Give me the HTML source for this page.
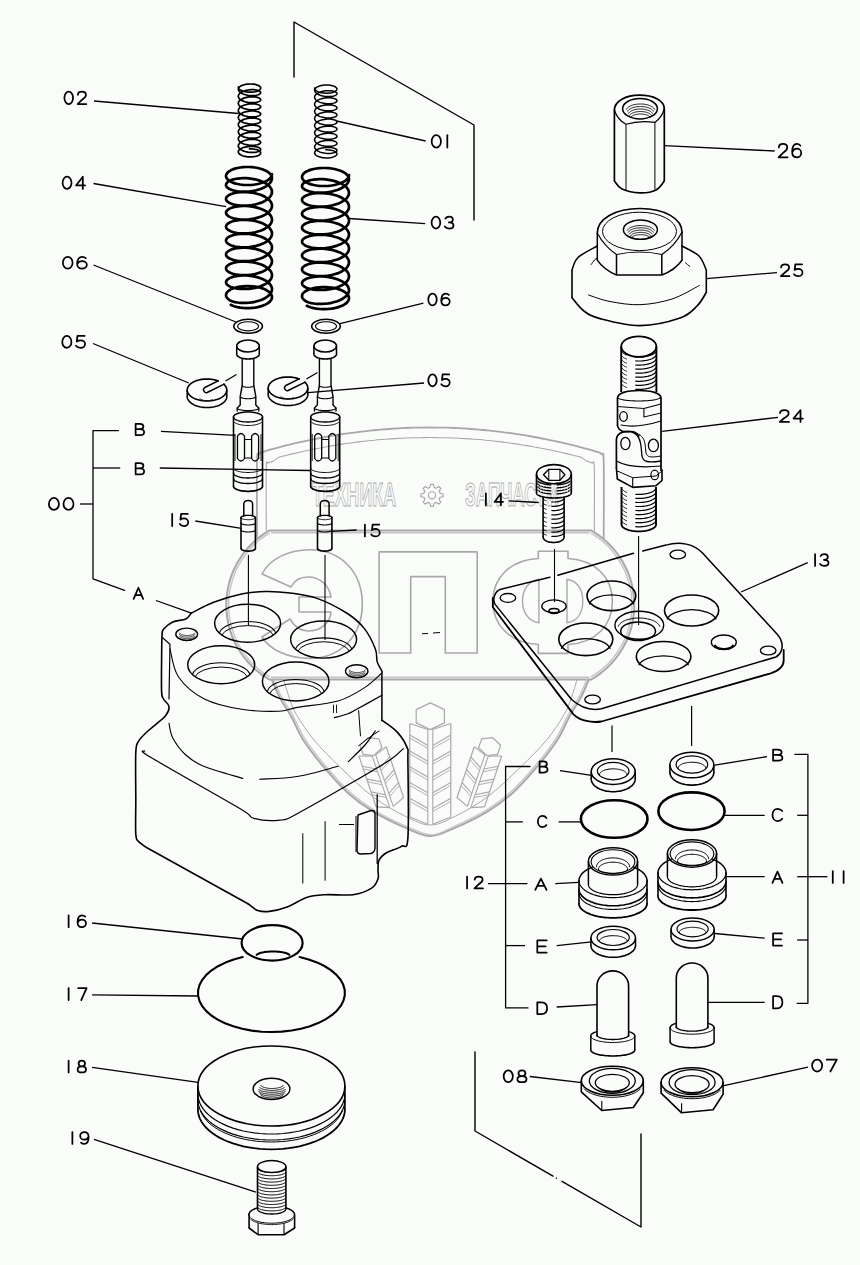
<!DOCTYPE html>
<html><head><meta charset="utf-8"><style>
html,body{margin:0;padding:0;background:#fafcfa;}
body{width:860px;height:1265px;overflow:hidden;}
svg{display:block;font-family:"Liberation Sans",sans-serif;}
</style></head><body>
<svg width="860" height="1265" viewBox="0 0 860 1265">
<rect width="860" height="1265" fill="#fafcfa"/>
<path d="M257.0,538.0 C257.0,525.3 256.7,476.0 257.0,462.0 C257.3,448.0 257.7,455.8 259.0,454.0 C260.3,452.2 262.6,452.2 265.0,451.3 C267.4,450.4 270.5,449.6 273.2,448.8 C276.0,448.1 278.8,447.4 281.5,446.6 C284.2,445.9 287.0,445.2 289.8,444.6 C292.5,443.9 295.2,443.3 298.0,442.6 C300.8,442.0 303.5,441.4 306.2,440.8 C309.0,440.2 311.8,439.6 314.5,439.1 C317.2,438.5 320.0,438.0 322.8,437.5 C325.5,437.0 328.2,436.5 331.0,436.0 C333.8,435.5 336.5,435.1 339.2,434.6 C342.0,434.2 344.8,433.8 347.5,433.4 C350.2,433.0 353.0,432.6 355.8,432.3 C358.5,431.9 361.2,431.6 364.0,431.3 C366.8,431.0 369.5,430.7 372.2,430.4 C375.0,430.1 377.8,429.9 380.5,429.6 C383.2,429.4 386.0,429.2 388.8,429.0 C391.5,428.8 394.2,428.6 397.0,428.4 C399.8,428.3 402.5,428.1 405.2,428.0 C408.0,427.9 410.8,427.8 413.5,427.7 C416.2,427.7 419.0,427.6 421.8,427.6 C424.5,427.5 427.2,427.5 430.0,427.5 C432.8,427.5 435.5,427.5 438.2,427.6 C441.0,427.6 443.8,427.7 446.5,427.7 C449.2,427.8 452.0,427.9 454.8,428.0 C457.5,428.1 460.2,428.3 463.0,428.4 C465.8,428.6 468.5,428.8 471.2,429.0 C474.0,429.2 476.8,429.4 479.5,429.6 C482.2,429.9 485.0,430.1 487.8,430.4 C490.5,430.7 493.2,431.0 496.0,431.3 C498.8,431.6 501.5,431.9 504.2,432.3 C507.0,432.6 509.8,433.0 512.5,433.4 C515.2,433.8 518.0,434.2 520.8,434.6 C523.5,435.1 526.2,435.5 529.0,436.0 C531.8,436.5 534.5,437.0 537.2,437.5 C540.0,438.0 542.8,438.5 545.5,439.1 C548.2,439.6 551.0,440.2 553.8,440.8 C556.5,441.4 559.2,442.0 562.0,442.6 C564.8,443.3 567.5,443.9 570.2,444.6 C573.0,445.2 575.8,445.9 578.5,446.6 C581.2,447.4 584.0,448.1 586.8,448.8 C589.5,449.6 592.5,450.4 595.0,451.3 C597.5,452.2 600.0,452.2 601.5,454.0 C603.0,455.8 603.3,448.0 603.7,462.0 C604.1,476.0 603.7,525.3 603.7,538.0" stroke="#a8a8a8" stroke-width="1.8" fill="none" stroke-linejoin="round" stroke-linecap="round"/>
<path d="M266.3,530.5 C266.3,520.1 266.0,479.2 266.3,468.0 C266.6,456.8 266.9,464.1 268.0,463.0 C269.1,461.9 271.2,462.2 273.0,461.3 C274.8,460.4 276.6,458.3 278.9,457.3 C281.3,456.3 284.2,455.9 286.9,455.3 C289.5,454.6 292.2,454.0 294.9,453.4 C297.5,452.7 300.2,452.1 302.8,451.5 C305.4,451.0 308.1,450.4 310.8,449.8 C313.4,449.3 316.1,448.8 318.7,448.3 C321.3,447.7 324.0,447.2 326.6,446.8 C329.3,446.3 332.0,445.8 334.6,445.4 C337.2,445.0 339.9,444.5 342.6,444.1 C345.2,443.7 347.9,443.4 350.5,443.0 C353.1,442.6 355.8,442.3 358.4,441.9 C361.1,441.6 363.8,441.3 366.4,441.0 C369.0,440.7 371.7,440.4 374.4,440.2 C377.0,439.9 379.7,439.7 382.3,439.5 C384.9,439.3 387.6,439.1 390.2,438.9 C392.9,438.7 395.6,438.5 398.2,438.4 C400.8,438.2 403.5,438.1 406.1,438.0 C408.8,437.9 411.5,437.8 414.1,437.7 C416.8,437.6 419.4,437.6 422.1,437.6 C424.7,437.5 427.4,437.5 430.0,437.5 C432.6,437.5 435.3,437.5 437.9,437.6 C440.6,437.6 443.2,437.6 445.9,437.7 C448.5,437.8 451.2,437.9 453.9,438.0 C456.5,438.1 459.2,438.2 461.8,438.4 C464.4,438.5 467.1,438.7 469.8,438.9 C472.4,439.1 475.1,439.3 477.7,439.5 C480.3,439.7 483.0,439.9 485.6,440.2 C488.3,440.4 491.0,440.7 493.6,441.0 C496.2,441.3 498.9,441.6 501.6,441.9 C504.2,442.3 506.9,442.6 509.5,443.0 C512.1,443.4 514.8,443.7 517.5,444.1 C520.1,444.5 522.8,445.0 525.4,445.4 C528.0,445.8 530.7,446.3 533.4,446.8 C536.0,447.2 538.6,447.7 541.3,448.3 C543.9,448.8 546.6,449.3 549.2,449.8 C551.9,450.4 554.6,451.0 557.2,451.5 C559.9,452.1 562.5,452.7 565.1,453.4 C567.8,454.0 570.5,454.6 573.1,455.3 C575.8,455.9 578.7,456.3 581.0,457.3 C583.4,458.3 585.2,460.4 587.0,461.3 C588.8,462.2 590.8,461.9 592.0,463.0 C593.2,464.1 593.9,456.8 594.3,468.0 C594.7,479.2 594.3,520.1 594.3,530.5" stroke="#a8a8a8" stroke-width="1.1" fill="none" stroke-linejoin="round" stroke-linecap="round"/>
<line x1="269.4" y1="530.5" x2="591.2" y2="530.5" stroke="#a8a8a8" stroke-width="2.0"/>
<line x1="271.0" y1="532.8" x2="589.6" y2="532.8" stroke="#c4c4c4" stroke-width="1.4"/>
<line x1="269.4" y1="679.5" x2="591.2" y2="679.5" stroke="#a8a8a8" stroke-width="2.0"/>
<line x1="271.0" y1="677.2" x2="589.6" y2="677.2" stroke="#c4c4c4" stroke-width="1.4"/>
<polyline points="269.3,679.5 265.5,677.1 261.8,674.6 258.2,671.8 254.8,668.9 251.5,665.8 248.4,662.5 245.5,659.1 242.7,655.5 240.2,651.8 237.8,648.0 235.7,644.0 233.7,640.0 232.0,635.8 230.5,631.6 229.2,627.3 228.2,622.9 227.4,618.5 226.8,614.0 226.4,609.5 226.3,605.0 226.4,600.5 226.8,596.0 227.4,591.5 228.2,587.1 229.2,582.7 230.5,578.4 232.0,574.2 233.7,570.0 235.7,566.0 237.8,562.0 240.2,558.2 242.7,554.5 245.5,550.9 248.4,547.5 251.5,544.2 254.8,541.1 258.2,538.2 261.8,535.4 265.5,532.9 269.3,530.5" stroke="#a8a8a8" stroke-width="2.0" fill="none" stroke-linejoin="round" stroke-linecap="round"/>
<polyline points="269.2,676.7 265.6,674.4 262.0,671.9 258.7,669.3 255.4,666.4 252.3,663.4 249.4,660.2 246.7,656.9 244.1,653.5 241.7,649.9 239.5,646.2 237.4,642.4 235.6,638.5 234.0,634.5 232.6,630.4 231.4,626.3 230.4,622.1 229.6,617.9 229.0,613.6 228.7,609.3 228.6,605.0 228.7,600.7 229.0,596.4 229.6,592.1 230.4,587.9 231.4,583.7 232.6,579.6 234.0,575.5 235.6,571.5 237.4,567.6 239.5,563.8 241.7,560.1 244.1,556.5 246.7,553.1 249.4,549.8 252.3,546.6 255.4,543.6 258.7,540.7 262.0,538.1 265.6,535.6 269.2,533.3" stroke="#c4c4c4" stroke-width="1.4" fill="none" stroke-linejoin="round" stroke-linecap="round"/>
<polyline points="591.3,530.5 595.1,532.9 598.8,535.4 602.4,538.2 605.8,541.1 609.1,544.2 612.2,547.5 615.1,550.9 617.9,554.5 620.4,558.2 622.8,562.0 624.9,566.0 626.9,570.0 628.6,574.2 630.1,578.4 631.4,582.7 632.4,587.1 633.2,591.5 633.8,596.0 634.2,600.5 634.3,605.0 634.2,609.5 633.8,614.0 633.2,618.5 632.4,622.9 631.4,627.3 630.1,631.6 628.6,635.8 626.9,640.0 624.9,644.0 622.8,648.0 620.4,651.8 617.9,655.5 615.1,659.1 612.2,662.5 609.1,665.8 605.8,668.9 602.4,671.8 598.8,674.6 595.1,677.1 591.3,679.5" stroke="#a8a8a8" stroke-width="2.0" fill="none" stroke-linejoin="round" stroke-linecap="round"/>
<polyline points="591.4,533.3 595.0,535.6 598.6,538.1 601.9,540.7 605.2,543.6 608.3,546.6 611.2,549.8 613.9,553.1 616.5,556.5 618.9,560.1 621.1,563.8 623.2,567.6 625.0,571.5 626.6,575.5 628.0,579.6 629.2,583.7 630.2,587.9 631.0,592.1 631.6,596.4 631.9,600.7 632.0,605.0 631.9,609.3 631.6,613.6 631.0,617.9 630.2,622.1 629.2,626.3 628.0,630.4 626.6,634.5 625.0,638.5 623.2,642.4 621.1,646.2 618.9,649.9 616.5,653.5 613.9,656.9 611.2,660.2 608.3,663.4 605.2,666.4 601.9,669.3 598.6,671.9 595.0,674.4 591.4,676.7" stroke="#c4c4c4" stroke-width="1.4" fill="none" stroke-linejoin="round" stroke-linecap="round"/>
<path d="M272.0,680.0 C273.4,683.1 277.0,692.4 280.2,698.4 C283.4,704.4 287.1,709.1 291.0,716.0 C294.9,722.9 297.7,731.4 303.3,740.0 C308.9,748.6 316.8,758.8 324.4,767.7 C332.0,776.7 340.6,786.4 348.8,793.7 C357.0,801.0 363.8,805.9 373.3,811.6 C382.8,817.3 396.3,823.8 405.8,827.9 C415.3,832.0 422.0,836.0 430.2,836.0 C438.4,836.0 445.3,832.0 454.8,827.9 C464.3,823.8 477.8,817.3 487.3,811.6 C496.8,805.9 503.6,801.0 511.8,793.7 C520.0,786.4 528.6,776.7 536.2,767.7 C543.8,758.8 551.7,748.6 557.3,740.0 C562.9,731.4 565.8,722.9 569.6,716.0 C573.5,709.1 577.2,704.4 580.4,698.4 C583.6,692.4 587.2,683.1 588.6,680.0" stroke="#a8a8a8" stroke-width="2.0" fill="none" stroke-linejoin="round" stroke-linecap="round"/>
<path d="M273.6,678.8 C275.0,681.9 278.6,691.2 281.8,697.2 C285.0,703.2 288.8,707.9 292.6,714.8 C296.5,721.7 299.3,730.2 304.9,738.8 C310.5,747.4 318.4,757.5 326.0,766.5 C333.6,775.5 342.2,785.2 350.4,792.5 C358.6,799.8 365.4,804.7 374.9,810.4 C384.4,816.1 397.9,822.6 407.4,826.7 C416.9,830.8 424.2,834.8 431.8,834.8 C439.4,834.8 444.2,830.8 453.2,826.7 C462.2,822.6 476.2,816.1 485.7,810.4 C495.2,804.7 502.0,799.8 510.2,792.5 C518.4,785.2 527.0,775.5 534.6,766.5 C542.2,757.5 550.1,747.4 555.7,738.8 C561.3,730.2 564.1,721.7 568.0,714.8 C571.9,707.9 575.6,703.2 578.8,697.2 C582.0,691.2 585.6,681.9 587.0,678.8" stroke="#c4c4c4" stroke-width="1.2" fill="none" stroke-linejoin="round" stroke-linecap="round"/>
<path d="M283.7,680.0 C284.8,683.3 287.9,694.2 290.0,700.0 C292.1,705.8 292.5,708.0 296.5,714.7 C300.5,721.4 306.6,731.2 314.0,740.0 C321.4,748.8 330.8,758.2 340.7,767.7 C350.6,777.2 362.4,788.9 373.3,797.0 C384.2,805.1 396.3,811.8 405.8,816.5 C415.3,821.2 422.1,825.0 430.3,825.0 C438.5,825.0 445.3,821.2 454.8,816.5 C464.3,811.8 476.4,805.1 487.3,797.0 C498.2,788.9 510.0,777.2 519.9,767.7 C529.8,758.2 539.2,748.8 546.6,740.0 C554.0,731.2 560.1,721.4 564.1,714.7 C568.1,708.0 568.5,705.8 570.6,700.0 C572.7,694.2 575.9,683.3 576.9,680.0" stroke="#a8a8a8" stroke-width="1.0" fill="none" stroke-linejoin="round" stroke-linecap="round"/>
<text x="312" y="506.4" font-size="33" font-weight="bold" textLength="84" lengthAdjust="spacingAndGlyphs" fill="none" stroke="#a8a8a8" stroke-width="1.0">ТЕХНИКА</text>
<text x="465" y="506.4" font-size="33" font-weight="bold" textLength="94" lengthAdjust="spacingAndGlyphs" fill="none" stroke="#a8a8a8" stroke-width="1.0">ЗАПЧАСТИ</text>
<polygon points="443.1,494.0 443.1,496.6 439.9,497.5 439.1,499.3 440.8,502.2 438.9,504.1 436.0,502.4 434.2,503.2 433.3,506.4 430.7,506.4 429.8,503.2 428.0,502.4 425.1,504.1 423.2,502.2 424.9,499.3 424.1,497.5 420.9,496.6 420.9,494.0 424.1,493.1 424.9,491.3 423.2,488.4 425.1,486.5 428.0,488.2 429.8,487.4 430.7,484.2 433.3,484.2 434.2,487.4 436.0,488.2 438.9,486.5 440.8,488.4 439.1,491.3 439.9,493.1" stroke="#a8a8a8" stroke-width="1.2" fill="none" stroke-linejoin="round" stroke-linecap="round"/>
<ellipse cx="432.0" cy="495.3" rx="3.6" ry="3.6" stroke="#a8a8a8" stroke-width="1.1" fill="none"/>
<path d="M379.1,653 L379.1,551.9 L477.2,551.9 L477.2,653 L445.3,653 L445.3,576.6 L410.7,576.6 L410.7,653 Z" stroke="#a8a8a8" stroke-width="1.6" fill="none" stroke-linejoin="round" stroke-linecap="round"/>
<path d="M262,574 C270,558 290,549.7 310,549.7 C342,549.7 362.3,573 362.3,604 C362.3,636 340,658.4 310,658.4 C288,658.4 270,650 262,637 L290,619 C294,626 300,631 308,631 C321,631 330,623 331,612 L299,612 L299,597 L331,597 C329,585 320,577 308,577 C300,577 294,581 291,587 Z" stroke="#a8a8a8" stroke-width="1.6" fill="none" stroke-linejoin="round" stroke-linecap="round"/>
<path d="M538.3,653.4 L538.3,644.5 C510,643 492.8,625 492.8,601.5 C492.8,578 510,560 538.3,558.5 L538.3,551.2 L568,551.2 L568,558.5 C596,560 612.4,578 612.4,601.5 C612.4,625 596,643 568,644.5 L568,653.4 Z" stroke="#a8a8a8" stroke-width="1.6" fill="none" stroke-linejoin="round" stroke-linecap="round"/>
<path d="M538.9,579.3 C528,581 522.5,590 522.5,601 C522.5,612 528,621 538.9,622.8 Z" stroke="#a8a8a8" stroke-width="1.4" fill="none" stroke-linejoin="round" stroke-linecap="round"/>
<path d="M567,579.3 C578,581 582.8,590 582.8,601 C582.8,612 578,621 567,622.8 Z" stroke="#a8a8a8" stroke-width="1.4" fill="none" stroke-linejoin="round" stroke-linecap="round"/>
<polygon points="430.3,702.9 416.2,709.6 416.2,722.9 430.3,729.6 444.4,722.9 444.4,709.6" stroke="#a8a8a8" stroke-width="1.2" fill="none" stroke-linejoin="round" stroke-linecap="round"/>
<line x1="409.8" y1="723.5" x2="409.8" y2="817.1" stroke="#a8a8a8" stroke-width="1.2"/>
<line x1="409.8" y1="723.5" x2="427.8" y2="729.6" stroke="#a8a8a8" stroke-width="1.1"/>
<line x1="409.8" y1="817.1" x2="427.8" y2="824.3" stroke="#a8a8a8" stroke-width="1.1"/>
<line x1="427.8" y1="729.6" x2="427.8" y2="824.3" stroke="#a8a8a8" stroke-width="1.1"/>
<line x1="409.8" y1="735.1" x2="427.8" y2="745.4" stroke="#a8a8a8" stroke-width="1.1"/>
<line x1="409.8" y1="738.1" x2="427.8" y2="748.4" stroke="#a8a8a8" stroke-width="0.9"/>
<line x1="409.8" y1="750.9" x2="427.8" y2="761.2" stroke="#a8a8a8" stroke-width="1.1"/>
<line x1="409.8" y1="753.9" x2="427.8" y2="764.2" stroke="#a8a8a8" stroke-width="0.9"/>
<line x1="409.8" y1="766.7" x2="427.8" y2="777.0" stroke="#a8a8a8" stroke-width="1.1"/>
<line x1="409.8" y1="769.7" x2="427.8" y2="780.0" stroke="#a8a8a8" stroke-width="0.9"/>
<line x1="409.8" y1="782.5" x2="427.8" y2="792.7" stroke="#a8a8a8" stroke-width="1.1"/>
<line x1="409.8" y1="785.5" x2="427.8" y2="795.7" stroke="#a8a8a8" stroke-width="0.9"/>
<line x1="409.8" y1="798.3" x2="427.8" y2="808.5" stroke="#a8a8a8" stroke-width="1.1"/>
<line x1="409.8" y1="801.3" x2="427.8" y2="811.5" stroke="#a8a8a8" stroke-width="0.9"/>
<line x1="450.8" y1="723.5" x2="450.8" y2="817.1" stroke="#a8a8a8" stroke-width="1.2"/>
<line x1="450.8" y1="723.5" x2="432.8" y2="729.6" stroke="#a8a8a8" stroke-width="1.1"/>
<line x1="450.8" y1="817.1" x2="432.8" y2="824.3" stroke="#a8a8a8" stroke-width="1.1"/>
<line x1="432.8" y1="729.6" x2="432.8" y2="824.3" stroke="#a8a8a8" stroke-width="1.1"/>
<line x1="450.8" y1="735.1" x2="432.8" y2="745.4" stroke="#a8a8a8" stroke-width="1.1"/>
<line x1="450.8" y1="738.1" x2="432.8" y2="748.4" stroke="#a8a8a8" stroke-width="0.9"/>
<line x1="450.8" y1="750.9" x2="432.8" y2="761.2" stroke="#a8a8a8" stroke-width="1.1"/>
<line x1="450.8" y1="753.9" x2="432.8" y2="764.2" stroke="#a8a8a8" stroke-width="0.9"/>
<line x1="450.8" y1="766.7" x2="432.8" y2="777.0" stroke="#a8a8a8" stroke-width="1.1"/>
<line x1="450.8" y1="769.7" x2="432.8" y2="780.0" stroke="#a8a8a8" stroke-width="0.9"/>
<line x1="450.8" y1="782.5" x2="432.8" y2="792.7" stroke="#a8a8a8" stroke-width="1.1"/>
<line x1="450.8" y1="785.5" x2="432.8" y2="795.7" stroke="#a8a8a8" stroke-width="0.9"/>
<line x1="450.8" y1="798.3" x2="432.8" y2="808.5" stroke="#a8a8a8" stroke-width="1.1"/>
<line x1="450.8" y1="801.3" x2="432.8" y2="811.5" stroke="#a8a8a8" stroke-width="0.9"/>
<polygon points="367.9,737.7 360.0,745.3 363.0,754.3 374.0,755.5 382.0,747.8 378.9,738.9" stroke="#a8a8a8" stroke-width="1.2" fill="none" stroke-linejoin="round" stroke-linecap="round"/>
<line x1="358.9" y1="756.0" x2="376.1" y2="806.9" stroke="#a8a8a8" stroke-width="1.2"/>
<line x1="358.9" y1="756.0" x2="372.3" y2="756.1" stroke="#a8a8a8" stroke-width="1.1"/>
<line x1="376.1" y1="806.9" x2="389.8" y2="807.6" stroke="#a8a8a8" stroke-width="1.1"/>
<line x1="372.3" y1="756.1" x2="389.8" y2="807.6" stroke="#a8a8a8" stroke-width="1.1"/>
<line x1="362.3" y1="766.2" x2="376.7" y2="769.0" stroke="#a8a8a8" stroke-width="1.1"/>
<line x1="363.3" y1="769.0" x2="377.6" y2="771.8" stroke="#a8a8a8" stroke-width="0.9"/>
<line x1="366.7" y1="779.1" x2="381.0" y2="781.8" stroke="#a8a8a8" stroke-width="1.1"/>
<line x1="367.7" y1="781.9" x2="382.0" y2="784.7" stroke="#a8a8a8" stroke-width="0.9"/>
<line x1="371.1" y1="791.9" x2="385.4" y2="794.7" stroke="#a8a8a8" stroke-width="1.1"/>
<line x1="372.0" y1="794.8" x2="386.4" y2="797.5" stroke="#a8a8a8" stroke-width="0.9"/>
<line x1="386.3" y1="746.7" x2="403.6" y2="797.5" stroke="#a8a8a8" stroke-width="1.2"/>
<line x1="386.3" y1="746.7" x2="375.7" y2="754.9" stroke="#a8a8a8" stroke-width="1.1"/>
<line x1="403.6" y1="797.5" x2="393.2" y2="806.4" stroke="#a8a8a8" stroke-width="1.1"/>
<line x1="375.7" y1="754.9" x2="393.2" y2="806.4" stroke="#a8a8a8" stroke-width="1.1"/>
<line x1="389.8" y1="756.8" x2="380.1" y2="767.8" stroke="#a8a8a8" stroke-width="1.1"/>
<line x1="390.7" y1="759.7" x2="381.0" y2="770.6" stroke="#a8a8a8" stroke-width="0.9"/>
<line x1="394.1" y1="769.7" x2="384.5" y2="780.7" stroke="#a8a8a8" stroke-width="1.1"/>
<line x1="395.1" y1="772.6" x2="385.4" y2="783.5" stroke="#a8a8a8" stroke-width="0.9"/>
<line x1="398.5" y1="782.6" x2="388.8" y2="793.5" stroke="#a8a8a8" stroke-width="1.1"/>
<line x1="399.5" y1="785.4" x2="389.8" y2="796.4" stroke="#a8a8a8" stroke-width="0.9"/>
<polygon points="492.7,737.7 481.7,738.9 478.6,747.8 486.6,755.5 497.6,754.3 500.6,745.3" stroke="#a8a8a8" stroke-width="1.2" fill="none" stroke-linejoin="round" stroke-linecap="round"/>
<line x1="474.3" y1="746.7" x2="457.0" y2="797.5" stroke="#a8a8a8" stroke-width="1.2"/>
<line x1="474.3" y1="746.7" x2="484.9" y2="754.9" stroke="#a8a8a8" stroke-width="1.1"/>
<line x1="457.0" y1="797.5" x2="467.4" y2="806.4" stroke="#a8a8a8" stroke-width="1.1"/>
<line x1="484.9" y1="754.9" x2="467.4" y2="806.4" stroke="#a8a8a8" stroke-width="1.1"/>
<line x1="470.8" y1="756.8" x2="480.5" y2="767.8" stroke="#a8a8a8" stroke-width="1.1"/>
<line x1="469.9" y1="759.7" x2="479.6" y2="770.6" stroke="#a8a8a8" stroke-width="0.9"/>
<line x1="466.5" y1="769.7" x2="476.1" y2="780.7" stroke="#a8a8a8" stroke-width="1.1"/>
<line x1="465.5" y1="772.6" x2="475.2" y2="783.5" stroke="#a8a8a8" stroke-width="0.9"/>
<line x1="462.1" y1="782.6" x2="471.8" y2="793.5" stroke="#a8a8a8" stroke-width="1.1"/>
<line x1="461.1" y1="785.4" x2="470.8" y2="796.4" stroke="#a8a8a8" stroke-width="0.9"/>
<line x1="501.7" y1="756.0" x2="484.5" y2="806.9" stroke="#a8a8a8" stroke-width="1.2"/>
<line x1="501.7" y1="756.0" x2="488.3" y2="756.1" stroke="#a8a8a8" stroke-width="1.1"/>
<line x1="484.5" y1="806.9" x2="470.8" y2="807.6" stroke="#a8a8a8" stroke-width="1.1"/>
<line x1="488.3" y1="756.1" x2="470.8" y2="807.6" stroke="#a8a8a8" stroke-width="1.1"/>
<line x1="498.3" y1="766.2" x2="483.9" y2="769.0" stroke="#a8a8a8" stroke-width="1.1"/>
<line x1="497.3" y1="769.0" x2="483.0" y2="771.8" stroke="#a8a8a8" stroke-width="0.9"/>
<line x1="493.9" y1="779.1" x2="479.6" y2="781.8" stroke="#a8a8a8" stroke-width="1.1"/>
<line x1="492.9" y1="781.9" x2="478.6" y2="784.7" stroke="#a8a8a8" stroke-width="0.9"/>
<line x1="489.5" y1="791.9" x2="475.2" y2="794.7" stroke="#a8a8a8" stroke-width="1.1"/>
<line x1="488.6" y1="794.8" x2="474.2" y2="797.5" stroke="#a8a8a8" stroke-width="0.9"/>
<polyline points="294.0,77.0 294.0,22.0 474.0,125.0 474.0,220.0" stroke="#000" stroke-width="1.4" fill="none" stroke-linejoin="round" stroke-linecap="round"/>
<polyline points="475.0,1052.0 475.0,1131.0 553.0,1176.1" stroke="#000" stroke-width="1.4" fill="none" stroke-linejoin="round" stroke-linecap="round"/>
<line x1="556.0" y1="1177.8" x2="557.0" y2="1178.4" stroke="#000" stroke-width="1.4"/>
<polyline points="562.0,1181.3 641.0,1227.0 641.0,1134.0" stroke="#000" stroke-width="1.4" fill="none" stroke-linejoin="round" stroke-linecap="round"/>
<path d="M238.3,87.1 L238.4,87.7 L238.7,88.4 L239.2,89.0 L239.8,89.6 L240.6,90.1 L241.6,90.6 L242.7,91.0 L243.9,91.4 L245.2,91.7 L246.6,92.0 L248.0,92.1 L249.5,92.2 L251.0,92.2 L252.4,92.1 L253.8,92.0 L255.1,91.8 L256.3,91.5 L257.4,91.1 L258.4,90.7 L259.2,90.2 L259.8,89.7 L260.3,89.2 L260.6,88.7 L260.7,88.1 L260.6,87.5 L260.3,87.0 L259.8,86.5 L259.2,86.0 L258.4,85.5 L257.4,85.1 L256.3,84.7 L255.1,84.4 L253.8,84.2 L252.4,84.1 L251.0,84.0 L249.5,84.0 L248.0,84.1 L246.6,84.2 L245.2,84.5 L243.9,84.8 L242.7,85.2 L241.6,85.6 L240.6,86.1 L239.8,86.6 L239.2,87.2 L238.7,87.8 L238.4,88.5 L238.3,89.1 L238.4,89.8 L238.7,90.6 L239.2,91.3 L239.8,92.0 L240.6,92.6 L241.6,93.2 L242.7,93.8 L243.9,94.3 L245.2,94.7 L246.6,95.0 L248.0,95.3 L249.5,95.5 L251.0,95.6 L252.4,95.6 L253.8,95.6 L255.1,95.5 L256.3,95.3 L257.4,95.0 L258.4,94.7 L259.2,94.4 L259.8,94.0 L260.3,93.5 L260.6,93.1 L260.7,92.7 L260.6,92.2 L260.3,91.8 L259.8,91.3 L259.2,90.9 L258.4,90.6 L257.4,90.3 L256.3,90.0 L255.1,89.8 L253.8,89.7 L252.4,89.7 L251.0,89.7 L249.5,89.8 L248.0,90.0 L246.6,90.3 L245.2,90.6 L243.9,91.0 L242.7,91.5 L241.6,92.1 L240.6,92.7 L239.8,93.3 L239.2,94.0 L238.7,94.7 L238.4,95.5 L238.3,96.2 L238.4,96.9 L238.7,97.7 L239.2,98.4 L239.8,99.1 L240.6,99.7 L241.6,100.3 L242.7,100.9 L243.9,101.4 L245.2,101.8 L246.6,102.1 L248.0,102.4 L249.5,102.6 L251.0,102.7 L252.4,102.7 L253.8,102.7 L255.1,102.6 L256.3,102.4 L257.4,102.1 L258.4,101.8 L259.2,101.5 L259.8,101.1 L260.3,100.6 L260.6,100.2 L260.7,99.7 L260.6,99.3 L260.3,98.9 L259.8,98.4 L259.2,98.0 L258.4,97.7 L257.4,97.4 L256.3,97.1 L255.1,96.9 L253.8,96.8 L252.4,96.8 L251.0,96.8 L249.5,96.9 L248.0,97.1 L246.6,97.4 L245.2,97.7 L243.9,98.1 L242.7,98.6 L241.6,99.2 L240.6,99.8 L239.8,100.4 L239.2,101.1 L238.7,101.8 L238.4,102.6 L238.3,103.3 L238.4,104.0 L238.7,104.8 L239.2,105.5 L239.8,106.2 L240.6,106.8 L241.6,107.4 L242.7,108.0 L243.9,108.5 L245.2,108.9 L246.6,109.2 L248.0,109.5 L249.5,109.7 L251.0,109.8 L252.4,109.8 L253.8,109.8 L255.1,109.7 L256.3,109.5 L257.4,109.2 L258.4,108.9 L259.2,108.6 L259.8,108.2 L260.3,107.7 L260.6,107.3 L260.7,106.8 L260.6,106.4 L260.3,106.0 L259.8,105.5 L259.2,105.1 L258.4,104.8 L257.4,104.5 L256.3,104.2 L255.1,104.0 L253.8,103.9 L252.4,103.9 L251.0,103.9 L249.5,104.0 L248.0,104.2 L246.6,104.5 L245.2,104.8 L243.9,105.2 L242.7,105.7 L241.6,106.3 L240.6,106.9 L239.8,107.5 L239.2,108.2 L238.7,108.9 L238.4,109.7 L238.3,110.4 L238.4,111.1 L238.7,111.9 L239.2,112.6 L239.8,113.3 L240.6,113.9 L241.6,114.5 L242.7,115.1 L243.9,115.6 L245.2,116.0 L246.6,116.3 L248.0,116.6 L249.5,116.8 L251.0,116.9 L252.4,116.9 L253.8,116.9 L255.1,116.8 L256.3,116.6 L257.4,116.3 L258.4,116.0 L259.2,115.7 L259.8,115.3 L260.3,114.8 L260.6,114.4 L260.7,113.9 L260.6,113.5 L260.3,113.1 L259.8,112.6 L259.2,112.2 L258.4,111.9 L257.4,111.6 L256.3,111.3 L255.1,111.1 L253.8,111.0 L252.4,111.0 L251.0,111.0 L249.5,111.1 L248.0,111.3 L246.6,111.6 L245.2,111.9 L243.9,112.3 L242.7,112.8 L241.6,113.4 L240.6,114.0 L239.8,114.6 L239.2,115.3 L238.7,116.0 L238.4,116.8 L238.3,117.5 L238.4,118.2 L238.7,119.0 L239.2,119.7 L239.8,120.4 L240.6,121.0 L241.6,121.6 L242.7,122.2 L243.9,122.7 L245.2,123.1 L246.6,123.4 L248.0,123.7 L249.5,123.9 L251.0,124.0 L252.4,124.0 L253.8,124.0 L255.1,123.9 L256.3,123.7 L257.4,123.4 L258.4,123.1 L259.2,122.8 L259.8,122.4 L260.3,121.9 L260.6,121.5 L260.7,121.0 L260.6,120.6 L260.3,120.2 L259.8,119.7 L259.2,119.3 L258.4,119.0 L257.4,118.7 L256.3,118.4 L255.1,118.2 L253.8,118.1 L252.4,118.1 L251.0,118.1 L249.5,118.2 L248.0,118.4 L246.6,118.7 L245.2,119.0 L243.9,119.4 L242.7,119.9 L241.6,120.5 L240.6,121.1 L239.8,121.7 L239.2,122.4 L238.7,123.1 L238.4,123.9 L238.3,124.6 L238.4,125.3 L238.7,126.1 L239.2,126.8 L239.8,127.5 L240.6,128.1 L241.6,128.7 L242.7,129.3 L243.9,129.8 L245.2,130.2 L246.6,130.5 L248.0,130.8 L249.5,131.0 L251.0,131.1 L252.4,131.1 L253.8,131.1 L255.1,131.0 L256.3,130.8 L257.4,130.5 L258.4,130.2 L259.2,129.9 L259.8,129.5 L260.3,129.0 L260.6,128.6 L260.7,128.1 L260.6,127.7 L260.3,127.3 L259.8,126.8 L259.2,126.4 L258.4,126.1 L257.4,125.8 L256.3,125.5 L255.1,125.3 L253.8,125.2 L252.4,125.2 L251.0,125.2 L249.5,125.3 L248.0,125.5 L246.6,125.8 L245.2,126.1 L243.9,126.5 L242.7,127.0 L241.6,127.6 L240.6,128.2 L239.8,128.8 L239.2,129.5 L238.7,130.2 L238.4,131.0 L238.3,131.7 L238.4,132.4 L238.7,133.2 L239.2,133.9 L239.8,134.6 L240.6,135.2 L241.6,135.8 L242.7,136.4 L243.9,136.9 L245.2,137.3 L246.6,137.6 L248.0,137.9 L249.5,138.1 L251.0,138.2 L252.4,138.2 L253.8,138.2 L255.1,138.1 L256.3,137.9 L257.4,137.6 L258.4,137.3 L259.2,137.0 L259.8,136.6 L260.3,136.1 L260.6,135.7 L260.7,135.2 L260.6,134.8 L260.3,134.4 L259.8,133.9 L259.2,133.5 L258.4,133.2 L257.4,132.9 L256.3,132.6 L255.1,132.4 L253.8,132.3 L252.4,132.3 L251.0,132.3 L249.5,132.4 L248.0,132.6 L246.6,132.9 L245.2,133.2 L243.9,133.6 L242.7,134.1 L241.6,134.7 L240.6,135.3 L239.8,135.9 L239.2,136.6 L238.7,137.3 L238.4,138.1 L238.3,138.8 L238.4,139.5 L238.7,140.3 L239.2,141.0 L239.8,141.7 L240.6,142.3 L241.6,142.9 L242.7,143.5 L243.9,144.0 L245.2,144.4 L246.6,144.7 L248.0,145.0 L249.5,145.2 L251.0,145.3 L252.4,145.3 L253.8,145.3 L255.1,145.2 L256.3,145.0 L257.4,144.7 L258.4,144.4 L259.2,144.1 L259.8,143.7 L260.3,143.2 L260.6,142.8 L260.7,142.4 L260.6,141.9 L260.3,141.5 L259.8,141.0 L259.2,140.6 L258.4,140.3 L257.4,140.0 L256.3,139.7 L255.1,139.5 L253.8,139.4 L252.4,139.4 L251.0,139.4 L249.5,139.5 L248.0,139.7 L246.6,140.0 L245.2,140.3 L243.9,140.7 L242.7,141.2 L241.6,141.8 L240.6,142.4 L239.8,143.0 L239.2,143.7 L238.7,144.4 L238.4,145.2 L238.3,145.9 L238.4,146.6 L238.7,147.4 L239.2,148.1 L239.8,148.8 L240.6,149.4 L241.6,150.0 L242.7,150.6 L243.9,151.1 L245.2,151.5 L246.6,151.8 L248.0,152.1 L249.5,152.3 L251.0,152.4 L252.4,152.4 L253.8,152.4 L255.1,152.3 L256.3,152.1 L257.4,151.8 L258.4,151.5 L259.2,151.2 L259.8,150.8 L260.3,150.3 L260.6,149.9 L260.7,149.5 L260.6,149.0 L260.3,148.6 L259.8,148.1 L259.2,147.7 L258.4,147.4 L257.4,147.1 L256.3,146.8 L255.1,146.6 L253.8,146.5 L252.4,146.5 L251.0,146.5 L249.5,146.6 L248.0,146.7 L246.6,146.9 L245.2,147.1 L243.9,147.4 L242.7,147.8 L241.6,148.2 L240.6,148.7 L239.8,149.3 L239.2,149.9 L238.7,150.5 L238.4,151.1 L238.3,151.8 L238.4,152.4 L238.7,153.1 L239.2,153.7 L239.8,154.3 L240.6,154.8 L241.6,155.3 L242.7,155.7 L243.9,156.1 L245.2,156.4 L246.6,156.7 L248.0,156.8 L249.5,156.9 L251.0,156.9 L252.4,156.9 L253.8,156.7 L255.1,156.5 L256.3,156.2 L257.4,155.9 L258.4,155.4 L259.2,155.0 L259.8,154.5 L260.3,154.0 L260.6,153.4 L260.7,152.9 L260.6,152.3 L260.3,151.8 L259.8,151.3 L259.2,150.8 L258.4,150.3 L257.4,149.9 L256.3,149.5 L255.1,149.3 L253.8,149.0 L252.4,148.9 L251.0,148.8 L249.5,148.8" stroke="#000" stroke-width="1.7" fill="none" stroke-linejoin="round" stroke-linecap="round"/>
<path d="M314.6,88.1 L314.7,88.7 L315.0,89.4 L315.5,90.0 L316.1,90.6 L316.9,91.1 L317.9,91.6 L319.0,92.0 L320.2,92.4 L321.5,92.7 L322.9,93.0 L324.3,93.1 L325.8,93.2 L327.3,93.2 L328.7,93.1 L330.1,93.0 L331.4,92.8 L332.6,92.5 L333.7,92.1 L334.7,91.7 L335.5,91.2 L336.1,90.7 L336.6,90.2 L336.9,89.7 L337.0,89.1 L336.9,88.5 L336.6,88.0 L336.1,87.5 L335.5,87.0 L334.7,86.5 L333.7,86.1 L332.6,85.7 L331.4,85.4 L330.1,85.2 L328.7,85.1 L327.3,85.0 L325.8,85.0 L324.3,85.1 L322.9,85.2 L321.5,85.5 L320.2,85.8 L319.0,86.2 L317.9,86.6 L316.9,87.1 L316.1,87.6 L315.5,88.2 L315.0,88.8 L314.7,89.5 L314.6,90.1 L314.7,90.8 L315.0,91.6 L315.5,92.3 L316.1,93.0 L316.9,93.6 L317.9,94.2 L319.0,94.8 L320.2,95.3 L321.5,95.7 L322.9,96.0 L324.3,96.3 L325.8,96.5 L327.3,96.6 L328.7,96.6 L330.1,96.6 L331.4,96.5 L332.6,96.3 L333.7,96.0 L334.7,95.7 L335.5,95.4 L336.1,95.0 L336.6,94.5 L336.9,94.1 L337.0,93.7 L336.9,93.2 L336.6,92.8 L336.1,92.3 L335.5,91.9 L334.7,91.6 L333.7,91.3 L332.6,91.0 L331.4,90.8 L330.1,90.7 L328.7,90.7 L327.3,90.7 L325.8,90.8 L324.3,91.0 L322.9,91.3 L321.5,91.6 L320.2,92.0 L319.0,92.5 L317.9,93.1 L316.9,93.7 L316.1,94.3 L315.5,95.0 L315.0,95.7 L314.7,96.5 L314.6,97.2 L314.7,97.9 L315.0,98.7 L315.5,99.4 L316.1,100.1 L316.9,100.7 L317.9,101.3 L319.0,101.9 L320.2,102.4 L321.5,102.8 L322.9,103.1 L324.3,103.4 L325.8,103.6 L327.3,103.7 L328.7,103.7 L330.1,103.7 L331.4,103.6 L332.6,103.4 L333.7,103.1 L334.7,102.8 L335.5,102.5 L336.1,102.1 L336.6,101.6 L336.9,101.2 L337.0,100.7 L336.9,100.3 L336.6,99.9 L336.1,99.4 L335.5,99.0 L334.7,98.7 L333.7,98.4 L332.6,98.1 L331.4,97.9 L330.1,97.8 L328.7,97.8 L327.3,97.8 L325.8,97.9 L324.3,98.1 L322.9,98.4 L321.5,98.7 L320.2,99.1 L319.0,99.6 L317.9,100.2 L316.9,100.8 L316.1,101.4 L315.5,102.1 L315.0,102.8 L314.7,103.6 L314.6,104.3 L314.7,105.0 L315.0,105.8 L315.5,106.5 L316.1,107.2 L316.9,107.8 L317.9,108.4 L319.0,109.0 L320.2,109.5 L321.5,109.9 L322.9,110.2 L324.3,110.5 L325.8,110.7 L327.3,110.8 L328.7,110.8 L330.1,110.8 L331.4,110.7 L332.6,110.5 L333.7,110.2 L334.7,109.9 L335.5,109.6 L336.1,109.2 L336.6,108.7 L336.9,108.3 L337.0,107.8 L336.9,107.4 L336.6,107.0 L336.1,106.5 L335.5,106.1 L334.7,105.8 L333.7,105.5 L332.6,105.2 L331.4,105.0 L330.1,104.9 L328.7,104.9 L327.3,104.9 L325.8,105.0 L324.3,105.2 L322.9,105.5 L321.5,105.8 L320.2,106.2 L319.0,106.7 L317.9,107.3 L316.9,107.9 L316.1,108.5 L315.5,109.2 L315.0,109.9 L314.7,110.7 L314.6,111.4 L314.7,112.1 L315.0,112.9 L315.5,113.6 L316.1,114.3 L316.9,114.9 L317.9,115.5 L319.0,116.1 L320.2,116.6 L321.5,117.0 L322.9,117.3 L324.3,117.6 L325.8,117.8 L327.3,117.9 L328.7,117.9 L330.1,117.9 L331.4,117.8 L332.6,117.6 L333.7,117.3 L334.7,117.0 L335.5,116.7 L336.1,116.3 L336.6,115.8 L336.9,115.4 L337.0,114.9 L336.9,114.5 L336.6,114.1 L336.1,113.6 L335.5,113.2 L334.7,112.9 L333.7,112.6 L332.6,112.3 L331.4,112.1 L330.1,112.0 L328.7,112.0 L327.3,112.0 L325.8,112.1 L324.3,112.3 L322.9,112.6 L321.5,112.9 L320.2,113.3 L319.0,113.8 L317.9,114.4 L316.9,115.0 L316.1,115.6 L315.5,116.3 L315.0,117.0 L314.7,117.8 L314.6,118.5 L314.7,119.2 L315.0,120.0 L315.5,120.7 L316.1,121.4 L316.9,122.0 L317.9,122.6 L319.0,123.2 L320.2,123.7 L321.5,124.1 L322.9,124.4 L324.3,124.7 L325.8,124.9 L327.3,125.0 L328.7,125.0 L330.1,125.0 L331.4,124.9 L332.6,124.7 L333.7,124.4 L334.7,124.1 L335.5,123.8 L336.1,123.4 L336.6,122.9 L336.9,122.5 L337.0,122.0 L336.9,121.6 L336.6,121.2 L336.1,120.7 L335.5,120.3 L334.7,120.0 L333.7,119.7 L332.6,119.4 L331.4,119.2 L330.1,119.1 L328.7,119.1 L327.3,119.1 L325.8,119.2 L324.3,119.4 L322.9,119.7 L321.5,120.0 L320.2,120.4 L319.0,120.9 L317.9,121.5 L316.9,122.1 L316.1,122.7 L315.5,123.4 L315.0,124.1 L314.7,124.9 L314.6,125.6 L314.7,126.3 L315.0,127.1 L315.5,127.8 L316.1,128.5 L316.9,129.1 L317.9,129.7 L319.0,130.3 L320.2,130.8 L321.5,131.2 L322.9,131.5 L324.3,131.8 L325.8,132.0 L327.3,132.1 L328.7,132.1 L330.1,132.1 L331.4,132.0 L332.6,131.8 L333.7,131.5 L334.7,131.2 L335.5,130.9 L336.1,130.5 L336.6,130.0 L336.9,129.6 L337.0,129.1 L336.9,128.7 L336.6,128.3 L336.1,127.8 L335.5,127.4 L334.7,127.1 L333.7,126.8 L332.6,126.5 L331.4,126.3 L330.1,126.2 L328.7,126.2 L327.3,126.2 L325.8,126.3 L324.3,126.5 L322.9,126.8 L321.5,127.1 L320.2,127.5 L319.0,128.0 L317.9,128.6 L316.9,129.2 L316.1,129.8 L315.5,130.5 L315.0,131.2 L314.7,132.0 L314.6,132.7 L314.7,133.4 L315.0,134.2 L315.5,134.9 L316.1,135.6 L316.9,136.2 L317.9,136.8 L319.0,137.4 L320.2,137.9 L321.5,138.3 L322.9,138.6 L324.3,138.9 L325.8,139.1 L327.3,139.2 L328.7,139.2 L330.1,139.2 L331.4,139.1 L332.6,138.9 L333.7,138.6 L334.7,138.3 L335.5,138.0 L336.1,137.6 L336.6,137.1 L336.9,136.7 L337.0,136.2 L336.9,135.8 L336.6,135.4 L336.1,134.9 L335.5,134.5 L334.7,134.2 L333.7,133.9 L332.6,133.6 L331.4,133.4 L330.1,133.3 L328.7,133.3 L327.3,133.3 L325.8,133.4 L324.3,133.6 L322.9,133.9 L321.5,134.2 L320.2,134.6 L319.0,135.1 L317.9,135.7 L316.9,136.3 L316.1,136.9 L315.5,137.6 L315.0,138.3 L314.7,139.1 L314.6,139.8 L314.7,140.5 L315.0,141.3 L315.5,142.0 L316.1,142.7 L316.9,143.3 L317.9,143.9 L319.0,144.5 L320.2,145.0 L321.5,145.4 L322.9,145.7 L324.3,146.0 L325.8,146.2 L327.3,146.3 L328.7,146.3 L330.1,146.3 L331.4,146.2 L332.6,146.0 L333.7,145.7 L334.7,145.4 L335.5,145.1 L336.1,144.7 L336.6,144.2 L336.9,143.8 L337.0,143.4 L336.9,142.9 L336.6,142.5 L336.1,142.0 L335.5,141.6 L334.7,141.3 L333.7,141.0 L332.6,140.7 L331.4,140.5 L330.1,140.4 L328.7,140.4 L327.3,140.4 L325.8,140.5 L324.3,140.7 L322.9,141.0 L321.5,141.3 L320.2,141.7 L319.0,142.2 L317.9,142.8 L316.9,143.4 L316.1,144.0 L315.5,144.7 L315.0,145.4 L314.7,146.2 L314.6,146.9 L314.7,147.6 L315.0,148.4 L315.5,149.1 L316.1,149.8 L316.9,150.4 L317.9,151.0 L319.0,151.6 L320.2,152.1 L321.5,152.5 L322.9,152.8 L324.3,153.1 L325.8,153.3 L327.3,153.4 L328.7,153.4 L330.1,153.4 L331.4,153.3 L332.6,153.1 L333.7,152.8 L334.7,152.5 L335.5,152.2 L336.1,151.8 L336.6,151.3 L336.9,150.9 L337.0,150.5 L336.9,150.0 L336.6,149.6 L336.1,149.1 L335.5,148.7 L334.7,148.4 L333.7,148.1 L332.6,147.8 L331.4,147.6 L330.1,147.5 L328.7,147.5 L327.3,147.5 L325.8,147.6 L324.3,147.7 L322.9,147.9 L321.5,148.1 L320.2,148.4 L319.0,148.8 L317.9,149.2 L316.9,149.7 L316.1,150.3 L315.5,150.9 L315.0,151.5 L314.7,152.1 L314.6,152.8 L314.7,153.4 L315.0,154.1 L315.5,154.7 L316.1,155.3 L316.9,155.8 L317.9,156.3 L319.0,156.7 L320.2,157.1 L321.5,157.4 L322.9,157.7 L324.3,157.8 L325.8,157.9 L327.3,157.9 L328.7,157.9 L330.1,157.7 L331.4,157.5 L332.6,157.2 L333.7,156.9 L334.7,156.4 L335.5,156.0 L336.1,155.5 L336.6,155.0 L336.9,154.4 L337.0,153.9 L336.9,153.3 L336.6,152.8 L336.1,152.3 L335.5,151.8 L334.7,151.3 L333.7,150.9 L332.6,150.5 L331.4,150.3 L330.1,150.0 L328.7,149.9 L327.3,149.8 L325.8,149.8" stroke="#000" stroke-width="1.5" fill="none" stroke-linejoin="round" stroke-linecap="round"/>
<path d="M272.0,174.0 L271.8,175.4 L271.2,176.8 L270.2,178.1 L268.9,179.3 L267.2,180.5 L265.3,181.6 L263.0,182.5 L260.5,183.3 L257.8,184.0 L255.0,184.5 L252.0,184.8 L249.0,185.0 L246.0,185.0 L243.0,184.8 L240.2,184.5 L237.5,184.0 L235.0,183.4 L232.7,182.6 L230.8,181.7 L229.1,180.7 L227.8,179.6 L226.8,178.4 L226.2,177.2 L226.0,176.0 L226.2,174.8 L226.8,173.6 L227.8,172.4 L229.1,171.3 L230.8,170.3 L232.7,169.4 L235.0,168.6 L237.5,168.0 L240.2,167.5 L243.0,167.2 L246.0,167.0 L249.0,167.0 L252.0,167.2 L255.0,167.5 L257.8,168.0 L260.5,168.7 L263.0,169.5 L265.3,170.4 L267.2,171.5 L268.9,172.7 L270.2,173.9 L271.2,175.2 L271.8,176.6 L272.0,178.0 L271.8,179.6 L271.2,181.2 L270.2,182.7 L268.9,184.2 L267.2,185.5 L265.3,186.8 L263.0,188.0 L260.5,189.0 L257.8,189.8 L255.0,190.6 L252.0,191.1 L249.0,191.5 L246.0,191.7 L243.0,191.7 L240.2,191.6 L237.5,191.3 L235.0,190.9 L232.7,190.3 L230.8,189.6 L229.1,188.8 L227.8,187.9 L226.8,187.0 L226.2,186.0 L226.0,185.0 L226.2,183.9 L226.8,182.9 L227.8,182.0 L229.1,181.1 L230.8,180.3 L232.7,179.6 L235.0,179.0 L237.5,178.6 L240.2,178.3 L243.0,178.2 L246.0,178.2 L249.0,178.4 L252.0,178.8 L255.0,179.3 L257.8,180.1 L260.5,180.9 L263.0,181.9 L265.3,183.1 L267.2,184.4 L268.9,185.7 L270.2,187.2 L271.2,188.7 L271.8,190.3 L272.0,191.9 L271.8,193.5 L271.2,195.1 L270.2,196.6 L268.9,198.1 L267.2,199.4 L265.3,200.7 L263.0,201.9 L260.5,202.9 L257.8,203.7 L255.0,204.5 L252.0,205.0 L249.0,205.4 L246.0,205.6 L243.0,205.6 L240.2,205.5 L237.5,205.2 L235.0,204.8 L232.7,204.2 L230.8,203.5 L229.1,202.7 L227.8,201.8 L226.8,200.9 L226.2,199.9 L226.0,198.8 L226.2,197.8 L226.8,196.8 L227.8,195.9 L229.1,195.0 L230.8,194.2 L232.7,193.5 L235.0,192.9 L237.5,192.5 L240.2,192.2 L243.0,192.1 L246.0,192.1 L249.0,192.3 L252.0,192.7 L255.0,193.2 L257.8,194.0 L260.5,194.8 L263.0,195.8 L265.3,197.0 L267.2,198.3 L268.9,199.6 L270.2,201.1 L271.2,202.6 L271.8,204.2 L272.0,205.8 L271.8,207.4 L271.2,209.0 L270.2,210.5 L268.9,212.0 L267.2,213.3 L265.3,214.6 L263.0,215.8 L260.5,216.8 L257.8,217.6 L255.0,218.4 L252.0,218.9 L249.0,219.3 L246.0,219.5 L243.0,219.5 L240.2,219.4 L237.5,219.1 L235.0,218.7 L232.7,218.1 L230.8,217.4 L229.1,216.6 L227.8,215.7 L226.8,214.8 L226.2,213.8 L226.0,212.7 L226.2,211.7 L226.8,210.7 L227.8,209.8 L229.1,208.9 L230.8,208.1 L232.7,207.4 L235.0,206.8 L237.5,206.4 L240.2,206.1 L243.0,206.0 L246.0,206.0 L249.0,206.2 L252.0,206.6 L255.0,207.1 L257.8,207.9 L260.5,208.7 L263.0,209.7 L265.3,210.9 L267.2,212.2 L268.9,213.5 L270.2,215.0 L271.2,216.5 L271.8,218.1 L272.0,219.7 L271.8,221.3 L271.2,222.9 L270.2,224.4 L268.9,225.9 L267.2,227.2 L265.3,228.5 L263.0,229.7 L260.5,230.7 L257.8,231.5 L255.0,232.3 L252.0,232.8 L249.0,233.2 L246.0,233.4 L243.0,233.4 L240.2,233.3 L237.5,233.0 L235.0,232.6 L232.7,232.0 L230.8,231.3 L229.1,230.5 L227.8,229.6 L226.8,228.7 L226.2,227.7 L226.0,226.6 L226.2,225.6 L226.8,224.6 L227.8,223.7 L229.1,222.8 L230.8,222.0 L232.7,221.3 L235.0,220.7 L237.5,220.3 L240.2,220.0 L243.0,219.9 L246.0,219.9 L249.0,220.1 L252.0,220.5 L255.0,221.0 L257.8,221.8 L260.5,222.6 L263.0,223.6 L265.3,224.8 L267.2,226.1 L268.9,227.4 L270.2,228.9 L271.2,230.4 L271.8,232.0 L272.0,233.6 L271.8,235.2 L271.2,236.8 L270.2,238.3 L268.9,239.8 L267.2,241.1 L265.3,242.4 L263.0,243.6 L260.5,244.6 L257.8,245.4 L255.0,246.2 L252.0,246.7 L249.0,247.1 L246.0,247.3 L243.0,247.3 L240.2,247.2 L237.5,246.9 L235.0,246.5 L232.7,245.9 L230.8,245.2 L229.1,244.4 L227.8,243.5 L226.8,242.6 L226.2,241.6 L226.0,240.5 L226.2,239.5 L226.8,238.5 L227.8,237.6 L229.1,236.7 L230.8,235.9 L232.7,235.2 L235.0,234.6 L237.5,234.2 L240.2,233.9 L243.0,233.8 L246.0,233.8 L249.0,234.0 L252.0,234.4 L255.0,234.9 L257.8,235.7 L260.5,236.5 L263.0,237.5 L265.3,238.7 L267.2,240.0 L268.9,241.3 L270.2,242.8 L271.2,244.3 L271.8,245.9 L272.0,247.5 L271.8,249.1 L271.2,250.7 L270.2,252.2 L268.9,253.7 L267.2,255.0 L265.3,256.3 L263.0,257.5 L260.5,258.5 L257.8,259.3 L255.0,260.1 L252.0,260.6 L249.0,261.0 L246.0,261.2 L243.0,261.2 L240.2,261.1 L237.5,260.8 L235.0,260.4 L232.7,259.8 L230.8,259.1 L229.1,258.3 L227.8,257.4 L226.8,256.5 L226.2,255.5 L226.0,254.4 L226.2,253.4 L226.8,252.4 L227.8,251.5 L229.1,250.6 L230.8,249.8 L232.7,249.1 L235.0,248.5 L237.5,248.1 L240.2,247.8 L243.0,247.7 L246.0,247.7 L249.0,247.9 L252.0,248.3 L255.0,248.8 L257.8,249.6 L260.5,250.4 L263.0,251.4 L265.3,252.6 L267.2,253.9 L268.9,255.2 L270.2,256.7 L271.2,258.2 L271.8,259.8 L272.0,261.4 L271.8,263.0 L271.2,264.6 L270.2,266.1 L268.9,267.6 L267.2,268.9 L265.3,270.2 L263.0,271.4 L260.5,272.4 L257.8,273.2 L255.0,274.0 L252.0,274.5 L249.0,274.9 L246.0,275.1 L243.0,275.1 L240.2,275.0 L237.5,274.7 L235.0,274.3 L232.7,273.7 L230.8,273.0 L229.1,272.2 L227.8,271.3 L226.8,270.4 L226.2,269.4 L226.0,268.4 L226.2,267.3 L226.8,266.3 L227.8,265.4 L229.1,264.5 L230.8,263.7 L232.7,263.0 L235.0,262.4 L237.5,262.0 L240.2,261.7 L243.0,261.6 L246.0,261.6 L249.0,261.8 L252.0,262.2 L255.0,262.7 L257.8,263.5 L260.5,264.3 L263.0,265.3 L265.3,266.5 L267.2,267.8 L268.9,269.1 L270.2,270.6 L271.2,272.1 L271.8,273.7 L272.0,275.3 L271.8,276.9 L271.2,278.5 L270.2,280.0 L268.9,281.5 L267.2,282.8 L265.3,284.1 L263.0,285.3 L260.5,286.3 L257.8,287.1 L255.0,287.9 L252.0,288.4 L249.0,288.8 L246.0,289.0 L243.0,289.0 L240.2,288.9 L237.5,288.6 L235.0,288.2 L232.7,287.6 L230.8,286.9 L229.1,286.1 L227.8,285.2 L226.8,284.3 L226.2,283.3 L226.0,282.3 L226.2,281.2 L226.8,280.2 L227.8,279.3 L229.1,278.4 L230.8,277.6 L232.7,276.9 L235.0,276.3 L237.5,275.9 L240.2,275.6 L243.0,275.5 L246.0,275.5 L249.0,275.7 L252.0,276.1 L255.0,276.6 L257.8,277.4 L260.5,278.2 L263.0,279.2 L265.3,280.4 L267.2,281.7 L268.9,283.0 L270.2,284.5 L271.2,286.0 L271.8,287.6 L272.0,289.2 L271.8,290.8 L271.2,292.4 L270.2,293.9 L268.9,295.4 L267.2,296.7 L265.3,298.0 L263.0,299.2 L260.5,300.2 L257.8,301.0 L255.0,301.8 L252.0,302.3 L249.0,302.7 L246.0,302.9 L243.0,302.9 L240.2,302.8 L237.5,302.5 L235.0,302.1 L232.7,301.5 L230.8,300.8 L229.1,299.8 L227.8,298.7 L226.8,297.5 L226.2,296.3 L226.0,295.1 L226.2,293.9 L226.8,292.7 L227.8,291.5 L229.1,290.5 L230.8,289.4 L232.7,288.5 L235.0,287.8 L237.5,287.1 L240.2,286.6 L243.0,286.3 L246.0,286.1 L249.0,286.1 L252.0,286.3 L255.0,286.6 L257.8,287.1 L260.5,287.8 L263.0,288.6 L265.3,289.5 L267.2,290.6 L268.9,291.8 L270.2,293.0 L271.2,294.4 L271.8,295.7 L272.0,297.1 L271.8,298.5 L271.2,299.9 L270.2,301.2 L268.9,302.5 L267.2,303.6 L265.3,304.7 L263.0,305.6 L260.5,306.4 L257.8,307.1 L255.0,307.6 L252.0,307.9 L249.0,308.1 L246.0,308.1 L243.0,307.9 L240.2,307.6 L237.5,307.1 L235.0,306.5 L232.7,305.7 L230.8,304.8" stroke="#000" stroke-width="2.7" fill="none" stroke-linejoin="round" stroke-linecap="round"/>
<path d="M349.0,175.0 L348.8,176.4 L348.2,177.8 L347.2,179.1 L345.9,180.3 L344.1,181.5 L342.1,182.6 L339.8,183.5 L337.2,184.3 L334.5,185.0 L331.6,185.5 L328.6,185.8 L325.5,186.0 L322.4,186.0 L319.4,185.8 L316.5,185.5 L313.8,185.0 L311.2,184.4 L308.9,183.6 L306.9,182.7 L305.1,181.7 L303.8,180.6 L302.8,179.4 L302.2,178.2 L302.0,177.0 L302.2,175.8 L302.8,174.6 L303.8,173.4 L305.1,172.3 L306.9,171.3 L308.9,170.4 L311.2,169.6 L313.7,169.0 L316.5,168.5 L319.4,168.2 L322.4,168.0 L325.5,168.0 L328.6,168.2 L331.6,168.5 L334.5,169.0 L337.2,169.7 L339.8,170.5 L342.1,171.4 L344.1,172.5 L345.9,173.7 L347.2,174.9 L348.2,176.2 L348.8,177.6 L349.0,179.0 L348.8,180.6 L348.2,182.2 L347.2,183.7 L345.9,185.2 L344.1,186.5 L342.1,187.8 L339.8,189.0 L337.3,190.0 L334.5,190.8 L331.6,191.6 L328.6,192.1 L325.5,192.5 L322.4,192.7 L319.4,192.7 L316.5,192.6 L313.8,192.3 L311.2,191.9 L308.9,191.3 L306.9,190.6 L305.1,189.8 L303.8,188.9 L302.8,188.0 L302.2,187.0 L302.0,186.0 L302.2,184.9 L302.8,183.9 L303.8,183.0 L305.1,182.1 L306.9,181.3 L308.9,180.6 L311.2,180.0 L313.8,179.6 L316.5,179.3 L319.4,179.2 L322.4,179.2 L325.5,179.4 L328.6,179.8 L331.6,180.3 L334.5,181.1 L337.3,181.9 L339.8,182.9 L342.1,184.1 L344.1,185.4 L345.9,186.7 L347.2,188.2 L348.2,189.7 L348.8,191.3 L349.0,192.9 L348.8,194.5 L348.2,196.1 L347.2,197.6 L345.9,199.1 L344.1,200.4 L342.1,201.7 L339.8,202.9 L337.2,203.9 L334.5,204.7 L331.6,205.5 L328.6,206.0 L325.5,206.4 L322.4,206.6 L319.4,206.6 L316.5,206.5 L313.7,206.2 L311.2,205.8 L308.9,205.2 L306.9,204.5 L305.1,203.7 L303.8,202.8 L302.8,201.9 L302.2,200.9 L302.0,199.8 L302.2,198.8 L302.8,197.8 L303.8,196.9 L305.1,196.0 L306.9,195.2 L308.9,194.5 L311.2,193.9 L313.8,193.5 L316.5,193.2 L319.4,193.1 L322.4,193.1 L325.5,193.3 L328.6,193.7 L331.6,194.2 L334.5,195.0 L337.3,195.8 L339.8,196.8 L342.1,198.0 L344.1,199.3 L345.9,200.6 L347.2,202.1 L348.2,203.6 L348.8,205.2 L349.0,206.8 L348.8,208.4 L348.2,210.0 L347.2,211.5 L345.9,213.0 L344.1,214.3 L342.1,215.6 L339.8,216.8 L337.2,217.8 L334.5,218.6 L331.6,219.4 L328.6,219.9 L325.5,220.3 L322.4,220.5 L319.4,220.5 L316.5,220.4 L313.7,220.1 L311.2,219.7 L308.9,219.1 L306.9,218.4 L305.1,217.6 L303.8,216.7 L302.8,215.8 L302.2,214.8 L302.0,213.7 L302.2,212.7 L302.8,211.7 L303.8,210.8 L305.1,209.9 L306.9,209.1 L308.9,208.4 L311.2,207.8 L313.8,207.4 L316.5,207.1 L319.4,207.0 L322.4,207.0 L325.5,207.2 L328.6,207.6 L331.6,208.1 L334.5,208.9 L337.3,209.7 L339.8,210.7 L342.1,211.9 L344.1,213.2 L345.9,214.5 L347.2,216.0 L348.2,217.5 L348.8,219.1 L349.0,220.7 L348.8,222.3 L348.2,223.9 L347.2,225.4 L345.9,226.9 L344.1,228.2 L342.1,229.5 L339.8,230.7 L337.2,231.7 L334.5,232.5 L331.6,233.3 L328.6,233.8 L325.5,234.2 L322.4,234.4 L319.4,234.4 L316.5,234.3 L313.7,234.0 L311.2,233.6 L308.9,233.0 L306.9,232.3 L305.1,231.5 L303.8,230.6 L302.8,229.7 L302.2,228.7 L302.0,227.6 L302.2,226.6 L302.8,225.6 L303.8,224.7 L305.1,223.8 L306.9,223.0 L308.9,222.3 L311.2,221.7 L313.8,221.3 L316.5,221.0 L319.4,220.9 L322.4,220.9 L325.5,221.1 L328.6,221.5 L331.6,222.0 L334.5,222.8 L337.3,223.6 L339.8,224.6 L342.1,225.8 L344.1,227.1 L345.9,228.4 L347.2,229.9 L348.2,231.4 L348.8,233.0 L349.0,234.6 L348.8,236.2 L348.2,237.8 L347.2,239.3 L345.9,240.8 L344.1,242.1 L342.1,243.4 L339.8,244.6 L337.2,245.6 L334.5,246.4 L331.6,247.2 L328.6,247.7 L325.5,248.1 L322.4,248.3 L319.4,248.3 L316.5,248.2 L313.7,247.9 L311.2,247.5 L308.9,246.9 L306.9,246.2 L305.1,245.4 L303.8,244.5 L302.8,243.6 L302.2,242.6 L302.0,241.5 L302.2,240.5 L302.8,239.5 L303.8,238.6 L305.1,237.7 L306.9,236.9 L308.9,236.2 L311.2,235.6 L313.8,235.2 L316.5,234.9 L319.4,234.8 L322.4,234.8 L325.5,235.0 L328.6,235.4 L331.6,235.9 L334.5,236.7 L337.3,237.5 L339.8,238.5 L342.1,239.7 L344.1,241.0 L345.9,242.3 L347.2,243.8 L348.2,245.3 L348.8,246.9 L349.0,248.5 L348.8,250.1 L348.2,251.7 L347.2,253.2 L345.9,254.7 L344.1,256.0 L342.1,257.3 L339.8,258.5 L337.3,259.5 L334.5,260.3 L331.6,261.1 L328.6,261.6 L325.5,262.0 L322.4,262.2 L319.4,262.2 L316.5,262.1 L313.8,261.8 L311.2,261.4 L308.9,260.8 L306.9,260.1 L305.1,259.3 L303.8,258.4 L302.8,257.5 L302.2,256.5 L302.0,255.4 L302.2,254.4 L302.8,253.4 L303.8,252.5 L305.1,251.6 L306.9,250.8 L308.9,250.1 L311.2,249.5 L313.7,249.1 L316.5,248.8 L319.4,248.7 L322.4,248.7 L325.5,248.9 L328.6,249.3 L331.6,249.8 L334.5,250.6 L337.2,251.4 L339.8,252.4 L342.1,253.6 L344.1,254.9 L345.9,256.2 L347.2,257.7 L348.2,259.2 L348.8,260.8 L349.0,262.4 L348.8,264.0 L348.2,265.6 L347.2,267.1 L345.9,268.6 L344.1,269.9 L342.1,271.2 L339.8,272.4 L337.3,273.4 L334.5,274.2 L331.6,275.0 L328.6,275.5 L325.5,275.9 L322.4,276.1 L319.4,276.1 L316.5,276.0 L313.8,275.7 L311.2,275.3 L308.9,274.7 L306.9,274.0 L305.1,273.2 L303.8,272.3 L302.8,271.4 L302.2,270.4 L302.0,269.4 L302.2,268.3 L302.8,267.3 L303.8,266.4 L305.1,265.5 L306.9,264.7 L308.9,264.0 L311.2,263.4 L313.7,263.0 L316.5,262.7 L319.4,262.6 L322.4,262.6 L325.5,262.8 L328.6,263.2 L331.6,263.7 L334.5,264.5 L337.2,265.3 L339.8,266.3 L342.1,267.5 L344.1,268.8 L345.9,270.1 L347.2,271.6 L348.2,273.1 L348.8,274.7 L349.0,276.3 L348.8,277.9 L348.2,279.5 L347.2,281.0 L345.9,282.5 L344.1,283.8 L342.1,285.1 L339.8,286.3 L337.3,287.3 L334.5,288.1 L331.6,288.9 L328.6,289.4 L325.5,289.8 L322.4,290.0 L319.4,290.0 L316.5,289.9 L313.8,289.6 L311.2,289.2 L308.9,288.6 L306.9,287.9 L305.1,287.1 L303.8,286.2 L302.8,285.3 L302.2,284.3 L302.0,283.3 L302.2,282.2 L302.8,281.2 L303.8,280.3 L305.1,279.4 L306.9,278.6 L308.9,277.9 L311.2,277.3 L313.7,276.9 L316.5,276.6 L319.4,276.5 L322.4,276.5 L325.5,276.7 L328.6,277.1 L331.6,277.6 L334.5,278.4 L337.2,279.2 L339.8,280.2 L342.1,281.4 L344.1,282.7 L345.9,284.0 L347.2,285.5 L348.2,287.0 L348.8,288.6 L349.0,290.2 L348.8,291.8 L348.2,293.4 L347.2,294.9 L345.9,296.4 L344.1,297.7 L342.1,299.0 L339.8,300.2 L337.3,301.2 L334.5,302.0 L331.6,302.8 L328.6,303.3 L325.5,303.7 L322.4,303.9 L319.4,303.9 L316.5,303.8 L313.8,303.5 L311.2,303.1 L308.9,302.5 L306.9,301.8 L305.1,300.8 L303.8,299.7 L302.8,298.5 L302.2,297.3 L302.0,296.1 L302.2,294.9 L302.8,293.7 L303.8,292.5 L305.1,291.5 L306.9,290.4 L308.9,289.5 L311.2,288.8 L313.7,288.1 L316.5,287.6 L319.4,287.3 L322.4,287.1 L325.5,287.1 L328.6,287.3 L331.6,287.6 L334.5,288.1 L337.2,288.8 L339.8,289.6 L342.1,290.5 L344.1,291.6 L345.9,292.8 L347.2,294.0 L348.2,295.4 L348.8,296.7 L349.0,298.1 L348.8,299.5 L348.2,300.9 L347.2,302.2 L345.9,303.5 L344.1,304.6 L342.1,305.7 L339.8,306.6 L337.3,307.4 L334.5,308.1 L331.6,308.6 L328.6,308.9 L325.5,309.1 L322.4,309.1 L319.4,308.9 L316.5,308.6 L313.8,308.1 L311.2,307.5 L308.9,306.7 L306.9,305.8" stroke="#000" stroke-width="2.7" fill="none" stroke-linejoin="round" stroke-linecap="round"/>
<path d="M68.72,91.67 C71.13,91.67 73.08,94.44 73.08,97.85 C73.08,101.26 71.13,104.02 68.72,104.02 C66.32,104.02 64.38,101.26 64.38,97.85 C64.38,94.44 66.32,91.67 68.72,91.67 Z" stroke="#000" stroke-width="1.75" fill="none" stroke-linecap="round" stroke-linejoin="round"/>
<path d="M77.89,94.85 C77.89,93.00 79.63,91.67 81.97,91.67 C84.41,91.67 85.98,93.09 85.98,95.12 C85.98,97.14 84.06,98.38 82.15,99.70 L77.62,104.02 L86.33,104.02" stroke="#000" stroke-width="1.75" fill="none" stroke-linecap="round" stroke-linejoin="round"/>
<line x1="94.0" y1="101.0" x2="238.8" y2="113.5" stroke="#000" stroke-width="1.3"/>
<path d="M67.05,176.68 C69.52,176.68 71.53,179.41 71.53,182.80 C71.53,186.19 69.52,188.93 67.05,188.93 C64.58,188.93 62.58,186.19 62.58,182.80 C62.58,179.41 64.58,176.68 67.05,176.68 Z" stroke="#000" stroke-width="1.75" fill="none" stroke-linecap="round" stroke-linejoin="round"/>
<path d="M85.03,185.43 L76.08,185.43 L82.79,176.68 L82.79,188.93" stroke="#000" stroke-width="1.75" fill="none" stroke-linecap="round" stroke-linejoin="round"/>
<line x1="93.5" y1="183.5" x2="226.0" y2="206.7" stroke="#000" stroke-width="1.3"/>
<path d="M67.72,256.82 C70.40,256.82 72.58,259.47 72.58,262.75 C72.58,266.03 70.40,268.68 67.72,268.68 C65.05,268.68 62.88,266.03 62.88,262.75 C62.88,259.47 65.05,256.82 67.72,256.82 Z" stroke="#000" stroke-width="1.75" fill="none" stroke-linecap="round" stroke-linejoin="round"/>
<path d="M85.86,258.18 C84.89,257.33 83.72,256.82 82.27,256.82 C79.16,256.82 77.12,259.62 77.12,263.77 C77.12,266.81 79.26,268.68 81.97,268.68 C84.69,268.68 86.83,266.98 86.83,264.78 C86.83,262.58 84.69,261.06 82.07,261.06 C79.94,261.06 78.09,262.16 77.32,263.85" stroke="#000" stroke-width="1.75" fill="none" stroke-linecap="round" stroke-linejoin="round"/>
<line x1="93.5" y1="265.0" x2="236.0" y2="322.0" stroke="#000" stroke-width="1.3"/>
<path d="M66.85,335.97 C69.38,335.97 71.42,338.62 71.42,341.90 C71.42,345.18 69.38,347.82 66.85,347.82 C64.32,347.82 62.27,345.18 62.27,341.90 C62.27,338.62 64.32,335.97 66.85,335.97 Z" stroke="#000" stroke-width="1.75" fill="none" stroke-linecap="round" stroke-linejoin="round"/>
<path d="M84.58,335.97 L77.44,335.97 L76.71,341.56 C77.80,340.71 79.09,340.38 80.55,340.38 C83.20,340.38 85.12,342.07 85.12,344.10 C85.12,346.30 83.11,347.82 80.55,347.82 C78.54,347.82 76.89,346.98 75.97,345.79" stroke="#000" stroke-width="1.75" fill="none" stroke-linecap="round" stroke-linejoin="round"/>
<line x1="93.0" y1="343.5" x2="188.8" y2="383.0" stroke="#000" stroke-width="1.3"/>
<path d="M436.30,135.18 C438.85,135.18 440.93,137.96 440.93,141.40 C440.93,144.84 438.85,147.62 436.30,147.62 C433.75,147.62 431.68,144.84 431.68,141.40 C431.68,137.96 433.75,135.18 436.30,135.18 Z" stroke="#000" stroke-width="1.75" fill="none" stroke-linecap="round" stroke-linejoin="round"/>
<path d="M447.32,135.18 L447.32,147.62" stroke="#000" stroke-width="1.75" fill="none" stroke-linecap="round" stroke-linejoin="round"/>
<line x1="336.6" y1="121.0" x2="425.6" y2="141.0" stroke="#000" stroke-width="1.3"/>
<path d="M435.93,216.68 C438.33,216.68 440.27,219.32 440.27,222.60 C440.27,225.88 438.33,228.53 435.93,228.53 C433.52,228.53 431.57,225.88 431.57,222.60 C431.57,219.32 433.52,216.68 435.93,216.68 Z" stroke="#000" stroke-width="1.75" fill="none" stroke-linecap="round" stroke-linejoin="round"/>
<path d="M445.35,218.54 C446.22,217.35 447.61,216.68 449.18,216.68 C451.44,216.68 452.83,217.94 452.83,219.64 C452.83,221.33 451.35,222.35 448.83,222.35 C451.61,222.35 453.52,223.53 453.52,225.39 C453.52,227.34 451.61,228.53 449.18,228.53 C447.26,228.53 445.69,227.76 444.82,226.49" stroke="#000" stroke-width="1.75" fill="none" stroke-linecap="round" stroke-linejoin="round"/>
<line x1="348.8" y1="218.5" x2="425.2" y2="223.6" stroke="#000" stroke-width="1.3"/>
<path d="M432.50,293.62 C434.83,293.62 436.73,296.27 436.73,299.55 C436.73,302.83 434.83,305.47 432.50,305.47 C430.17,305.47 428.27,302.83 428.27,299.55 C428.27,296.27 430.17,293.62 432.50,293.62 Z" stroke="#000" stroke-width="1.75" fill="none" stroke-linecap="round" stroke-linejoin="round"/>
<path d="M448.88,294.98 C448.03,294.13 447.02,293.62 445.75,293.62 C443.05,293.62 441.27,296.42 441.27,300.57 C441.27,303.61 443.13,305.47 445.50,305.47 C447.87,305.47 449.73,303.78 449.73,301.58 C449.73,299.38 447.87,297.86 445.58,297.86 C443.73,297.86 442.12,298.96 441.44,300.65" stroke="#000" stroke-width="1.75" fill="none" stroke-linecap="round" stroke-linejoin="round"/>
<line x1="340.0" y1="323.6" x2="423.4" y2="303.2" stroke="#000" stroke-width="1.3"/>
<path d="M432.50,374.43 C434.83,374.43 436.73,377.07 436.73,380.35 C436.73,383.63 434.83,386.28 432.50,386.28 C430.17,386.28 428.27,383.63 428.27,380.35 C428.27,377.07 430.17,374.43 432.50,374.43 Z" stroke="#000" stroke-width="1.75" fill="none" stroke-linecap="round" stroke-linejoin="round"/>
<path d="M449.22,374.43 L442.63,374.43 L441.95,380.01 C442.96,379.17 444.15,378.83 445.50,378.83 C447.95,378.83 449.73,380.52 449.73,382.55 C449.73,384.75 447.87,386.28 445.50,386.28 C443.64,386.28 442.12,385.43 441.27,384.24" stroke="#000" stroke-width="1.75" fill="none" stroke-linecap="round" stroke-linejoin="round"/>
<line x1="308.0" y1="392.6" x2="424.0" y2="383.0" stroke="#000" stroke-width="1.3"/>
<ellipse cx="248.1" cy="326.3" rx="14.3" ry="7.0" stroke="#000" stroke-width="1.6" fill="none"/>
<ellipse cx="248.1" cy="326.3" rx="10.5" ry="4.6" stroke="#000" stroke-width="1.1" fill="none"/>
<ellipse cx="326.0" cy="326.3" rx="14.3" ry="7.0" stroke="#000" stroke-width="1.6" fill="none"/>
<ellipse cx="326.0" cy="326.3" rx="10.5" ry="4.6" stroke="#000" stroke-width="1.1" fill="none"/>
<polyline points="226.8,396.5 226.7,397.4 226.6,398.2 226.3,399.1 225.8,399.9 225.3,400.7 224.6,401.5 223.9,402.2 223.0,403.0 222.1,403.6 221.0,404.3 219.9,404.9 218.6,405.4 217.3,405.9 216.0,406.3 214.6,406.7 213.1,407.0 211.6,407.2 210.1,407.4 208.6,407.5 207.0,407.5 205.4,407.5 203.9,407.4 202.4,407.2 200.9,407.0 199.4,406.7 198.0,406.3 196.7,405.9 195.4,405.4 194.1,404.9 193.0,404.3 191.9,403.6 191.0,403.0 190.1,402.2 189.4,401.5 188.7,400.7 188.2,399.9 187.7,399.1 187.4,398.2 187.3,397.4 187.2,396.5" stroke="#000" stroke-width="1.6" fill="none" stroke-linejoin="round" stroke-linecap="round"/>
<line x1="187.2" y1="390.0" x2="187.2" y2="396.5" stroke="#000" stroke-width="1.5"/>
<line x1="226.8" y1="390.0" x2="226.8" y2="396.5" stroke="#000" stroke-width="1.5"/>
<polyline points="223.8,384.2 225.2,385.6 226.1,387.1 226.7,388.7 226.8,390.3 226.5,391.9 225.8,393.5 224.7,395.0 223.2,396.4 221.3,397.6 219.2,398.7 216.7,399.6 214.1,400.3 211.4,400.7 208.5,401.0 205.6,401.0 202.7,400.7 199.9,400.3 197.3,399.6 194.9,398.7 192.7,397.6 190.9,396.4 189.4,395.0 188.2,393.5 187.5,392.0 187.2,390.4 187.3,388.8 187.9,387.2 188.8,385.6 190.2,384.2 191.9,382.9 193.9,381.8 196.2,380.8 198.7,380.0 201.4,379.4 204.3,379.1 207.2,379.0 210.1,379.1 212.9,379.5 215.6,380.1 218.1,380.9" stroke="#000" stroke-width="1.6" fill="none" stroke-linejoin="round" stroke-linecap="round"/>
<path d="M218.2,380.8 L204.8,387.5 A2.8,2.8 0 0 0 207.2,392.5 L224.1,384.1" stroke="#000" stroke-width="1.5" fill="none" stroke-linejoin="round" stroke-linecap="round"/>
<polyline points="212.4,399.7 212.2,399.8 211.9,399.9 211.6,400.0 211.3,400.1 210.9,400.2 210.6,400.3 210.3,400.3 210.0,400.4 209.7,400.5 209.4,400.5 209.0,400.6 208.7,400.6 208.4,400.6 208.0,400.7 207.7,400.7 207.4,400.7 207.0,400.7 206.7,400.7 206.4,400.7 206.1,400.7 205.7,400.6 205.4,400.6 205.1,400.6 204.7,400.5 204.4,400.5 204.1,400.4 203.8,400.4 203.5,400.3 203.1,400.2 202.8,400.1 202.5,400.0 202.2,399.9 201.9,399.8 201.6,399.7 201.4,399.6 201.1,399.5 200.8,399.3 200.5,399.2 200.3,399.0 200.0,398.9" stroke="#000" stroke-width="1.0" fill="none" stroke-linejoin="round" stroke-linecap="round"/>
<line x1="225.5" y1="381.0" x2="236.5" y2="374.5" stroke="#000" stroke-width="1.3"/>
<polyline points="307.8,394.5 307.7,395.4 307.6,396.2 307.3,397.1 306.8,397.9 306.3,398.7 305.6,399.5 304.9,400.2 304.0,401.0 303.1,401.6 302.0,402.3 300.9,402.9 299.6,403.4 298.3,403.9 297.0,404.3 295.6,404.7 294.1,405.0 292.6,405.2 291.1,405.4 289.6,405.5 288.0,405.5 286.4,405.5 284.9,405.4 283.4,405.2 281.9,405.0 280.4,404.7 279.0,404.3 277.7,403.9 276.4,403.4 275.1,402.9 274.0,402.3 272.9,401.6 272.0,401.0 271.1,400.2 270.4,399.5 269.7,398.7 269.2,397.9 268.7,397.1 268.4,396.2 268.3,395.4 268.2,394.5" stroke="#000" stroke-width="1.6" fill="none" stroke-linejoin="round" stroke-linecap="round"/>
<line x1="268.2" y1="388.0" x2="268.2" y2="394.5" stroke="#000" stroke-width="1.5"/>
<line x1="307.8" y1="388.0" x2="307.8" y2="394.5" stroke="#000" stroke-width="1.5"/>
<polyline points="304.8,382.2 306.2,383.6 307.1,385.1 307.7,386.7 307.8,388.3 307.5,389.9 306.8,391.5 305.7,393.0 304.2,394.4 302.3,395.6 300.2,396.7 297.7,397.6 295.1,398.3 292.4,398.7 289.5,399.0 286.6,399.0 283.7,398.7 280.9,398.3 278.3,397.6 275.9,396.7 273.7,395.6 271.9,394.4 270.4,393.0 269.2,391.5 268.5,390.0 268.2,388.4 268.3,386.8 268.9,385.2 269.8,383.6 271.2,382.2 272.9,380.9 274.9,379.8 277.2,378.8 279.7,378.0 282.4,377.4 285.3,377.1 288.2,377.0 291.1,377.1 293.9,377.5 296.6,378.1 299.1,378.9" stroke="#000" stroke-width="1.6" fill="none" stroke-linejoin="round" stroke-linecap="round"/>
<path d="M299.2,378.8 L285.8,385.5 A2.8,2.8 0 0 0 288.2,390.5 L305.1,382.1" stroke="#000" stroke-width="1.5" fill="none" stroke-linejoin="round" stroke-linecap="round"/>
<polyline points="293.4,397.7 293.2,397.8 292.9,397.9 292.6,398.0 292.3,398.1 291.9,398.2 291.6,398.3 291.3,398.3 291.0,398.4 290.7,398.5 290.4,398.5 290.0,398.6 289.7,398.6 289.4,398.6 289.0,398.7 288.7,398.7 288.4,398.7 288.0,398.7 287.7,398.7 287.4,398.7 287.1,398.7 286.7,398.6 286.4,398.6 286.1,398.6 285.7,398.5 285.4,398.5 285.1,398.4 284.8,398.4 284.5,398.3 284.1,398.2 283.8,398.1 283.5,398.0 283.2,397.9 282.9,397.8 282.6,397.7 282.4,397.6 282.1,397.5 281.8,397.3 281.5,397.2 281.3,397.0 281.0,396.9" stroke="#000" stroke-width="1.0" fill="none" stroke-linejoin="round" stroke-linecap="round"/>
<line x1="306.5" y1="379.0" x2="317.5" y2="372.5" stroke="#000" stroke-width="1.3"/>
<ellipse cx="248.0" cy="346.0" rx="11.3" ry="6.0" stroke="#000" stroke-width="1.5" fill="none"/>
<line x1="236.7" y1="346.0" x2="236.7" y2="354.0" stroke="#000" stroke-width="1.5"/>
<line x1="259.3" y1="346.0" x2="259.3" y2="354.0" stroke="#000" stroke-width="1.5"/>
<polyline points="259.3,354.0 259.3,354.4 259.2,354.8 259.0,355.2 258.7,355.5 258.4,355.9 258.1,356.3 257.6,356.6 257.1,356.9 256.6,357.2 256.0,357.5 255.3,357.8 254.6,358.0 253.9,358.3 253.1,358.5 252.3,358.6 251.5,358.8 250.6,358.9 249.8,358.9 248.9,359.0 248.0,359.0 247.1,359.0 246.2,358.9 245.4,358.9 244.5,358.8 243.7,358.6 242.9,358.5 242.1,358.3 241.4,358.0 240.7,357.8 240.0,357.5 239.4,357.2 238.9,356.9 238.4,356.6 237.9,356.3 237.6,355.9 237.3,355.5 237.0,355.2 236.8,354.8 236.7,354.4 236.7,354.0" stroke="#000" stroke-width="1.6" fill="none" stroke-linejoin="round" stroke-linecap="round"/>
<line x1="242.2" y1="359.0" x2="242.2" y2="385.5" stroke="#000" stroke-width="1.4"/>
<line x1="253.8" y1="359.0" x2="253.8" y2="385.5" stroke="#000" stroke-width="1.4"/>
<line x1="242.2" y1="385.5" x2="240.2" y2="396.5" stroke="#000" stroke-width="1.4"/>
<line x1="253.8" y1="385.5" x2="255.8" y2="396.5" stroke="#000" stroke-width="1.4"/>
<polyline points="253.8,385.5 253.8,385.6 253.7,385.8 253.6,385.9 253.5,386.1 253.4,386.2 253.2,386.3 252.9,386.4 252.7,386.6 252.4,386.7 252.1,386.8 251.8,386.9 251.4,387.0 251.0,387.0 250.6,387.1 250.2,387.2 249.8,387.2 249.4,387.3 248.9,387.3 248.5,387.3 248.0,387.3 247.5,387.3 247.1,387.3 246.6,387.3 246.2,387.2 245.8,387.2 245.4,387.1 245.0,387.0 244.6,387.0 244.2,386.9 243.9,386.8 243.6,386.7 243.3,386.6 243.1,386.4 242.8,386.3 242.6,386.2 242.5,386.1 242.4,385.9 242.3,385.8 242.2,385.6 242.2,385.5" stroke="#000" stroke-width="1.1" fill="none" stroke-linejoin="round" stroke-linecap="round"/>
<polyline points="255.8,396.5 255.8,396.7 255.7,396.8 255.6,397.0 255.4,397.2 255.2,397.3 254.9,397.5 254.7,397.6 254.3,397.8 253.9,397.9 253.5,398.1 253.1,398.2 252.6,398.3 252.1,398.4 251.5,398.5 251.0,398.5 250.4,398.6 249.8,398.6 249.2,398.7 248.6,398.7 248.0,398.7 247.4,398.7 246.8,398.7 246.2,398.6 245.6,398.6 245.0,398.5 244.5,398.5 243.9,398.4 243.4,398.3 242.9,398.2 242.5,398.1 242.1,397.9 241.7,397.8 241.3,397.6 241.1,397.5 240.8,397.3 240.6,397.2 240.4,397.0 240.3,396.8 240.2,396.7 240.2,396.5" stroke="#000" stroke-width="1.1" fill="none" stroke-linejoin="round" stroke-linecap="round"/>
<line x1="240.2" y1="396.5" x2="240.2" y2="405.0" stroke="#000" stroke-width="1.4"/>
<line x1="255.8" y1="396.5" x2="255.8" y2="405.0" stroke="#000" stroke-width="1.4"/>
<path d="M240.2,405 L237.2,408 L237.2,411 M255.8,405 L258.8,408 L258.8,411" stroke="#000" stroke-width="1.3" fill="none" stroke-linejoin="round" stroke-linecap="round"/>
<polyline points="258.8,408.0 258.8,408.2 258.7,408.4 258.5,408.6 258.3,408.8 258.0,409.0 257.6,409.2 257.2,409.4 256.7,409.5 256.2,409.7 255.6,409.8 255.0,410.0 254.3,410.1 253.6,410.2 252.9,410.3 252.1,410.4 251.3,410.5 250.5,410.5 249.7,410.6 248.8,410.6 248.0,410.6 247.2,410.6 246.3,410.6 245.5,410.5 244.7,410.5 243.9,410.4 243.1,410.3 242.4,410.2 241.7,410.1 241.0,410.0 240.4,409.8 239.8,409.7 239.3,409.5 238.8,409.4 238.4,409.2 238.0,409.0 237.7,408.8 237.5,408.6 237.3,408.4 237.2,408.2 237.2,408.0" stroke="#000" stroke-width="1.1" fill="none" stroke-linejoin="round" stroke-linecap="round"/>
<polyline points="233.5,417.0 233.5,416.6 233.7,416.2 233.9,415.8 234.2,415.5 234.6,415.1 235.1,414.7 235.6,414.4 236.3,414.1 237.0,413.8 237.7,413.5 238.6,413.2 239.5,413.0 240.4,412.7 241.4,412.5 242.5,412.4 243.5,412.2 244.6,412.1 245.7,412.1 246.9,412.0 248.0,412.0 249.1,412.0 250.3,412.1 251.4,412.1 252.5,412.2 253.5,412.4 254.6,412.5 255.6,412.7 256.5,413.0 257.4,413.2 258.3,413.5 259.0,413.8 259.7,414.1 260.4,414.4 260.9,414.7 261.4,415.1 261.8,415.5 262.1,415.8 262.3,416.2 262.5,416.6 262.5,417.0" stroke="#000" stroke-width="1.5" fill="none" stroke-linejoin="round" stroke-linecap="round"/>
<line x1="233.5" y1="417.0" x2="233.5" y2="486.3" stroke="#000" stroke-width="1.6"/>
<line x1="262.5" y1="417.0" x2="262.5" y2="486.3" stroke="#000" stroke-width="1.6"/>
<polyline points="262.5,486.3 262.5,486.7 262.3,487.1 262.1,487.5 261.8,487.8 261.4,488.2 260.9,488.6 260.4,488.9 259.7,489.2 259.0,489.5 258.3,489.8 257.4,490.1 256.5,490.3 255.6,490.6 254.6,490.8 253.5,490.9 252.5,491.1 251.4,491.2 250.3,491.2 249.1,491.3 248.0,491.3 246.9,491.3 245.7,491.2 244.6,491.2 243.5,491.1 242.5,490.9 241.4,490.8 240.4,490.6 239.5,490.3 238.6,490.1 237.7,489.8 237.0,489.5 236.3,489.2 235.6,488.9 235.1,488.6 234.6,488.2 234.2,487.8 233.9,487.5 233.7,487.1 233.5,486.7 233.5,486.3" stroke="#000" stroke-width="1.7" fill="none" stroke-linejoin="round" stroke-linecap="round"/>
<polyline points="262.5,417.0 262.5,417.4 262.3,417.8 262.1,418.2 261.8,418.5 261.4,418.9 260.9,419.3 260.4,419.6 259.7,419.9 259.0,420.2 258.3,420.5 257.4,420.8 256.5,421.0 255.6,421.3 254.6,421.5 253.5,421.6 252.5,421.8 251.4,421.9 250.3,421.9 249.1,422.0 248.0,422.0 246.9,422.0 245.7,421.9 244.6,421.9 243.5,421.8 242.5,421.6 241.4,421.5 240.4,421.3 239.5,421.0 238.6,420.8 237.7,420.5 237.0,420.2 236.3,419.9 235.6,419.6 235.1,419.3 234.6,418.9 234.2,418.5 233.9,418.2 233.7,417.8 233.5,417.4 233.5,417.0" stroke="#000" stroke-width="1.3" fill="none" stroke-linejoin="round" stroke-linecap="round"/>
<polyline points="261.6,422.2 261.3,422.5 260.9,422.8 260.5,423.0 260.0,423.3 259.5,423.5 258.9,423.8 258.3,424.0 257.7,424.2 257.0,424.4 256.3,424.6 255.6,424.8 254.8,424.9 254.0,425.0 253.2,425.2 252.4,425.3 251.5,425.4 250.6,425.4 249.8,425.5 248.9,425.5 248.0,425.5 247.1,425.5 246.2,425.5 245.4,425.4 244.5,425.4 243.6,425.3 242.8,425.2 242.0,425.0 241.2,424.9 240.4,424.8 239.7,424.6 239.0,424.4 238.3,424.2 237.7,424.0 237.1,423.8 236.5,423.5 236.0,423.3 235.5,423.0 235.1,422.8 234.7,422.5 234.4,422.2" stroke="#000" stroke-width="1.0" fill="none" stroke-linejoin="round" stroke-linecap="round"/>
<polyline points="262.5,468.0 262.5,468.4 262.3,468.7 262.1,469.1 261.8,469.4 261.4,469.7 260.9,470.0 260.4,470.4 259.7,470.6 259.0,470.9 258.3,471.2 257.4,471.4 256.5,471.6 255.6,471.8 254.6,472.0 253.5,472.2 252.5,472.3 251.4,472.4 250.3,472.4 249.1,472.5 248.0,472.5 246.9,472.5 245.7,472.4 244.6,472.4 243.5,472.3 242.5,472.2 241.4,472.0 240.4,471.8 239.5,471.6 238.6,471.4 237.7,471.2 237.0,470.9 236.3,470.6 235.6,470.4 235.1,470.0 234.6,469.7 234.2,469.4 233.9,469.1 233.7,468.7 233.5,468.4 233.5,468.0" stroke="#000" stroke-width="1.0" fill="none" stroke-linejoin="round" stroke-linecap="round"/>
<polyline points="262.5,473.0 262.5,473.4 262.3,473.8 262.1,474.2 261.8,474.5 261.4,474.9 260.9,475.3 260.4,475.6 259.7,475.9 259.0,476.2 258.3,476.5 257.4,476.8 256.5,477.0 255.6,477.3 254.6,477.5 253.5,477.6 252.5,477.8 251.4,477.9 250.3,477.9 249.1,478.0 248.0,478.0 246.9,478.0 245.7,477.9 244.6,477.9 243.5,477.8 242.5,477.6 241.4,477.5 240.4,477.3 239.5,477.0 238.6,476.8 237.7,476.5 237.0,476.2 236.3,475.9 235.6,475.6 235.1,475.3 234.6,474.9 234.2,474.5 233.9,474.2 233.7,473.8 233.5,473.4 233.5,473.0" stroke="#000" stroke-width="1.3" fill="none" stroke-linejoin="round" stroke-linecap="round"/>
<polyline points="262.5,478.5 262.5,478.9 262.3,479.3 262.1,479.7 261.8,480.0 261.4,480.4 260.9,480.8 260.4,481.1 259.7,481.4 259.0,481.7 258.3,482.0 257.4,482.3 256.5,482.5 255.6,482.8 254.6,483.0 253.5,483.1 252.5,483.3 251.4,483.4 250.3,483.4 249.1,483.5 248.0,483.5 246.9,483.5 245.7,483.4 244.6,483.4 243.5,483.3 242.5,483.1 241.4,483.0 240.4,482.8 239.5,482.5 238.6,482.3 237.7,482.0 237.0,481.7 236.3,481.4 235.6,481.1 235.1,480.8 234.6,480.4 234.2,480.0 233.9,479.7 233.7,479.3 233.5,478.9 233.5,478.5" stroke="#000" stroke-width="1.3" fill="none" stroke-linejoin="round" stroke-linecap="round"/>
<path d="M237.5,436 Q241.0,431 244.5,436 L244.5,458.5 Q241.0,463.5 237.5,458.5 Z" stroke="#000" stroke-width="1.3" fill="none" stroke-linejoin="round" stroke-linecap="round"/>
<path d="M251.6,436 Q255.1,431 258.6,436 L258.6,458.5 Q255.1,463.5 251.6,458.5 Z" stroke="#000" stroke-width="1.3" fill="none" stroke-linejoin="round" stroke-linecap="round"/>
<line x1="244.5" y1="439.5" x2="251.6" y2="439.5" stroke="#000" stroke-width="1.0"/>
<line x1="244.5" y1="458.0" x2="251.6" y2="458.0" stroke="#000" stroke-width="1.0"/>
<line x1="235.0" y1="434.0" x2="235.0" y2="461.0" stroke="#000" stroke-width="0.9"/>
<line x1="261.0" y1="434.0" x2="261.0" y2="461.0" stroke="#000" stroke-width="0.9"/>
<ellipse cx="325.2" cy="346.0" rx="11.3" ry="6.0" stroke="#000" stroke-width="1.5" fill="none"/>
<line x1="313.9" y1="346.0" x2="313.9" y2="354.0" stroke="#000" stroke-width="1.5"/>
<line x1="336.5" y1="346.0" x2="336.5" y2="354.0" stroke="#000" stroke-width="1.5"/>
<polyline points="336.5,354.0 336.5,354.4 336.4,354.8 336.2,355.2 335.9,355.5 335.6,355.9 335.3,356.3 334.8,356.6 334.3,356.9 333.8,357.2 333.2,357.5 332.5,357.8 331.8,358.0 331.1,358.3 330.3,358.5 329.5,358.6 328.7,358.8 327.8,358.9 327.0,358.9 326.1,359.0 325.2,359.0 324.3,359.0 323.4,358.9 322.6,358.9 321.7,358.8 320.9,358.6 320.1,358.5 319.3,358.3 318.6,358.0 317.9,357.8 317.2,357.5 316.6,357.2 316.1,356.9 315.6,356.6 315.1,356.3 314.8,355.9 314.5,355.5 314.2,355.2 314.0,354.8 313.9,354.4 313.9,354.0" stroke="#000" stroke-width="1.6" fill="none" stroke-linejoin="round" stroke-linecap="round"/>
<line x1="319.4" y1="359.0" x2="319.4" y2="385.5" stroke="#000" stroke-width="1.4"/>
<line x1="331.0" y1="359.0" x2="331.0" y2="385.5" stroke="#000" stroke-width="1.4"/>
<line x1="319.4" y1="385.5" x2="317.4" y2="396.5" stroke="#000" stroke-width="1.4"/>
<line x1="331.0" y1="385.5" x2="333.0" y2="396.5" stroke="#000" stroke-width="1.4"/>
<polyline points="331.0,385.5 331.0,385.6 330.9,385.8 330.8,385.9 330.7,386.1 330.6,386.2 330.4,386.3 330.1,386.4 329.9,386.6 329.6,386.7 329.3,386.8 329.0,386.9 328.6,387.0 328.2,387.0 327.8,387.1 327.4,387.2 327.0,387.2 326.6,387.3 326.1,387.3 325.7,387.3 325.2,387.3 324.7,387.3 324.3,387.3 323.8,387.3 323.4,387.2 323.0,387.2 322.6,387.1 322.2,387.0 321.8,387.0 321.4,386.9 321.1,386.8 320.8,386.7 320.5,386.6 320.3,386.4 320.0,386.3 319.8,386.2 319.7,386.1 319.6,385.9 319.5,385.8 319.4,385.6 319.4,385.5" stroke="#000" stroke-width="1.1" fill="none" stroke-linejoin="round" stroke-linecap="round"/>
<polyline points="333.0,396.5 333.0,396.7 332.9,396.8 332.8,397.0 332.6,397.2 332.4,397.3 332.1,397.5 331.9,397.6 331.5,397.8 331.1,397.9 330.7,398.1 330.3,398.2 329.8,398.3 329.3,398.4 328.7,398.5 328.2,398.5 327.6,398.6 327.0,398.6 326.4,398.7 325.8,398.7 325.2,398.7 324.6,398.7 324.0,398.7 323.4,398.6 322.8,398.6 322.2,398.5 321.7,398.5 321.1,398.4 320.6,398.3 320.1,398.2 319.7,398.1 319.3,397.9 318.9,397.8 318.5,397.6 318.3,397.5 318.0,397.3 317.8,397.2 317.6,397.0 317.5,396.8 317.4,396.7 317.4,396.5" stroke="#000" stroke-width="1.1" fill="none" stroke-linejoin="round" stroke-linecap="round"/>
<line x1="317.4" y1="396.5" x2="317.4" y2="405.0" stroke="#000" stroke-width="1.4"/>
<line x1="333.0" y1="396.5" x2="333.0" y2="405.0" stroke="#000" stroke-width="1.4"/>
<path d="M317.4,405 L314.4,408 L314.4,411 M333.0,405 L336.0,408 L336.0,411" stroke="#000" stroke-width="1.3" fill="none" stroke-linejoin="round" stroke-linecap="round"/>
<polyline points="336.0,408.0 336.0,408.2 335.9,408.4 335.7,408.6 335.5,408.8 335.2,409.0 334.8,409.2 334.4,409.4 333.9,409.5 333.4,409.7 332.8,409.8 332.2,410.0 331.5,410.1 330.8,410.2 330.1,410.3 329.3,410.4 328.5,410.5 327.7,410.5 326.9,410.6 326.0,410.6 325.2,410.6 324.4,410.6 323.5,410.6 322.7,410.5 321.9,410.5 321.1,410.4 320.3,410.3 319.6,410.2 318.9,410.1 318.2,410.0 317.6,409.8 317.0,409.7 316.5,409.5 316.0,409.4 315.6,409.2 315.2,409.0 314.9,408.8 314.7,408.6 314.5,408.4 314.4,408.2 314.4,408.0" stroke="#000" stroke-width="1.1" fill="none" stroke-linejoin="round" stroke-linecap="round"/>
<polyline points="310.7,417.0 310.7,416.6 310.9,416.2 311.1,415.8 311.4,415.5 311.8,415.1 312.3,414.7 312.8,414.4 313.5,414.1 314.2,413.8 314.9,413.5 315.8,413.2 316.7,413.0 317.6,412.7 318.6,412.5 319.7,412.4 320.7,412.2 321.8,412.1 322.9,412.1 324.1,412.0 325.2,412.0 326.3,412.0 327.5,412.1 328.6,412.1 329.7,412.2 330.7,412.4 331.8,412.5 332.8,412.7 333.7,413.0 334.6,413.2 335.5,413.5 336.2,413.8 336.9,414.1 337.6,414.4 338.1,414.7 338.6,415.1 339.0,415.5 339.3,415.8 339.5,416.2 339.7,416.6 339.7,417.0" stroke="#000" stroke-width="1.5" fill="none" stroke-linejoin="round" stroke-linecap="round"/>
<line x1="310.7" y1="417.0" x2="310.7" y2="486.3" stroke="#000" stroke-width="1.6"/>
<line x1="339.7" y1="417.0" x2="339.7" y2="486.3" stroke="#000" stroke-width="1.6"/>
<polyline points="339.7,486.3 339.7,486.7 339.5,487.1 339.3,487.5 339.0,487.8 338.6,488.2 338.1,488.6 337.6,488.9 336.9,489.2 336.2,489.5 335.5,489.8 334.6,490.1 333.7,490.3 332.8,490.6 331.8,490.8 330.7,490.9 329.7,491.1 328.6,491.2 327.5,491.2 326.3,491.3 325.2,491.3 324.1,491.3 322.9,491.2 321.8,491.2 320.7,491.1 319.7,490.9 318.6,490.8 317.6,490.6 316.7,490.3 315.8,490.1 314.9,489.8 314.2,489.5 313.5,489.2 312.8,488.9 312.3,488.6 311.8,488.2 311.4,487.8 311.1,487.5 310.9,487.1 310.7,486.7 310.7,486.3" stroke="#000" stroke-width="1.7" fill="none" stroke-linejoin="round" stroke-linecap="round"/>
<polyline points="339.7,417.0 339.7,417.4 339.5,417.8 339.3,418.2 339.0,418.5 338.6,418.9 338.1,419.3 337.6,419.6 336.9,419.9 336.2,420.2 335.5,420.5 334.6,420.8 333.7,421.0 332.8,421.3 331.8,421.5 330.7,421.6 329.7,421.8 328.6,421.9 327.5,421.9 326.3,422.0 325.2,422.0 324.1,422.0 322.9,421.9 321.8,421.9 320.7,421.8 319.7,421.6 318.6,421.5 317.6,421.3 316.7,421.0 315.8,420.8 314.9,420.5 314.2,420.2 313.5,419.9 312.8,419.6 312.3,419.3 311.8,418.9 311.4,418.5 311.1,418.2 310.9,417.8 310.7,417.4 310.7,417.0" stroke="#000" stroke-width="1.3" fill="none" stroke-linejoin="round" stroke-linecap="round"/>
<polyline points="338.8,422.2 338.5,422.5 338.1,422.8 337.7,423.0 337.2,423.3 336.7,423.5 336.1,423.8 335.5,424.0 334.9,424.2 334.2,424.4 333.5,424.6 332.8,424.8 332.0,424.9 331.2,425.0 330.4,425.2 329.6,425.3 328.7,425.4 327.8,425.4 327.0,425.5 326.1,425.5 325.2,425.5 324.3,425.5 323.4,425.5 322.6,425.4 321.7,425.4 320.8,425.3 320.0,425.2 319.2,425.0 318.4,424.9 317.6,424.8 316.9,424.6 316.2,424.4 315.5,424.2 314.9,424.0 314.3,423.8 313.7,423.5 313.2,423.3 312.7,423.0 312.3,422.8 311.9,422.5 311.6,422.2" stroke="#000" stroke-width="1.0" fill="none" stroke-linejoin="round" stroke-linecap="round"/>
<polyline points="339.7,468.0 339.7,468.4 339.5,468.7 339.3,469.1 339.0,469.4 338.6,469.7 338.1,470.0 337.6,470.4 336.9,470.6 336.2,470.9 335.5,471.2 334.6,471.4 333.7,471.6 332.8,471.8 331.8,472.0 330.7,472.2 329.7,472.3 328.6,472.4 327.5,472.4 326.3,472.5 325.2,472.5 324.1,472.5 322.9,472.4 321.8,472.4 320.7,472.3 319.7,472.2 318.6,472.0 317.6,471.8 316.7,471.6 315.8,471.4 314.9,471.2 314.2,470.9 313.5,470.6 312.8,470.4 312.3,470.0 311.8,469.7 311.4,469.4 311.1,469.1 310.9,468.7 310.7,468.4 310.7,468.0" stroke="#000" stroke-width="1.0" fill="none" stroke-linejoin="round" stroke-linecap="round"/>
<polyline points="339.7,473.0 339.7,473.4 339.5,473.8 339.3,474.2 339.0,474.5 338.6,474.9 338.1,475.3 337.6,475.6 336.9,475.9 336.2,476.2 335.5,476.5 334.6,476.8 333.7,477.0 332.8,477.3 331.8,477.5 330.7,477.6 329.7,477.8 328.6,477.9 327.5,477.9 326.3,478.0 325.2,478.0 324.1,478.0 322.9,477.9 321.8,477.9 320.7,477.8 319.7,477.6 318.6,477.5 317.6,477.3 316.7,477.0 315.8,476.8 314.9,476.5 314.2,476.2 313.5,475.9 312.8,475.6 312.3,475.3 311.8,474.9 311.4,474.5 311.1,474.2 310.9,473.8 310.7,473.4 310.7,473.0" stroke="#000" stroke-width="1.3" fill="none" stroke-linejoin="round" stroke-linecap="round"/>
<polyline points="339.7,478.5 339.7,478.9 339.5,479.3 339.3,479.7 339.0,480.0 338.6,480.4 338.1,480.8 337.6,481.1 336.9,481.4 336.2,481.7 335.5,482.0 334.6,482.3 333.7,482.5 332.8,482.8 331.8,483.0 330.7,483.1 329.7,483.3 328.6,483.4 327.5,483.4 326.3,483.5 325.2,483.5 324.1,483.5 322.9,483.4 321.8,483.4 320.7,483.3 319.7,483.1 318.6,483.0 317.6,482.8 316.7,482.5 315.8,482.3 314.9,482.0 314.2,481.7 313.5,481.4 312.8,481.1 312.3,480.8 311.8,480.4 311.4,480.0 311.1,479.7 310.9,479.3 310.7,478.9 310.7,478.5" stroke="#000" stroke-width="1.3" fill="none" stroke-linejoin="round" stroke-linecap="round"/>
<path d="M314.7,436 Q318.2,431 321.7,436 L321.7,458.5 Q318.2,463.5 314.7,458.5 Z" stroke="#000" stroke-width="1.3" fill="none" stroke-linejoin="round" stroke-linecap="round"/>
<path d="M328.8,436 Q332.3,431 335.8,436 L335.8,458.5 Q332.3,463.5 328.8,458.5 Z" stroke="#000" stroke-width="1.3" fill="none" stroke-linejoin="round" stroke-linecap="round"/>
<line x1="321.7" y1="439.5" x2="328.8" y2="439.5" stroke="#000" stroke-width="1.0"/>
<line x1="321.7" y1="458.0" x2="328.8" y2="458.0" stroke="#000" stroke-width="1.0"/>
<line x1="312.2" y1="434.0" x2="312.2" y2="461.0" stroke="#000" stroke-width="0.9"/>
<line x1="338.2" y1="434.0" x2="338.2" y2="461.0" stroke="#000" stroke-width="0.9"/>
<path d="M135.62,423.93 L135.62,435.07 L140.14,435.07 C142.50,435.07 144.12,433.96 144.12,432.13 C144.12,430.30 142.50,429.18 139.96,429.18 L135.62,429.18 M139.96,429.18 C141.95,429.18 143.40,428.15 143.40,426.55 C143.40,424.96 141.95,423.93 139.78,423.93 L135.62,423.93" stroke="#000" stroke-width="1.75" fill="none" stroke-linecap="round" stroke-linejoin="round"/>
<line x1="161.0" y1="431.4" x2="235.3" y2="435.3" stroke="#000" stroke-width="1.3"/>
<path d="M135.62,463.18 L135.62,474.32 L140.14,474.32 C142.50,474.32 144.12,473.21 144.12,471.38 C144.12,469.55 142.50,468.43 139.96,468.43 L135.62,468.43 M139.96,468.43 C141.95,468.43 143.40,467.40 143.40,465.80 C143.40,464.21 141.95,463.18 139.78,463.18 L135.62,463.18" stroke="#000" stroke-width="1.75" fill="none" stroke-linecap="round" stroke-linejoin="round"/>
<line x1="159.8" y1="468.0" x2="310.0" y2="470.5" stroke="#000" stroke-width="1.3"/>
<polyline points="118.5,430.7 93.0,430.7 93.0,578.8 124.6,590.3" stroke="#000" stroke-width="1.3" fill="none" stroke-linejoin="round" stroke-linecap="round"/>
<line x1="93.0" y1="468.0" x2="120.2" y2="468.0" stroke="#000" stroke-width="1.3"/>
<path d="M53.90,497.97 C56.67,497.97 58.93,500.62 58.93,503.90 C58.93,507.18 56.67,509.82 53.90,509.82 C51.13,509.82 48.88,507.18 48.88,503.90 C48.88,500.62 51.13,497.97 53.90,497.97 Z" stroke="#000" stroke-width="1.75" fill="none" stroke-linecap="round" stroke-linejoin="round"/>
<path d="M68.50,497.97 C71.27,497.97 73.53,500.62 73.53,503.90 C73.53,507.18 71.27,509.82 68.50,509.82 C65.73,509.82 63.48,507.18 63.48,503.90 C63.48,500.62 65.73,497.97 68.50,497.97 Z" stroke="#000" stroke-width="1.75" fill="none" stroke-linecap="round" stroke-linejoin="round"/>
<line x1="80.0" y1="504.0" x2="93.0" y2="504.0" stroke="#000" stroke-width="1.3"/>
<path d="M172.18,513.97 L172.18,526.12" stroke="#000" stroke-width="1.75" fill="none" stroke-linecap="round" stroke-linejoin="round"/>
<path d="M187.72,513.97 L181.13,513.97 L180.45,519.70 C181.47,518.83 182.65,518.49 184.00,518.49 C186.45,518.49 188.22,520.22 188.22,522.31 C188.22,524.56 186.37,526.12 184.00,526.12 C182.14,526.12 180.62,525.26 179.78,524.04" stroke="#000" stroke-width="1.75" fill="none" stroke-linecap="round" stroke-linejoin="round"/>
<line x1="195.3" y1="521.0" x2="241.5" y2="528.4" stroke="#000" stroke-width="1.3"/>
<path d="M364.88,524.58 L364.88,536.43" stroke="#000" stroke-width="1.75" fill="none" stroke-linecap="round" stroke-linejoin="round"/>
<path d="M379.22,524.58 L372.63,524.58 L371.95,530.16 C372.97,529.32 374.15,528.98 375.50,528.98 C377.95,528.98 379.73,530.67 379.73,532.70 C379.73,534.90 377.87,536.43 375.50,536.43 C373.64,536.43 372.12,535.58 371.28,534.39" stroke="#000" stroke-width="1.75" fill="none" stroke-linecap="round" stroke-linejoin="round"/>
<line x1="331.0" y1="531.4" x2="356.7" y2="530.0" stroke="#000" stroke-width="1.3"/>
<path d="M133.68,598.87 L138.40,587.72 L143.12,598.87 M135.38,595.05 L141.42,595.05" stroke="#000" stroke-width="1.75" fill="none" stroke-linecap="round" stroke-linejoin="round"/>
<line x1="156.0" y1="600.5" x2="191.4" y2="613.1" stroke="#000" stroke-width="1.3"/>
<path d="M243.8,516 L243.8,504 A4.4,3.6 0 0 1 252.6,504 L252.6,516" stroke="#000" stroke-width="1.5" fill="none" stroke-linejoin="round" stroke-linecap="round"/>
<line x1="241.0" y1="517.0" x2="241.0" y2="548.5" stroke="#000" stroke-width="1.6"/>
<line x1="255.4" y1="517.0" x2="255.4" y2="548.5" stroke="#000" stroke-width="1.6"/>
<polyline points="241.0,517.5 241.0,517.3 241.1,517.2 241.2,517.0 241.4,516.8 241.5,516.7 241.8,516.5 242.1,516.4 242.4,516.2 242.7,516.1 243.1,515.9 243.5,515.8 244.0,515.7 244.4,515.6 244.9,515.5 245.4,515.5 246.0,515.4 246.5,515.4 247.1,515.3 247.6,515.3 248.2,515.3 248.8,515.3 249.3,515.3 249.9,515.4 250.4,515.4 251.0,515.5 251.5,515.5 252.0,515.6 252.4,515.7 252.9,515.8 253.3,515.9 253.7,516.1 254.0,516.2 254.3,516.4 254.6,516.5 254.9,516.7 255.0,516.8 255.2,517.0 255.3,517.2 255.4,517.3 255.4,517.5" stroke="#000" stroke-width="1.3" fill="none" stroke-linejoin="round" stroke-linecap="round"/>
<polyline points="255.4,517.5 255.4,517.7 255.3,517.8 255.2,518.0 255.0,518.2 254.9,518.3 254.6,518.5 254.3,518.6 254.0,518.8 253.7,518.9 253.3,519.1 252.9,519.2 252.4,519.3 252.0,519.4 251.5,519.5 251.0,519.5 250.4,519.6 249.9,519.6 249.3,519.7 248.8,519.7 248.2,519.7 247.6,519.7 247.1,519.7 246.5,519.6 246.0,519.6 245.4,519.5 244.9,519.5 244.4,519.4 244.0,519.3 243.5,519.2 243.1,519.1 242.7,518.9 242.4,518.8 242.1,518.6 241.8,518.5 241.5,518.3 241.4,518.2 241.2,518.0 241.1,517.8 241.0,517.7 241.0,517.5" stroke="#000" stroke-width="1.0" fill="none" stroke-linejoin="round" stroke-linecap="round"/>
<polyline points="255.4,548.5 255.4,548.7 255.3,548.9 255.2,549.1 255.0,549.3 254.9,549.5 254.6,549.7 254.3,549.9 254.0,550.0 253.7,550.2 253.3,550.3 252.9,550.5 252.4,550.6 252.0,550.7 251.5,550.8 251.0,550.9 250.4,551.0 249.9,551.0 249.3,551.1 248.8,551.1 248.2,551.1 247.6,551.1 247.1,551.1 246.5,551.0 246.0,551.0 245.4,550.9 244.9,550.8 244.4,550.7 244.0,550.6 243.5,550.5 243.1,550.3 242.7,550.2 242.4,550.0 242.1,549.9 241.8,549.7 241.5,549.5 241.4,549.3 241.2,549.1 241.1,548.9 241.0,548.7 241.0,548.5" stroke="#000" stroke-width="1.6" fill="none" stroke-linejoin="round" stroke-linecap="round"/>
<polyline points="255.4,523.0 255.4,523.2 255.3,523.3 255.2,523.5 255.0,523.6 254.9,523.8 254.6,523.9 254.3,524.0 254.0,524.2 253.7,524.3 253.3,524.4 252.9,524.5 252.4,524.6 252.0,524.7 251.5,524.8 251.0,524.8 250.4,524.9 249.9,524.9 249.3,525.0 248.8,525.0 248.2,525.0 247.6,525.0 247.1,525.0 246.5,524.9 246.0,524.9 245.4,524.8 244.9,524.8 244.4,524.7 244.0,524.6 243.5,524.5 243.1,524.4 242.7,524.3 242.4,524.2 242.1,524.0 241.8,523.9 241.5,523.8 241.4,523.6 241.2,523.5 241.1,523.3 241.0,523.2 241.0,523.0" stroke="#000" stroke-width="1.1" fill="none" stroke-linejoin="round" stroke-linecap="round"/>
<polyline points="255.4,530.0 255.4,530.2 255.3,530.3 255.2,530.5 255.0,530.6 254.9,530.8 254.6,530.9 254.3,531.0 254.0,531.2 253.7,531.3 253.3,531.4 252.9,531.5 252.4,531.6 252.0,531.7 251.5,531.8 251.0,531.8 250.4,531.9 249.9,531.9 249.3,532.0 248.8,532.0 248.2,532.0 247.6,532.0 247.1,532.0 246.5,531.9 246.0,531.9 245.4,531.8 244.9,531.8 244.4,531.7 244.0,531.6 243.5,531.5 243.1,531.4 242.7,531.3 242.4,531.2 242.1,531.0 241.8,530.9 241.5,530.8 241.4,530.6 241.2,530.5 241.1,530.3 241.0,530.2 241.0,530.0" stroke="#000" stroke-width="1.1" fill="none" stroke-linejoin="round" stroke-linecap="round"/>
<path d="M320.3,516 L320.3,504 A4.4,3.6 0 0 1 329.1,504 L329.1,516" stroke="#000" stroke-width="1.5" fill="none" stroke-linejoin="round" stroke-linecap="round"/>
<line x1="317.5" y1="517.0" x2="317.5" y2="548.5" stroke="#000" stroke-width="1.6"/>
<line x1="331.9" y1="517.0" x2="331.9" y2="548.5" stroke="#000" stroke-width="1.6"/>
<polyline points="317.5,517.5 317.5,517.3 317.6,517.2 317.7,517.0 317.9,516.8 318.0,516.7 318.3,516.5 318.6,516.4 318.9,516.2 319.2,516.1 319.6,515.9 320.0,515.8 320.5,515.7 320.9,515.6 321.4,515.5 321.9,515.5 322.5,515.4 323.0,515.4 323.6,515.3 324.1,515.3 324.7,515.3 325.3,515.3 325.8,515.3 326.4,515.4 326.9,515.4 327.5,515.5 328.0,515.5 328.5,515.6 328.9,515.7 329.4,515.8 329.8,515.9 330.2,516.1 330.5,516.2 330.8,516.4 331.1,516.5 331.4,516.7 331.5,516.8 331.7,517.0 331.8,517.2 331.9,517.3 331.9,517.5" stroke="#000" stroke-width="1.3" fill="none" stroke-linejoin="round" stroke-linecap="round"/>
<polyline points="331.9,517.5 331.9,517.7 331.8,517.8 331.7,518.0 331.5,518.2 331.4,518.3 331.1,518.5 330.8,518.6 330.5,518.8 330.2,518.9 329.8,519.1 329.4,519.2 328.9,519.3 328.5,519.4 328.0,519.5 327.5,519.5 326.9,519.6 326.4,519.6 325.8,519.7 325.3,519.7 324.7,519.7 324.1,519.7 323.6,519.7 323.0,519.6 322.5,519.6 321.9,519.5 321.4,519.5 320.9,519.4 320.5,519.3 320.0,519.2 319.6,519.1 319.2,518.9 318.9,518.8 318.6,518.6 318.3,518.5 318.0,518.3 317.9,518.2 317.7,518.0 317.6,517.8 317.5,517.7 317.5,517.5" stroke="#000" stroke-width="1.0" fill="none" stroke-linejoin="round" stroke-linecap="round"/>
<polyline points="331.9,548.5 331.9,548.7 331.8,548.9 331.7,549.1 331.5,549.3 331.4,549.5 331.1,549.7 330.8,549.9 330.5,550.0 330.2,550.2 329.8,550.3 329.4,550.5 328.9,550.6 328.5,550.7 328.0,550.8 327.5,550.9 326.9,551.0 326.4,551.0 325.8,551.1 325.3,551.1 324.7,551.1 324.1,551.1 323.6,551.1 323.0,551.0 322.5,551.0 321.9,550.9 321.4,550.8 320.9,550.7 320.5,550.6 320.0,550.5 319.6,550.3 319.2,550.2 318.9,550.0 318.6,549.9 318.3,549.7 318.0,549.5 317.9,549.3 317.7,549.1 317.6,548.9 317.5,548.7 317.5,548.5" stroke="#000" stroke-width="1.6" fill="none" stroke-linejoin="round" stroke-linecap="round"/>
<polyline points="331.9,523.0 331.9,523.2 331.8,523.3 331.7,523.5 331.5,523.6 331.4,523.8 331.1,523.9 330.8,524.0 330.5,524.2 330.2,524.3 329.8,524.4 329.4,524.5 328.9,524.6 328.5,524.7 328.0,524.8 327.5,524.8 326.9,524.9 326.4,524.9 325.8,525.0 325.3,525.0 324.7,525.0 324.1,525.0 323.6,525.0 323.0,524.9 322.5,524.9 321.9,524.8 321.4,524.8 320.9,524.7 320.5,524.6 320.0,524.5 319.6,524.4 319.2,524.3 318.9,524.2 318.6,524.0 318.3,523.9 318.0,523.8 317.9,523.6 317.7,523.5 317.6,523.3 317.5,523.2 317.5,523.0" stroke="#000" stroke-width="1.1" fill="none" stroke-linejoin="round" stroke-linecap="round"/>
<polyline points="331.9,530.0 331.9,530.2 331.8,530.3 331.7,530.5 331.5,530.6 331.4,530.8 331.1,530.9 330.8,531.0 330.5,531.2 330.2,531.3 329.8,531.4 329.4,531.5 328.9,531.6 328.5,531.7 328.0,531.8 327.5,531.8 326.9,531.9 326.4,531.9 325.8,532.0 325.3,532.0 324.7,532.0 324.1,532.0 323.6,532.0 323.0,531.9 322.5,531.9 321.9,531.8 321.4,531.8 320.9,531.7 320.5,531.6 320.0,531.5 319.6,531.4 319.2,531.3 318.9,531.2 318.6,531.0 318.3,530.9 318.0,530.8 317.9,530.6 317.7,530.5 317.6,530.3 317.5,530.2 317.5,530.0" stroke="#000" stroke-width="1.1" fill="none" stroke-linejoin="round" stroke-linecap="round"/>
<line x1="248.4" y1="555.0" x2="248.4" y2="625.0" stroke="#000" stroke-width="1.1"/>
<line x1="325.0" y1="555.0" x2="325.0" y2="640.0" stroke="#000" stroke-width="1.1"/>
<path d="M191.4,613.0 C195.1,611.2 205.3,605.5 213.7,602.3 C222.1,599.1 233.0,595.8 241.6,594.0 C250.2,592.2 256.9,591.7 265.0,591.5 C273.1,591.3 281.2,591.8 290.0,593.0 C298.8,594.2 308.1,595.2 317.7,598.6 C327.3,602.0 339.6,608.5 347.4,613.5 C355.1,618.5 359.5,622.5 364.2,628.4 C368.9,634.3 373.1,643.2 375.3,648.8 C377.5,654.4 376.1,658.2 377.2,661.9 C378.3,665.6 381.1,668.7 381.9,671.2 C382.7,673.7 381.9,668.5 381.9,676.7 C381.9,684.9 381.9,713.2 381.9,720.5" stroke="#000" stroke-width="1.5" fill="none" stroke-linejoin="round" stroke-linecap="round"/>
<path d="M381.9,720.5 C382.2,720.7 381.4,719.6 384.0,721.6 C386.6,723.6 393.9,728.3 397.7,732.6 C401.5,736.9 405.3,742.8 407.0,747.4 C408.7,752.0 407.8,744.9 407.9,760.0 C408.0,775.1 409.0,823.5 407.9,837.9 C406.8,852.3 405.0,843.8 401.4,846.3 C397.8,848.8 390.2,850.5 386.5,852.8 C382.8,855.1 380.4,857.3 379.0,860.2 C377.6,863.1 378.2,866.9 378.0,870.0 C377.8,873.1 379.1,875.8 378.0,878.8 C376.9,881.8 375.8,885.5 371.6,888.1 C367.4,890.8 360.8,893.6 353.0,894.7 C345.2,895.8 332.9,894.2 325.1,894.7 C317.4,895.2 312.7,895.4 306.5,897.4 C300.3,899.4 294.1,904.4 287.9,906.7 C281.7,909.0 274.3,910.8 269.3,911.4 C264.3,912.0 261.2,911.7 257.7,910.5 C254.2,909.3 249.9,905.1 248.4,904.0" stroke="#000" stroke-width="1.6" fill="none" stroke-linejoin="round" stroke-linecap="round"/>
<line x1="248.4" y1="904.0" x2="146.0" y2="847.2" stroke="#000" stroke-width="1.6"/>
<path d="M146.0,847.2 C144.8,846.3 140.3,843.8 138.6,841.6 C136.9,839.4 136.3,841.1 135.8,834.2 C135.3,827.3 135.8,813.6 135.8,800.0 C135.8,786.4 135.3,762.1 135.8,752.3 C136.3,742.5 136.6,744.8 138.6,741.2 C140.6,737.7 143.4,735.2 147.9,731.0 C152.4,726.8 161.8,720.1 165.3,716.0 C168.8,711.9 169.3,709.3 169.0,706.5 C168.7,703.7 164.7,701.5 163.5,699.0 C162.3,696.5 161.9,698.1 161.6,691.6 C161.3,685.1 161.5,669.3 161.6,660.0 C161.7,650.7 161.7,640.9 162.0,635.8 C162.3,630.7 161.7,631.6 163.5,629.3 C165.3,627.0 169.1,623.6 172.8,621.9 C176.5,620.2 182.7,620.5 185.8,619.0 C188.9,617.5 190.5,614.0 191.4,613.0" stroke="#000" stroke-width="1.6" fill="none" stroke-linejoin="round" stroke-linecap="round"/>
<polyline points="162.6,637.7 170.0,644.2 169.0,699.0" stroke="#000" stroke-width="1.2" fill="none" stroke-linejoin="round" stroke-linecap="round"/>
<path d="M170.0,648.8 C171.4,653.4 172.7,668.3 178.4,676.7 C184.1,685.1 193.9,693.6 204.4,699.0 C214.9,704.4 229.2,707.3 241.6,709.3 C254.0,711.3 269.5,711.5 278.8,711.2 C288.1,710.9 287.3,709.1 297.2,707.4 C307.1,705.7 326.8,704.2 338.0,701.0 C349.2,697.8 356.9,692.6 364.2,687.9 C371.5,683.2 378.9,675.5 381.9,673.0" stroke="#000" stroke-width="1.1" fill="none" stroke-linejoin="round" stroke-linecap="round"/>
<path d="M381.9,695.3 C377.7,697.6 362.4,706.2 356.7,709.3 C350.9,712.4 351.1,712.6 347.4,714.0 C343.7,715.4 336.6,717.1 334.4,717.7" stroke="#000" stroke-width="1.3" fill="none" stroke-linejoin="round" stroke-linecap="round"/>
<line x1="333.5" y1="704.7" x2="333.5" y2="713.0" stroke="#000" stroke-width="0.9"/>
<line x1="336.5" y1="704.7" x2="336.5" y2="713.0" stroke="#000" stroke-width="0.9"/>
<line x1="358.6" y1="710.2" x2="360.5" y2="736.3" stroke="#000" stroke-width="1.0"/>
<path d="M169.0,723.3 C169.6,725.8 170.0,732.7 172.8,738.0 C175.6,743.3 180.7,750.3 185.8,755.0 C191.0,759.7 194.2,762.4 203.7,766.3 C213.2,770.2 236.3,776.4 242.8,778.4" stroke="#000" stroke-width="1.1" fill="none" stroke-linejoin="round" stroke-linecap="round"/>
<path d="M259.5,779.3 C265.8,778.8 284.1,778.7 297.2,776.5 C310.3,774.3 331.3,768.0 338.1,766.3" stroke="#000" stroke-width="1.1" fill="none" stroke-linejoin="round" stroke-linecap="round"/>
<path d="M348.4,761.6 C351.2,758.8 360.5,750.1 365.0,745.0 C369.5,739.9 373.6,733.3 375.3,731.0" stroke="#000" stroke-width="1.2" fill="none" stroke-linejoin="round" stroke-linecap="round"/>
<path d="M358.6,745.8 C360.2,744.6 364.6,741.0 368.0,738.5 C371.4,736.0 377.2,732.2 379.0,731.0" stroke="#000" stroke-width="1.0" fill="none" stroke-linejoin="round" stroke-linecap="round"/>
<path d="M144.5,751.0 C145.6,752.1 135.2,748.0 151.0,757.5 C166.8,767.0 221.8,798.0 239.0,808.1 C256.2,818.2 247.2,816.4 254.0,818.4 C260.8,820.4 272.8,821.0 280.0,820.2 C287.2,819.4 285.0,820.1 297.2,813.7 C309.4,807.4 337.5,791.1 353.0,782.1 C368.5,773.1 381.8,765.4 390.2,759.8 C398.6,754.2 401.1,750.5 403.3,748.6" stroke="#000" stroke-width="1.2" fill="none" stroke-linejoin="round" stroke-linecap="round"/>
<line x1="377.2" y1="794.2" x2="377.2" y2="864.0" stroke="#000" stroke-width="1.3"/>
<line x1="302.8" y1="833.3" x2="302.8" y2="883.5" stroke="#000" stroke-width="1.0"/>
<line x1="325.1" y1="821.2" x2="325.1" y2="880.7" stroke="#000" stroke-width="1.0"/>
<path d="M358,815 L371,810.5 Q375,810 375,814 L375,848 Q375,852 371,853.5 L361,854 Q357,854 357,850 Z" stroke="#000" stroke-width="1.4" fill="none" stroke-linejoin="round" stroke-linecap="round"/>
<line x1="356.0" y1="816.0" x2="356.0" y2="852.0" stroke="#000" stroke-width="1.0"/>
<line x1="339.0" y1="824.5" x2="354.0" y2="824.5" stroke="#000" stroke-width="1.0"/>
<ellipse cx="247.6" cy="623.2" rx="33.0" ry="19.0" stroke="#000" stroke-width="1.45" fill="none"/>
<path d="M219.5,632.7 A28.4,13.3 0 0 1 275.6,632.7" stroke="#000" stroke-width="1.1" fill="none" stroke-linejoin="round" stroke-linecap="round"/>
<path d="M221.9,635.0 A26.1,11.4 0 0 1 273.3,635.0" stroke="#000" stroke-width="1.0" fill="none" stroke-linejoin="round" stroke-linecap="round"/>
<ellipse cx="221.2" cy="664.7" rx="33.5" ry="19.0" stroke="#000" stroke-width="1.45" fill="none"/>
<path d="M192.7,674.2 A28.8,13.3 0 0 1 249.7,674.2" stroke="#000" stroke-width="1.1" fill="none" stroke-linejoin="round" stroke-linecap="round"/>
<path d="M195.1,676.5 A26.5,11.4 0 0 1 247.3,676.5" stroke="#000" stroke-width="1.0" fill="none" stroke-linejoin="round" stroke-linecap="round"/>
<ellipse cx="323.6" cy="639.5" rx="33.0" ry="18.6" stroke="#000" stroke-width="1.45" fill="none"/>
<path d="M295.6,648.8 A28.4,13.0 0 0 1 351.7,648.8" stroke="#000" stroke-width="1.1" fill="none" stroke-linejoin="round" stroke-linecap="round"/>
<path d="M297.9,651.0 A26.1,11.2 0 0 1 349.3,651.0" stroke="#000" stroke-width="1.0" fill="none" stroke-linejoin="round" stroke-linecap="round"/>
<ellipse cx="295.7" cy="681.4" rx="33.3" ry="19.5" stroke="#000" stroke-width="1.45" fill="none"/>
<path d="M267.4,691.1 A28.6,13.6 0 0 1 324.0,691.1" stroke="#000" stroke-width="1.1" fill="none" stroke-linejoin="round" stroke-linecap="round"/>
<path d="M269.7,693.5 A26.3,11.7 0 0 1 321.7,693.5" stroke="#000" stroke-width="1.0" fill="none" stroke-linejoin="round" stroke-linecap="round"/>
<ellipse cx="186.7" cy="634.3" rx="10.9" ry="6.2" stroke="#000" stroke-width="1.4" fill="none"/>
<polyline points="194.8,633.0 194.6,633.2 194.5,633.4 194.2,633.6 194.0,633.8 193.7,634.0 193.4,634.2 193.1,634.3 192.7,634.5 192.4,634.7 192.0,634.8 191.6,634.9 191.1,635.1 190.7,635.2 190.2,635.3 189.7,635.3 189.2,635.4 188.7,635.4 188.2,635.5 187.7,635.5 187.2,635.5 186.7,635.5 186.2,635.5 185.7,635.4 185.2,635.4 184.7,635.3 184.2,635.3 183.7,635.2 183.3,635.1 182.8,634.9 182.4,634.8 182.0,634.7 181.7,634.5 181.3,634.3 181.0,634.2 180.7,634.0 180.4,633.8 180.2,633.6 179.9,633.4 179.8,633.2 179.6,633.0" stroke="#000" stroke-width="0.8" fill="none" stroke-linejoin="round" stroke-linecap="round"/>
<polyline points="194.8,634.6 194.6,634.8 194.5,635.0 194.2,635.2 194.0,635.4 193.7,635.6 193.4,635.8 193.1,635.9 192.7,636.1 192.4,636.3 192.0,636.4 191.6,636.5 191.1,636.7 190.7,636.8 190.2,636.9 189.7,636.9 189.2,637.0 188.7,637.0 188.2,637.1 187.7,637.1 187.2,637.1 186.7,637.1 186.2,637.1 185.7,637.0 185.2,637.0 184.7,636.9 184.2,636.9 183.7,636.8 183.3,636.7 182.8,636.5 182.4,636.4 182.0,636.3 181.7,636.1 181.3,635.9 181.0,635.8 180.7,635.6 180.4,635.4 180.2,635.2 179.9,635.0 179.8,634.8 179.6,634.6" stroke="#000" stroke-width="0.8" fill="none" stroke-linejoin="round" stroke-linecap="round"/>
<polyline points="194.8,636.2 194.6,636.4 194.5,636.6 194.2,636.8 194.0,637.0 193.7,637.2 193.4,637.4 193.1,637.5 192.7,637.7 192.4,637.9 192.0,638.0 191.6,638.1 191.1,638.3 190.7,638.4 190.2,638.5 189.7,638.5 189.2,638.6 188.7,638.6 188.2,638.7 187.7,638.7 187.2,638.7 186.7,638.7 186.2,638.7 185.7,638.6 185.2,638.6 184.7,638.5 184.2,638.5 183.7,638.4 183.3,638.3 182.8,638.1 182.4,638.0 182.0,637.9 181.7,637.7 181.3,637.5 181.0,637.4 180.7,637.2 180.4,637.0 180.2,636.8 179.9,636.6 179.8,636.4 179.6,636.2" stroke="#000" stroke-width="0.8" fill="none" stroke-linejoin="round" stroke-linecap="round"/>
<polyline points="194.8,637.8 194.6,638.0 194.5,638.2 194.2,638.4 194.0,638.6 193.7,638.8 193.4,639.0 193.1,639.1 192.7,639.3 192.4,639.5 192.0,639.6 191.6,639.7 191.1,639.9 190.7,640.0 190.2,640.1 189.7,640.1 189.2,640.2 188.7,640.2 188.2,640.3 187.7,640.3 187.2,640.3 186.7,640.3 186.2,640.3 185.7,640.2 185.2,640.2 184.7,640.1 184.2,640.1 183.7,640.0 183.3,639.9 182.8,639.7 182.4,639.6 182.0,639.5 181.7,639.3 181.3,639.1 181.0,639.0 180.7,638.8 180.4,638.6 180.2,638.4 179.9,638.2 179.8,638.0 179.6,637.8" stroke="#000" stroke-width="0.8" fill="none" stroke-linejoin="round" stroke-linecap="round"/>
<ellipse cx="356.7" cy="671.2" rx="11.2" ry="6.5" stroke="#000" stroke-width="1.4" fill="none"/>
<polyline points="365.0,669.9 364.8,670.1 364.7,670.4 364.4,670.6 364.2,670.8 363.9,671.0 363.6,671.2 363.3,671.4 362.9,671.5 362.5,671.7 362.1,671.8 361.7,672.0 361.2,672.1 360.8,672.2 360.3,672.3 359.8,672.4 359.3,672.5 358.8,672.5 358.3,672.5 357.7,672.6 357.2,672.6 356.7,672.6 356.1,672.5 355.6,672.5 355.1,672.5 354.6,672.4 354.1,672.3 353.6,672.2 353.2,672.1 352.7,672.0 352.3,671.8 351.9,671.7 351.5,671.5 351.1,671.4 350.8,671.2 350.5,671.0 350.2,670.8 350.0,670.6 349.7,670.4 349.6,670.1 349.4,669.9" stroke="#000" stroke-width="0.8" fill="none" stroke-linejoin="round" stroke-linecap="round"/>
<polyline points="365.0,671.5 364.8,671.7 364.7,672.0 364.4,672.2 364.2,672.4 363.9,672.6 363.6,672.8 363.3,673.0 362.9,673.1 362.5,673.3 362.1,673.4 361.7,673.6 361.2,673.7 360.8,673.8 360.3,673.9 359.8,674.0 359.3,674.1 358.8,674.1 358.3,674.1 357.7,674.2 357.2,674.2 356.7,674.2 356.1,674.1 355.6,674.1 355.1,674.1 354.6,674.0 354.1,673.9 353.6,673.8 353.2,673.7 352.7,673.6 352.3,673.4 351.9,673.3 351.5,673.1 351.1,673.0 350.8,672.8 350.5,672.6 350.2,672.4 350.0,672.2 349.7,672.0 349.6,671.7 349.4,671.5" stroke="#000" stroke-width="0.8" fill="none" stroke-linejoin="round" stroke-linecap="round"/>
<polyline points="365.0,673.1 364.8,673.3 364.7,673.6 364.4,673.8 364.2,674.0 363.9,674.2 363.6,674.4 363.3,674.6 362.9,674.7 362.5,674.9 362.1,675.0 361.7,675.2 361.2,675.3 360.8,675.4 360.3,675.5 359.8,675.6 359.3,675.7 358.8,675.7 358.3,675.7 357.7,675.8 357.2,675.8 356.7,675.8 356.1,675.7 355.6,675.7 355.1,675.7 354.6,675.6 354.1,675.5 353.6,675.4 353.2,675.3 352.7,675.2 352.3,675.0 351.9,674.9 351.5,674.7 351.1,674.6 350.8,674.4 350.5,674.2 350.2,674.0 350.0,673.8 349.7,673.6 349.6,673.3 349.4,673.1" stroke="#000" stroke-width="0.8" fill="none" stroke-linejoin="round" stroke-linecap="round"/>
<polyline points="365.0,674.7 364.8,674.9 364.7,675.2 364.4,675.4 364.2,675.6 363.9,675.8 363.6,676.0 363.3,676.2 362.9,676.3 362.5,676.5 362.1,676.6 361.7,676.8 361.2,676.9 360.8,677.0 360.3,677.1 359.8,677.2 359.3,677.3 358.8,677.3 358.3,677.3 357.7,677.4 357.2,677.4 356.7,677.4 356.1,677.3 355.6,677.3 355.1,677.3 354.6,677.2 354.1,677.1 353.6,677.0 353.2,676.9 352.7,676.8 352.3,676.6 351.9,676.5 351.5,676.3 351.1,676.2 350.8,676.0 350.5,675.8 350.2,675.6 350.0,675.4 349.7,675.2 349.6,674.9 349.4,674.7" stroke="#000" stroke-width="0.8" fill="none" stroke-linejoin="round" stroke-linecap="round"/>
<path d="M68.62,915.38 L68.62,927.23" stroke="#000" stroke-width="1.75" fill="none" stroke-linecap="round" stroke-linejoin="round"/>
<path d="M85.18,916.73 C84.34,915.88 83.32,915.38 82.05,915.38 C79.35,915.38 77.58,918.17 77.58,922.32 C77.58,925.36 79.43,927.23 81.80,927.23 C84.17,927.23 86.03,925.53 86.03,923.33 C86.03,921.13 84.17,919.61 81.88,919.61 C80.03,919.61 78.42,920.71 77.74,922.40" stroke="#000" stroke-width="1.75" fill="none" stroke-linecap="round" stroke-linejoin="round"/>
<line x1="92.1" y1="923.0" x2="242.8" y2="939.0" stroke="#000" stroke-width="1.3"/>
<ellipse cx="272.1" cy="942.9" rx="30.5" ry="17.7" stroke="#000" stroke-width="2.2" fill="none"/>
<polyline points="256.6,954.8 256.9,954.6 257.3,954.3 257.8,954.0 258.3,953.8 258.9,953.5 259.5,953.3 260.2,953.0 261.0,952.8 261.8,952.6 262.7,952.4 263.6,952.3 264.5,952.1 265.5,952.0 266.5,951.8 267.5,951.7 268.6,951.7 269.7,951.6 270.8,951.5 271.9,951.5 273.0,951.5 274.1,951.5 275.2,951.5 276.3,951.6 277.4,951.7 278.5,951.7 279.5,951.8 280.5,952.0 281.5,952.1 282.4,952.3 283.3,952.4 284.2,952.6 285.0,952.8 285.8,953.0 286.5,953.3 287.1,953.5 287.7,953.8 288.2,954.0 288.7,954.3 289.1,954.6 289.4,954.8" stroke="#000" stroke-width="2.0" fill="none" stroke-linejoin="round" stroke-linecap="round"/>
<path d="M68.62,988.17 L68.62,1000.02" stroke="#000" stroke-width="1.75" fill="none" stroke-linecap="round" stroke-linejoin="round"/>
<path d="M78.17,988.17 L86.62,988.17 L81.22,1000.02" stroke="#000" stroke-width="1.75" fill="none" stroke-linecap="round" stroke-linejoin="round"/>
<line x1="92.1" y1="994.9" x2="198.1" y2="996.0" stroke="#000" stroke-width="1.3"/>
<polyline points="299.6,957.0 308.7,959.4 317.0,962.4 324.4,966.0 330.9,970.1 336.2,974.6 340.4,979.5 343.2,984.6 344.7,989.9 344.8,995.3 343.5,1000.6 340.9,1005.7 336.9,1010.7 331.8,1015.2 325.5,1019.4 318.2,1023.1 310.0,1026.2 301.0,1028.7 291.6,1030.5 281.7,1031.6 271.7,1032.0 261.6,1031.7 251.7,1030.6 242.2,1028.8 233.3,1026.3 225.0,1023.3 217.7,1019.6 211.3,1015.5 206.1,1010.9 202.1,1006.0 199.4,1000.8 198.1,995.5 198.1,990.2 199.5,984.9 202.3,979.8 206.3,974.9 211.6,970.3 218.0,966.2 225.4,962.6 233.7,959.5 242.7,957.1" stroke="#000" stroke-width="2.1" fill="none" stroke-linejoin="round" stroke-linecap="round"/>
<path d="M68.62,1060.63 L68.62,1072.48" stroke="#000" stroke-width="1.75" fill="none" stroke-linecap="round" stroke-linejoin="round"/>
<path d="M81.80,1060.63 C83.66,1060.63 85.01,1061.89 85.01,1063.59 C85.01,1065.28 83.66,1066.38 81.80,1066.38 C79.94,1066.38 78.59,1065.28 78.59,1063.59 C78.59,1061.89 79.94,1060.63 81.80,1060.63 Z M81.80,1066.38 C84.25,1066.38 86.03,1067.65 86.03,1069.43 C86.03,1071.21 84.25,1072.48 81.80,1072.48 C79.35,1072.48 77.58,1071.21 77.58,1069.43 C77.58,1067.65 79.35,1066.38 81.80,1066.38 Z" stroke="#000" stroke-width="1.75" fill="none" stroke-linecap="round" stroke-linejoin="round"/>
<line x1="92.1" y1="1067.4" x2="198.1" y2="1082.3" stroke="#000" stroke-width="1.3"/>
<ellipse cx="271.4" cy="1086.0" rx="73.5" ry="40.0" stroke="#000" stroke-width="1.6" fill="none"/>
<line x1="197.9" y1="1086.0" x2="197.9" y2="1109.0" stroke="#000" stroke-width="1.6"/>
<line x1="344.9" y1="1086.0" x2="344.9" y2="1109.0" stroke="#000" stroke-width="1.6"/>
<polyline points="344.9,1109.3 344.7,1112.4 344.0,1115.6 342.9,1118.6 341.3,1121.7 339.3,1124.6 336.9,1127.5 334.1,1130.2 330.9,1132.8 327.3,1135.3 323.4,1137.6 319.1,1139.7 314.6,1141.7 309.8,1143.4 304.8,1144.9 299.5,1146.3 294.1,1147.3 288.6,1148.2 282.9,1148.8 277.2,1149.2 271.4,1149.3 265.6,1149.2 259.9,1148.8 254.2,1148.2 248.7,1147.3 243.3,1146.3 238.0,1144.9 233.0,1143.4 228.2,1141.7 223.7,1139.7 219.4,1137.6 215.5,1135.3 211.9,1132.8 208.7,1130.2 205.9,1127.5 203.5,1124.6 201.5,1121.7 199.9,1118.6 198.8,1115.6 198.1,1112.4 197.9,1109.3" stroke="#000" stroke-width="1.8" fill="none" stroke-linejoin="round" stroke-linecap="round"/>
<polyline points="344.9,1094.0 344.7,1097.1 344.0,1100.3 342.9,1103.3 341.3,1106.4 339.3,1109.3 336.9,1112.2 334.1,1114.9 330.9,1117.5 327.3,1120.0 323.4,1122.3 319.1,1124.4 314.6,1126.4 309.8,1128.1 304.8,1129.6 299.5,1131.0 294.1,1132.0 288.6,1132.9 282.9,1133.5 277.2,1133.9 271.4,1134.0 265.6,1133.9 259.9,1133.5 254.2,1132.9 248.7,1132.0 243.3,1131.0 238.0,1129.6 233.0,1128.1 228.2,1126.4 223.7,1124.4 219.4,1122.3 215.5,1120.0 211.9,1117.5 208.7,1114.9 205.9,1112.2 203.5,1109.3 201.5,1106.4 199.9,1103.3 198.8,1100.3 198.1,1097.1 197.9,1094.0" stroke="#000" stroke-width="1.2" fill="none" stroke-linejoin="round" stroke-linecap="round"/>
<polyline points="344.9,1100.0 344.7,1103.1 344.0,1106.3 342.9,1109.3 341.3,1112.4 339.3,1115.3 336.9,1118.2 334.1,1120.9 330.9,1123.5 327.3,1126.0 323.4,1128.3 319.1,1130.4 314.6,1132.4 309.8,1134.1 304.8,1135.6 299.5,1137.0 294.1,1138.0 288.6,1138.9 282.9,1139.5 277.2,1139.9 271.4,1140.0 265.6,1139.9 259.9,1139.5 254.2,1138.9 248.7,1138.0 243.3,1137.0 238.0,1135.6 233.0,1134.1 228.2,1132.4 223.7,1130.4 219.4,1128.3 215.5,1126.0 211.9,1123.5 208.7,1120.9 205.9,1118.2 203.5,1115.3 201.5,1112.4 199.9,1109.3 198.8,1106.3 198.1,1103.1 197.9,1100.0" stroke="#000" stroke-width="1.2" fill="none" stroke-linejoin="round" stroke-linecap="round"/>
<polyline points="342.3,1110.6 341.3,1113.2 339.9,1115.7 338.2,1118.2 336.1,1120.7 333.8,1123.0 331.1,1125.2 328.1,1127.4 324.9,1129.4 321.4,1131.3 317.7,1133.1 313.7,1134.7 309.6,1136.2 305.2,1137.6 300.7,1138.7 296.0,1139.7 291.2,1140.5 286.4,1141.2 281.4,1141.6 276.4,1141.9 271.4,1142.0 266.4,1141.9 261.4,1141.6 256.4,1141.2 251.6,1140.5 246.8,1139.7 242.1,1138.7 237.6,1137.6 233.2,1136.2 229.1,1134.7 225.1,1133.1 221.4,1131.3 217.9,1129.4 214.7,1127.4 211.7,1125.2 209.0,1123.0 206.7,1120.7 204.6,1118.2 202.9,1115.7 201.5,1113.2 200.5,1110.6" stroke="#000" stroke-width="1.0" fill="none" stroke-linejoin="round" stroke-linecap="round"/>
<ellipse cx="271.5" cy="1088.9" rx="18.4" ry="10.6" stroke="#000" stroke-width="1.4" fill="none"/>
<polyline points="283.3,1085.5 283.0,1085.8 282.7,1086.0 282.3,1086.3 281.9,1086.5 281.5,1086.7 281.1,1087.0 280.6,1087.2 280.0,1087.3 279.5,1087.5 278.9,1087.7 278.3,1087.8 277.6,1088.0 277.0,1088.1 276.3,1088.2 275.6,1088.3 274.9,1088.4 274.2,1088.4 273.5,1088.5 272.7,1088.5 272.0,1088.5 271.3,1088.5 270.5,1088.5 269.8,1088.4 269.1,1088.4 268.4,1088.3 267.7,1088.2 267.0,1088.1 266.4,1088.0 265.7,1087.8 265.1,1087.7 264.5,1087.5 264.0,1087.3 263.4,1087.2 262.9,1087.0 262.5,1086.7 262.1,1086.5 261.7,1086.3 261.3,1086.0 261.0,1085.8 260.7,1085.5" stroke="#000" stroke-width="0.9" fill="none" stroke-linejoin="round" stroke-linecap="round"/>
<polyline points="284.4,1087.4 284.1,1087.7 283.8,1087.9 283.4,1088.2 282.9,1088.4 282.5,1088.6 282.0,1088.9 281.4,1089.1 280.8,1089.2 280.2,1089.4 279.6,1089.6 278.9,1089.7 278.2,1089.9 277.5,1090.0 276.7,1090.1 276.0,1090.2 275.2,1090.3 274.4,1090.3 273.6,1090.4 272.8,1090.4 272.0,1090.4 271.2,1090.4 270.4,1090.4 269.6,1090.3 268.8,1090.3 268.0,1090.2 267.3,1090.1 266.5,1090.0 265.8,1089.9 265.1,1089.7 264.4,1089.6 263.8,1089.4 263.2,1089.2 262.6,1089.1 262.0,1088.9 261.5,1088.6 261.1,1088.4 260.6,1088.2 260.2,1087.9 259.9,1087.7 259.6,1087.4" stroke="#000" stroke-width="0.9" fill="none" stroke-linejoin="round" stroke-linecap="round"/>
<polyline points="285.5,1089.3 285.2,1089.6 284.8,1089.8 284.4,1090.1 283.9,1090.3 283.4,1090.5 282.9,1090.8 282.3,1091.0 281.6,1091.1 281.0,1091.3 280.3,1091.5 279.5,1091.6 278.8,1091.8 278.0,1091.9 277.2,1092.0 276.3,1092.1 275.5,1092.2 274.6,1092.2 273.8,1092.3 272.9,1092.3 272.0,1092.3 271.1,1092.3 270.2,1092.3 269.4,1092.2 268.5,1092.2 267.7,1092.1 266.8,1092.0 266.0,1091.9 265.2,1091.8 264.5,1091.6 263.7,1091.5 263.0,1091.3 262.4,1091.1 261.7,1091.0 261.1,1090.8 260.6,1090.5 260.1,1090.3 259.6,1090.1 259.2,1089.8 258.8,1089.6 258.5,1089.3" stroke="#000" stroke-width="0.9" fill="none" stroke-linejoin="round" stroke-linecap="round"/>
<polyline points="285.5,1091.2 285.2,1091.5 284.8,1091.7 284.4,1092.0 283.9,1092.2 283.4,1092.4 282.9,1092.7 282.3,1092.9 281.6,1093.0 281.0,1093.2 280.3,1093.4 279.5,1093.5 278.8,1093.7 278.0,1093.8 277.2,1093.9 276.3,1094.0 275.5,1094.1 274.6,1094.1 273.8,1094.2 272.9,1094.2 272.0,1094.2 271.1,1094.2 270.2,1094.2 269.4,1094.1 268.5,1094.1 267.7,1094.0 266.8,1093.9 266.0,1093.8 265.2,1093.7 264.5,1093.5 263.7,1093.4 263.0,1093.2 262.4,1093.0 261.7,1092.9 261.1,1092.7 260.6,1092.4 260.1,1092.2 259.6,1092.0 259.2,1091.7 258.8,1091.5 258.5,1091.2" stroke="#000" stroke-width="0.9" fill="none" stroke-linejoin="round" stroke-linecap="round"/>
<polyline points="284.4,1093.1 284.1,1093.4 283.8,1093.6 283.4,1093.9 282.9,1094.1 282.5,1094.3 282.0,1094.6 281.4,1094.8 280.8,1094.9 280.2,1095.1 279.6,1095.3 278.9,1095.4 278.2,1095.6 277.5,1095.7 276.7,1095.8 276.0,1095.9 275.2,1096.0 274.4,1096.0 273.6,1096.1 272.8,1096.1 272.0,1096.1 271.2,1096.1 270.4,1096.1 269.6,1096.0 268.8,1096.0 268.0,1095.9 267.3,1095.8 266.5,1095.7 265.8,1095.6 265.1,1095.4 264.4,1095.3 263.8,1095.1 263.2,1094.9 262.6,1094.8 262.0,1094.6 261.5,1094.3 261.1,1094.1 260.6,1093.9 260.2,1093.6 259.9,1093.4 259.6,1093.1" stroke="#000" stroke-width="0.9" fill="none" stroke-linejoin="round" stroke-linecap="round"/>
<polyline points="283.3,1095.0 283.0,1095.3 282.7,1095.5 282.3,1095.8 281.9,1096.0 281.5,1096.2 281.1,1096.5 280.6,1096.7 280.0,1096.8 279.5,1097.0 278.9,1097.2 278.3,1097.3 277.6,1097.5 277.0,1097.6 276.3,1097.7 275.6,1097.8 274.9,1097.9 274.2,1097.9 273.5,1098.0 272.7,1098.0 272.0,1098.0 271.3,1098.0 270.5,1098.0 269.8,1097.9 269.1,1097.9 268.4,1097.8 267.7,1097.7 267.0,1097.6 266.4,1097.5 265.7,1097.3 265.1,1097.2 264.5,1097.0 264.0,1096.8 263.4,1096.7 262.9,1096.5 262.5,1096.2 262.1,1096.0 261.7,1095.8 261.3,1095.5 261.0,1095.3 260.7,1095.0" stroke="#000" stroke-width="0.9" fill="none" stroke-linejoin="round" stroke-linecap="round"/>
<path d="M72.38,1132.13 L72.38,1143.98" stroke="#000" stroke-width="1.75" fill="none" stroke-linecap="round" stroke-linejoin="round"/>
<path d="M81.02,1142.62 C81.86,1143.47 82.88,1143.98 84.15,1143.98 C86.85,1143.98 88.62,1141.18 88.62,1137.03 C88.62,1133.99 86.77,1132.13 84.40,1132.13 C82.03,1132.13 80.17,1133.82 80.17,1136.02 C80.17,1138.22 82.03,1139.74 84.32,1139.74 C86.17,1139.74 87.78,1138.64 88.46,1136.95" stroke="#000" stroke-width="1.75" fill="none" stroke-linecap="round" stroke-linejoin="round"/>
<line x1="94.0" y1="1139.3" x2="255.8" y2="1192.1" stroke="#000" stroke-width="1.3"/>
<ellipse cx="271.7" cy="1166.6" rx="14.2" ry="6.0" stroke="#000" stroke-width="1.5" fill="none"/>
<line x1="257.5" y1="1166.6" x2="257.5" y2="1209.0" stroke="#000" stroke-width="1.6"/>
<line x1="285.9" y1="1166.6" x2="285.9" y2="1209.0" stroke="#000" stroke-width="1.6"/>
<polyline points="285.7,1169.2 285.5,1169.5 285.2,1169.7 284.9,1170.0 284.5,1170.3 284.0,1170.5 283.5,1170.7 282.9,1171.0 282.3,1171.2 281.6,1171.4 280.8,1171.6 280.0,1171.7 279.2,1171.9 278.4,1172.0 277.5,1172.2 276.6,1172.3 275.6,1172.3 274.7,1172.4 273.7,1172.5 272.7,1172.5 271.7,1172.5 270.7,1172.5 269.7,1172.5 268.7,1172.4 267.8,1172.3 266.8,1172.3 265.9,1172.2 265.0,1172.0 264.2,1171.9 263.4,1171.7 262.6,1171.6 261.8,1171.4 261.1,1171.2 260.5,1171.0 259.9,1170.7 259.4,1170.5 258.9,1170.3 258.5,1170.0 258.2,1169.7 257.9,1169.5 257.7,1169.2" stroke="#000" stroke-width="1.0" fill="none" stroke-linejoin="round" stroke-linecap="round"/>
<polyline points="285.7,1172.4 285.5,1172.7 285.2,1172.9 284.9,1173.2 284.5,1173.5 284.0,1173.7 283.5,1173.9 282.9,1174.2 282.3,1174.4 281.6,1174.6 280.8,1174.8 280.0,1174.9 279.2,1175.1 278.4,1175.2 277.5,1175.4 276.6,1175.5 275.6,1175.5 274.7,1175.6 273.7,1175.7 272.7,1175.7 271.7,1175.7 270.7,1175.7 269.7,1175.7 268.7,1175.6 267.8,1175.5 266.8,1175.5 265.9,1175.4 265.0,1175.2 264.2,1175.1 263.4,1174.9 262.6,1174.8 261.8,1174.6 261.1,1174.4 260.5,1174.2 259.9,1173.9 259.4,1173.7 258.9,1173.5 258.5,1173.2 258.2,1172.9 257.9,1172.7 257.7,1172.4" stroke="#000" stroke-width="1.0" fill="none" stroke-linejoin="round" stroke-linecap="round"/>
<polyline points="285.7,1175.6 285.5,1175.9 285.2,1176.1 284.9,1176.4 284.5,1176.7 284.0,1176.9 283.5,1177.1 282.9,1177.4 282.3,1177.6 281.6,1177.8 280.8,1178.0 280.0,1178.1 279.2,1178.3 278.4,1178.4 277.5,1178.6 276.6,1178.7 275.6,1178.7 274.7,1178.8 273.7,1178.9 272.7,1178.9 271.7,1178.9 270.7,1178.9 269.7,1178.9 268.7,1178.8 267.8,1178.7 266.8,1178.7 265.9,1178.6 265.0,1178.4 264.2,1178.3 263.4,1178.1 262.6,1178.0 261.8,1177.8 261.1,1177.6 260.5,1177.4 259.9,1177.1 259.4,1176.9 258.9,1176.7 258.5,1176.4 258.2,1176.1 257.9,1175.9 257.7,1175.6" stroke="#000" stroke-width="1.0" fill="none" stroke-linejoin="round" stroke-linecap="round"/>
<polyline points="285.7,1178.8 285.5,1179.1 285.2,1179.3 284.9,1179.6 284.5,1179.9 284.0,1180.1 283.5,1180.3 282.9,1180.6 282.3,1180.8 281.6,1181.0 280.8,1181.2 280.0,1181.3 279.2,1181.5 278.4,1181.6 277.5,1181.8 276.6,1181.9 275.6,1181.9 274.7,1182.0 273.7,1182.1 272.7,1182.1 271.7,1182.1 270.7,1182.1 269.7,1182.1 268.7,1182.0 267.8,1181.9 266.8,1181.9 265.9,1181.8 265.0,1181.6 264.2,1181.5 263.4,1181.3 262.6,1181.2 261.8,1181.0 261.1,1180.8 260.5,1180.6 259.9,1180.3 259.4,1180.1 258.9,1179.9 258.5,1179.6 258.2,1179.3 257.9,1179.1 257.7,1178.8" stroke="#000" stroke-width="1.0" fill="none" stroke-linejoin="round" stroke-linecap="round"/>
<polyline points="285.7,1182.0 285.5,1182.3 285.2,1182.5 284.9,1182.8 284.5,1183.1 284.0,1183.3 283.5,1183.5 282.9,1183.8 282.3,1184.0 281.6,1184.2 280.8,1184.4 280.0,1184.5 279.2,1184.7 278.4,1184.8 277.5,1185.0 276.6,1185.1 275.6,1185.1 274.7,1185.2 273.7,1185.3 272.7,1185.3 271.7,1185.3 270.7,1185.3 269.7,1185.3 268.7,1185.2 267.8,1185.1 266.8,1185.1 265.9,1185.0 265.0,1184.8 264.2,1184.7 263.4,1184.5 262.6,1184.4 261.8,1184.2 261.1,1184.0 260.5,1183.8 259.9,1183.5 259.4,1183.3 258.9,1183.1 258.5,1182.8 258.2,1182.5 257.9,1182.3 257.7,1182.0" stroke="#000" stroke-width="1.0" fill="none" stroke-linejoin="round" stroke-linecap="round"/>
<polyline points="285.7,1185.2 285.5,1185.5 285.2,1185.7 284.9,1186.0 284.5,1186.3 284.0,1186.5 283.5,1186.7 282.9,1187.0 282.3,1187.2 281.6,1187.4 280.8,1187.6 280.0,1187.7 279.2,1187.9 278.4,1188.0 277.5,1188.2 276.6,1188.3 275.6,1188.3 274.7,1188.4 273.7,1188.5 272.7,1188.5 271.7,1188.5 270.7,1188.5 269.7,1188.5 268.7,1188.4 267.8,1188.3 266.8,1188.3 265.9,1188.2 265.0,1188.0 264.2,1187.9 263.4,1187.7 262.6,1187.6 261.8,1187.4 261.1,1187.2 260.5,1187.0 259.9,1186.7 259.4,1186.5 258.9,1186.3 258.5,1186.0 258.2,1185.7 257.9,1185.5 257.7,1185.2" stroke="#000" stroke-width="1.0" fill="none" stroke-linejoin="round" stroke-linecap="round"/>
<polyline points="285.7,1188.4 285.5,1188.7 285.2,1188.9 284.9,1189.2 284.5,1189.5 284.0,1189.7 283.5,1189.9 282.9,1190.2 282.3,1190.4 281.6,1190.6 280.8,1190.8 280.0,1190.9 279.2,1191.1 278.4,1191.2 277.5,1191.4 276.6,1191.5 275.6,1191.5 274.7,1191.6 273.7,1191.7 272.7,1191.7 271.7,1191.7 270.7,1191.7 269.7,1191.7 268.7,1191.6 267.8,1191.5 266.8,1191.5 265.9,1191.4 265.0,1191.2 264.2,1191.1 263.4,1190.9 262.6,1190.8 261.8,1190.6 261.1,1190.4 260.5,1190.2 259.9,1189.9 259.4,1189.7 258.9,1189.5 258.5,1189.2 258.2,1188.9 257.9,1188.7 257.7,1188.4" stroke="#000" stroke-width="1.0" fill="none" stroke-linejoin="round" stroke-linecap="round"/>
<polyline points="285.7,1191.6 285.5,1191.9 285.2,1192.1 284.9,1192.4 284.5,1192.7 284.0,1192.9 283.5,1193.1 282.9,1193.4 282.3,1193.6 281.6,1193.8 280.8,1194.0 280.0,1194.1 279.2,1194.3 278.4,1194.4 277.5,1194.6 276.6,1194.7 275.6,1194.7 274.7,1194.8 273.7,1194.9 272.7,1194.9 271.7,1194.9 270.7,1194.9 269.7,1194.9 268.7,1194.8 267.8,1194.7 266.8,1194.7 265.9,1194.6 265.0,1194.4 264.2,1194.3 263.4,1194.1 262.6,1194.0 261.8,1193.8 261.1,1193.6 260.5,1193.4 259.9,1193.1 259.4,1192.9 258.9,1192.7 258.5,1192.4 258.2,1192.1 257.9,1191.9 257.7,1191.6" stroke="#000" stroke-width="1.0" fill="none" stroke-linejoin="round" stroke-linecap="round"/>
<polyline points="285.7,1194.8 285.5,1195.1 285.2,1195.3 284.9,1195.6 284.5,1195.9 284.0,1196.1 283.5,1196.3 282.9,1196.6 282.3,1196.8 281.6,1197.0 280.8,1197.2 280.0,1197.3 279.2,1197.5 278.4,1197.6 277.5,1197.8 276.6,1197.9 275.6,1197.9 274.7,1198.0 273.7,1198.1 272.7,1198.1 271.7,1198.1 270.7,1198.1 269.7,1198.1 268.7,1198.0 267.8,1197.9 266.8,1197.9 265.9,1197.8 265.0,1197.6 264.2,1197.5 263.4,1197.3 262.6,1197.2 261.8,1197.0 261.1,1196.8 260.5,1196.6 259.9,1196.3 259.4,1196.1 258.9,1195.9 258.5,1195.6 258.2,1195.3 257.9,1195.1 257.7,1194.8" stroke="#000" stroke-width="1.0" fill="none" stroke-linejoin="round" stroke-linecap="round"/>
<polyline points="285.7,1198.0 285.5,1198.3 285.2,1198.5 284.9,1198.8 284.5,1199.1 284.0,1199.3 283.5,1199.5 282.9,1199.8 282.3,1200.0 281.6,1200.2 280.8,1200.4 280.0,1200.5 279.2,1200.7 278.4,1200.8 277.5,1201.0 276.6,1201.1 275.6,1201.1 274.7,1201.2 273.7,1201.3 272.7,1201.3 271.7,1201.3 270.7,1201.3 269.7,1201.3 268.7,1201.2 267.8,1201.1 266.8,1201.1 265.9,1201.0 265.0,1200.8 264.2,1200.7 263.4,1200.5 262.6,1200.4 261.8,1200.2 261.1,1200.0 260.5,1199.8 259.9,1199.5 259.4,1199.3 258.9,1199.1 258.5,1198.8 258.2,1198.5 257.9,1198.3 257.7,1198.0" stroke="#000" stroke-width="1.0" fill="none" stroke-linejoin="round" stroke-linecap="round"/>
<polyline points="285.7,1201.2 285.5,1201.5 285.2,1201.7 284.9,1202.0 284.5,1202.3 284.0,1202.5 283.5,1202.7 282.9,1203.0 282.3,1203.2 281.6,1203.4 280.8,1203.6 280.0,1203.7 279.2,1203.9 278.4,1204.0 277.5,1204.2 276.6,1204.3 275.6,1204.3 274.7,1204.4 273.7,1204.5 272.7,1204.5 271.7,1204.5 270.7,1204.5 269.7,1204.5 268.7,1204.4 267.8,1204.3 266.8,1204.3 265.9,1204.2 265.0,1204.0 264.2,1203.9 263.4,1203.7 262.6,1203.6 261.8,1203.4 261.1,1203.2 260.5,1203.0 259.9,1202.7 259.4,1202.5 258.9,1202.3 258.5,1202.0 258.2,1201.7 257.9,1201.5 257.7,1201.2" stroke="#000" stroke-width="1.0" fill="none" stroke-linejoin="round" stroke-linecap="round"/>
<polyline points="285.7,1204.4 285.5,1204.7 285.2,1204.9 284.9,1205.2 284.5,1205.5 284.0,1205.7 283.5,1205.9 282.9,1206.2 282.3,1206.4 281.6,1206.6 280.8,1206.8 280.0,1206.9 279.2,1207.1 278.4,1207.2 277.5,1207.4 276.6,1207.5 275.6,1207.5 274.7,1207.6 273.7,1207.7 272.7,1207.7 271.7,1207.7 270.7,1207.7 269.7,1207.7 268.7,1207.6 267.8,1207.5 266.8,1207.5 265.9,1207.4 265.0,1207.2 264.2,1207.1 263.4,1206.9 262.6,1206.8 261.8,1206.6 261.1,1206.4 260.5,1206.2 259.9,1205.9 259.4,1205.7 258.9,1205.5 258.5,1205.2 258.2,1204.9 257.9,1204.7 257.7,1204.4" stroke="#000" stroke-width="1.0" fill="none" stroke-linejoin="round" stroke-linecap="round"/>
<polyline points="285.7,1207.6 285.5,1207.9 285.2,1208.1 284.9,1208.4 284.5,1208.7 284.0,1208.9 283.5,1209.1 282.9,1209.4 282.3,1209.6 281.6,1209.8 280.8,1210.0 280.0,1210.1 279.2,1210.3 278.4,1210.4 277.5,1210.6 276.6,1210.7 275.6,1210.7 274.7,1210.8 273.7,1210.9 272.7,1210.9 271.7,1210.9 270.7,1210.9 269.7,1210.9 268.7,1210.8 267.8,1210.7 266.8,1210.7 265.9,1210.6 265.0,1210.4 264.2,1210.3 263.4,1210.1 262.6,1210.0 261.8,1209.8 261.1,1209.6 260.5,1209.4 259.9,1209.1 259.4,1208.9 258.9,1208.7 258.5,1208.4 258.2,1208.1 257.9,1207.9 257.7,1207.6" stroke="#000" stroke-width="1.0" fill="none" stroke-linejoin="round" stroke-linecap="round"/>
<polyline points="285.9,1209.0 285.9,1209.4 285.7,1209.8 285.5,1210.2 285.2,1210.5 284.8,1210.9 284.4,1211.3 283.8,1211.6 283.2,1211.9 282.5,1212.2 281.7,1212.5 280.9,1212.8 280.0,1213.0 279.1,1213.3 278.1,1213.5 277.1,1213.6 276.1,1213.8 275.0,1213.9 273.9,1213.9 272.8,1214.0 271.7,1214.0 270.6,1214.0 269.5,1213.9 268.4,1213.9 267.3,1213.8 266.3,1213.6 265.3,1213.5 264.3,1213.3 263.4,1213.0 262.5,1212.8 261.7,1212.5 260.9,1212.2 260.2,1211.9 259.6,1211.6 259.0,1211.3 258.6,1210.9 258.2,1210.5 257.9,1210.2 257.7,1209.8 257.5,1209.4 257.5,1209.0" stroke="#000" stroke-width="1.3" fill="none" stroke-linejoin="round" stroke-linecap="round"/>
<polyline points="248.9,1214.6 248.9,1214.4 248.9,1214.2 249.0,1214.0 249.0,1213.8 249.0,1213.6 249.1,1213.4 249.2,1213.2 249.3,1213.0 249.4,1212.9 249.5,1212.7 249.6,1212.5 249.7,1212.3 249.9,1212.1 250.0,1211.9 250.2,1211.7 250.4,1211.5 250.6,1211.4 250.8,1211.2 251.0,1211.0 251.2,1210.8 251.4,1210.7 251.7,1210.5 251.9,1210.3 252.2,1210.1 252.5,1210.0 252.8,1209.8 253.0,1209.7 253.3,1209.5 253.7,1209.3 254.0,1209.2 254.3,1209.0 254.7,1208.9 255.0,1208.7 255.4,1208.6 255.7,1208.5 256.1,1208.3 256.5,1208.2 256.9,1208.1 257.3,1207.9 257.7,1207.8" stroke="#000" stroke-width="1.5" fill="none" stroke-linejoin="round" stroke-linecap="round"/>
<polyline points="285.7,1207.8 286.1,1207.9 286.5,1208.1 286.9,1208.2 287.3,1208.3 287.7,1208.5 288.0,1208.6 288.4,1208.7 288.7,1208.9 289.1,1209.0 289.4,1209.2 289.7,1209.3 290.1,1209.5 290.4,1209.7 290.6,1209.8 290.9,1210.0 291.2,1210.1 291.5,1210.3 291.7,1210.5 292.0,1210.7 292.2,1210.8 292.4,1211.0 292.6,1211.2 292.8,1211.4 293.0,1211.5 293.2,1211.7 293.4,1211.9 293.5,1212.1 293.7,1212.3 293.8,1212.5 293.9,1212.7 294.0,1212.9 294.1,1213.0 294.2,1213.2 294.3,1213.4 294.4,1213.6 294.4,1213.8 294.4,1214.0 294.5,1214.2 294.5,1214.4 294.5,1214.6" stroke="#000" stroke-width="1.5" fill="none" stroke-linejoin="round" stroke-linecap="round"/>
<polyline points="294.5,1214.6 294.4,1215.3 294.2,1215.9 293.9,1216.6 293.4,1217.3 292.8,1217.9 292.0,1218.5 291.1,1219.1 290.1,1219.7 289.0,1220.2 287.8,1220.7 286.5,1221.1 285.1,1221.6 283.6,1221.9 282.1,1222.3 280.4,1222.5 278.7,1222.8 277.0,1223.0 275.3,1223.1 273.5,1223.2 271.7,1223.2 269.9,1223.2 268.1,1223.1 266.4,1223.0 264.7,1222.8 263.0,1222.5 261.3,1222.3 259.8,1221.9 258.3,1221.6 256.9,1221.1 255.6,1220.7 254.4,1220.2 253.3,1219.7 252.3,1219.1 251.4,1218.5 250.6,1217.9 250.0,1217.3 249.5,1216.6 249.2,1215.9 249.0,1215.3 248.9,1214.6" stroke="#000" stroke-width="1.0" fill="none" stroke-linejoin="round" stroke-linecap="round"/>
<line x1="249.1" y1="1214.6" x2="249.1" y2="1228.0" stroke="#000" stroke-width="1.6"/>
<line x1="294.6" y1="1214.6" x2="294.6" y2="1228.0" stroke="#000" stroke-width="1.6"/>
<polyline points="249.1,1228.0 258.1,1234.7 284.0,1234.7 294.6,1228.0" stroke="#000" stroke-width="1.6" fill="none" stroke-linejoin="round" stroke-linecap="round"/>
<line x1="258.1" y1="1223.0" x2="258.1" y2="1234.7" stroke="#000" stroke-width="1.1"/>
<line x1="284.0" y1="1223.0" x2="284.0" y2="1234.7" stroke="#000" stroke-width="1.1"/>
<polyline points="293.1,1218.9 292.6,1219.4 292.0,1219.9 291.3,1220.4 290.6,1220.8 289.8,1221.2 288.9,1221.6 288.0,1222.0 287.0,1222.4 285.9,1222.7 284.8,1223.0 283.6,1223.3 282.4,1223.6 281.2,1223.8 279.9,1224.0 278.6,1224.2 277.2,1224.3 275.9,1224.5 274.5,1224.5 273.1,1224.6 271.7,1224.6 270.3,1224.6 268.9,1224.5 267.5,1224.5 266.2,1224.3 264.8,1224.2 263.5,1224.0 262.2,1223.8 261.0,1223.6 259.8,1223.3 258.6,1223.0 257.5,1222.7 256.4,1222.4 255.4,1222.0 254.5,1221.6 253.6,1221.2 252.8,1220.8 252.1,1220.4 251.4,1219.9 250.8,1219.4 250.3,1218.9" stroke="#000" stroke-width="0.9" fill="none" stroke-linejoin="round" stroke-linecap="round"/>
<path d="M778.85,147.41 C778.85,145.41 780.66,143.97 783.10,143.97 C785.63,143.97 787.26,145.50 787.26,147.69 C787.26,149.89 785.27,151.22 783.28,152.65 L778.58,157.32 L787.62,157.32" stroke="#000" stroke-width="1.75" fill="none" stroke-linecap="round" stroke-linejoin="round"/>
<path d="M800.32,145.50 C799.42,144.55 798.33,143.97 796.97,143.97 C794.08,143.97 792.18,147.12 792.18,151.79 C792.18,155.23 794.17,157.32 796.70,157.32 C799.23,157.32 801.23,155.42 801.23,152.94 C801.23,150.46 799.23,148.74 796.79,148.74 C794.80,148.74 793.08,149.98 792.36,151.89" stroke="#000" stroke-width="1.75" fill="none" stroke-linecap="round" stroke-linejoin="round"/>
<line x1="664.3" y1="145.6" x2="774.7" y2="151.0" stroke="#000" stroke-width="1.3"/>
<path d="M614.4,110 C614.4,101 626,95.2 639.5,95.2 C653,95.2 664.3,100 664.3,109" stroke="#000" stroke-width="1.7" fill="none" stroke-linejoin="round" stroke-linecap="round"/>
<path d="M614.4,110 Q617.5,120 626,124.2 Q640,120 654.9,122.4 Q661.5,118 664.3,109" stroke="#000" stroke-width="1.2" fill="none" stroke-linejoin="round" stroke-linecap="round"/>
<ellipse cx="640.0" cy="108.7" rx="17.4" ry="10.2" stroke="#000" stroke-width="1.5" fill="none"/>
<polyline points="626.5,109.2 626.8,108.7 627.1,108.3 627.5,107.9 627.9,107.5 628.4,107.1 629.0,106.7 629.6,106.4 630.2,106.1 630.9,105.7 631.7,105.4 632.4,105.2 633.2,104.9 634.1,104.7 635.0,104.5 635.8,104.4 636.7,104.2 637.7,104.1 638.6,104.1 639.6,104.0 640.5,104.0 641.4,104.0 642.4,104.1 643.3,104.1 644.3,104.2 645.2,104.4 646.0,104.5 646.9,104.7 647.8,104.9 648.6,105.2 649.3,105.4 650.1,105.7 650.8,106.1 651.4,106.4 652.0,106.7 652.6,107.1 653.1,107.5 653.5,107.9 653.9,108.3 654.2,108.7 654.5,109.2" stroke="#000" stroke-width="0.9" fill="none" stroke-linejoin="round" stroke-linecap="round"/>
<polyline points="627.6,111.2 627.8,110.8 628.1,110.5 628.5,110.1 628.9,109.7 629.4,109.3 629.9,109.0 630.4,108.7 631.0,108.4 631.7,108.1 632.3,107.8 633.1,107.6 633.8,107.4 634.6,107.2 635.4,107.0 636.2,106.8 637.0,106.7 637.9,106.6 638.8,106.6 639.6,106.5 640.5,106.5 641.4,106.5 642.2,106.6 643.1,106.6 644.0,106.7 644.8,106.8 645.6,107.0 646.4,107.2 647.2,107.4 647.9,107.6 648.7,107.8 649.3,108.1 650.0,108.4 650.6,108.7 651.1,109.0 651.6,109.3 652.1,109.7 652.5,110.1 652.9,110.5 653.2,110.8 653.4,111.2" stroke="#000" stroke-width="0.9" fill="none" stroke-linejoin="round" stroke-linecap="round"/>
<polyline points="628.6,113.3 628.9,112.9 629.1,112.6 629.5,112.2 629.8,111.9 630.3,111.6 630.7,111.3 631.3,111.0 631.8,110.7 632.4,110.4 633.0,110.2 633.7,110.0 634.4,109.8 635.1,109.6 635.8,109.4 636.5,109.3 637.3,109.2 638.1,109.1 638.9,109.0 639.7,109.0 640.5,109.0 641.3,109.0 642.1,109.0 642.9,109.1 643.7,109.2 644.5,109.3 645.2,109.4 645.9,109.6 646.6,109.8 647.3,110.0 648.0,110.2 648.6,110.4 649.2,110.7 649.7,111.0 650.3,111.3 650.7,111.6 651.2,111.9 651.5,112.2 651.9,112.6 652.1,112.9 652.4,113.3" stroke="#000" stroke-width="0.9" fill="none" stroke-linejoin="round" stroke-linecap="round"/>
<polyline points="629.7,115.4 629.9,115.0 630.2,114.7 630.5,114.4 630.8,114.1 631.2,113.8 631.6,113.5 632.1,113.3 632.6,113.0 633.1,112.8 633.7,112.6 634.3,112.4 634.9,112.2 635.5,112.0 636.2,111.9 636.9,111.8 637.6,111.7 638.3,111.6 639.0,111.5 639.8,111.5 640.5,111.5 641.2,111.5 642.0,111.5 642.7,111.6 643.4,111.7 644.1,111.8 644.8,111.9 645.5,112.0 646.1,112.2 646.7,112.4 647.3,112.6 647.9,112.8 648.4,113.0 648.9,113.3 649.4,113.5 649.8,113.8 650.2,114.1 650.5,114.4 650.8,114.7 651.1,115.0 651.3,115.4" stroke="#000" stroke-width="0.9" fill="none" stroke-linejoin="round" stroke-linecap="round"/>
<polyline points="630.7,117.4 630.9,117.1 631.2,116.8 631.4,116.6 631.8,116.3 632.1,116.0 632.5,115.8 632.9,115.6 633.4,115.3 633.8,115.1 634.4,115.0 634.9,114.8 635.5,114.6 636.0,114.5 636.6,114.4 637.3,114.2 637.9,114.2 638.5,114.1 639.2,114.0 639.8,114.0 640.5,114.0 641.2,114.0 641.8,114.0 642.5,114.1 643.1,114.2 643.7,114.2 644.4,114.4 645.0,114.5 645.5,114.6 646.1,114.8 646.6,115.0 647.2,115.1 647.6,115.3 648.1,115.6 648.5,115.8 648.9,116.0 649.2,116.3 649.6,116.6 649.8,116.8 650.1,117.1 650.3,117.4" stroke="#000" stroke-width="0.9" fill="none" stroke-linejoin="round" stroke-linecap="round"/>
<line x1="614.4" y1="110.0" x2="614.4" y2="181.0" stroke="#000" stroke-width="1.7"/>
<line x1="664.3" y1="109.0" x2="664.3" y2="181.0" stroke="#000" stroke-width="1.7"/>
<line x1="626.0" y1="124.2" x2="626.0" y2="190.0" stroke="#000" stroke-width="1.0"/>
<line x1="654.9" y1="122.4" x2="654.9" y2="189.5" stroke="#000" stroke-width="1.0"/>
<path d="M614.4,181.0 C615.7,182.3 617.7,187.0 622.0,189.0 C626.3,191.0 634.3,192.7 640.0,192.9 C645.7,193.1 652.0,192.0 656.0,190.0 C660.0,188.0 662.9,182.5 664.3,181.0" stroke="#000" stroke-width="1.7" fill="none" stroke-linejoin="round" stroke-linecap="round"/>
<path d="M781.13,267.42 C781.13,265.64 782.84,264.38 785.15,264.38 C787.54,264.38 789.08,265.73 789.08,267.68 C789.08,269.62 787.20,270.81 785.32,272.08 L780.88,276.23 L789.42,276.23" stroke="#000" stroke-width="1.75" fill="none" stroke-linecap="round" stroke-linejoin="round"/>
<path d="M802.01,264.38 L795.34,264.38 L794.66,269.96 C795.69,269.12 796.88,268.78 798.25,268.78 C800.73,268.78 802.52,270.47 802.52,272.50 C802.52,274.70 800.64,276.23 798.25,276.23 C796.37,276.23 794.83,275.38 793.98,274.19" stroke="#000" stroke-width="1.75" fill="none" stroke-linecap="round" stroke-linejoin="round"/>
<line x1="706.5" y1="278.6" x2="777.0" y2="272.6" stroke="#000" stroke-width="1.3"/>
<path d="M572.0,270.0 C573.0,267.9 573.8,261.5 578.0,257.5 C582.2,253.5 594.1,247.9 597.3,246.0" stroke="#000" stroke-width="1.5" fill="none" stroke-linejoin="round" stroke-linecap="round"/>
<path d="M682.0,246.0 C684.8,247.7 695.0,252.0 699.0,256.0 C703.0,260.0 705.1,267.7 706.3,270.0" stroke="#000" stroke-width="1.5" fill="none" stroke-linejoin="round" stroke-linecap="round"/>
<line x1="572.0" y1="270.0" x2="572.0" y2="297.7" stroke="#000" stroke-width="1.6"/>
<line x1="706.3" y1="270.0" x2="706.3" y2="292.4" stroke="#000" stroke-width="1.6"/>
<path d="M572.0,297.7 C574.0,299.9 579.3,307.5 584.0,311.0 C588.7,314.5 590.7,316.2 600.0,318.6 C609.3,321.0 626.7,325.7 640.0,325.6 C653.3,325.5 670.5,321.3 680.0,318.0 C689.5,314.7 692.6,310.3 697.0,306.0 C701.4,301.7 704.8,294.7 706.3,292.4" stroke="#000" stroke-width="1.7" fill="none" stroke-linejoin="round" stroke-linecap="round"/>
<path d="M588.5,295.0 C592.1,296.1 601.4,299.9 610.0,301.5 C618.6,303.1 629.7,305.1 640.0,304.7 C650.3,304.3 662.1,302.2 672.0,299.0 C681.9,295.8 694.8,287.8 699.3,285.5" stroke="#000" stroke-width="1.0" fill="none" stroke-linejoin="round" stroke-linecap="round"/>
<path d="M591.2,264.5 C591.8,263.8 593.5,261.1 594.5,260.0 C595.5,258.9 596.8,258.3 597.3,258.0" stroke="#000" stroke-width="1.0" fill="none" stroke-linejoin="round" stroke-linecap="round"/>
<path d="M685.4,262.8 C686.1,263.4 689.0,265.7 689.7,266.3" stroke="#000" stroke-width="1.0" fill="none" stroke-linejoin="round" stroke-linecap="round"/>
<path d="M597.3,233 C597.3,219 615,208.5 640,208.5 C665,208.5 682,219 682,232" stroke="#000" stroke-width="1.6" fill="none" stroke-linejoin="round" stroke-linecap="round"/>
<ellipse cx="639.5" cy="231.4" rx="37.0" ry="19.2" stroke="#000" stroke-width="1.0" fill="none"/>
<path d="M597.3,233 Q604,246 616.5,254.5 Q640,249.5 661.8,254.5 Q675,246 682,232" stroke="#000" stroke-width="1.2" fill="none" stroke-linejoin="round" stroke-linecap="round"/>
<line x1="597.3" y1="233.0" x2="597.3" y2="260.2" stroke="#000" stroke-width="1.5"/>
<line x1="616.5" y1="254.5" x2="616.5" y2="275.0" stroke="#000" stroke-width="1.5"/>
<line x1="661.8" y1="254.5" x2="661.8" y2="275.0" stroke="#000" stroke-width="1.5"/>
<line x1="682.0" y1="232.0" x2="682.0" y2="260.2" stroke="#000" stroke-width="1.5"/>
<path d="M597.3,260.2 Q604,270 616.5,275 L661.8,275 Q675,270 682,260.2" stroke="#000" stroke-width="1.5" fill="none" stroke-linejoin="round" stroke-linecap="round"/>
<ellipse cx="640.4" cy="229.7" rx="17.0" ry="9.6" stroke="#000" stroke-width="1.5" fill="none"/>
<polyline points="627.3,230.3 627.5,229.9 627.9,229.5 628.2,229.1 628.7,228.8 629.2,228.4 629.7,228.0 630.3,227.7 630.9,227.4 631.6,227.1 632.3,226.8 633.0,226.6 633.8,226.4 634.6,226.2 635.4,226.0 636.3,225.8 637.2,225.7 638.1,225.6 639.0,225.6 639.9,225.5 640.8,225.5 641.7,225.5 642.6,225.6 643.5,225.6 644.4,225.7 645.3,225.8 646.2,226.0 647.0,226.2 647.8,226.4 648.6,226.6 649.3,226.8 650.0,227.1 650.7,227.4 651.3,227.7 651.9,228.0 652.4,228.4 652.9,228.8 653.4,229.1 653.7,229.5 654.1,229.9 654.3,230.3" stroke="#000" stroke-width="0.9" fill="none" stroke-linejoin="round" stroke-linecap="round"/>
<polyline points="628.3,232.2 628.6,231.8 628.9,231.4 629.2,231.1 629.6,230.8 630.1,230.4 630.6,230.1 631.1,229.8 631.7,229.5 632.3,229.3 632.9,229.0 633.6,228.8 634.3,228.6 635.1,228.4 635.9,228.2 636.7,228.1 637.5,228.0 638.3,227.9 639.1,227.9 640.0,227.8 640.8,227.8 641.6,227.8 642.5,227.9 643.3,227.9 644.1,228.0 644.9,228.1 645.7,228.2 646.5,228.4 647.2,228.6 648.0,228.8 648.7,229.0 649.3,229.3 649.9,229.5 650.5,229.8 651.0,230.1 651.5,230.4 652.0,230.8 652.4,231.1 652.7,231.4 653.0,231.8 653.3,232.2" stroke="#000" stroke-width="0.9" fill="none" stroke-linejoin="round" stroke-linecap="round"/>
<polyline points="629.4,234.0 629.6,233.7 629.9,233.4 630.2,233.1 630.6,232.8 631.0,232.5 631.4,232.2 631.9,231.9 632.5,231.7 633.0,231.4 633.6,231.2 634.2,231.0 634.9,230.8 635.6,230.6 636.3,230.5 637.0,230.4 637.7,230.3 638.5,230.2 639.3,230.1 640.0,230.1 640.8,230.1 641.6,230.1 642.3,230.1 643.1,230.2 643.9,230.3 644.6,230.4 645.3,230.5 646.0,230.6 646.7,230.8 647.4,231.0 648.0,231.2 648.6,231.4 649.1,231.7 649.7,231.9 650.2,232.2 650.6,232.5 651.0,232.8 651.4,233.1 651.7,233.4 652.0,233.7 652.2,234.0" stroke="#000" stroke-width="0.9" fill="none" stroke-linejoin="round" stroke-linecap="round"/>
<polyline points="630.5,235.9 630.7,235.6 630.9,235.3 631.2,235.0 631.5,234.8 631.9,234.5 632.3,234.2 632.8,234.0 633.2,233.8 633.7,233.6 634.3,233.4 634.9,233.2 635.4,233.0 636.1,232.9 636.7,232.8 637.4,232.6 638.0,232.6 638.7,232.5 639.4,232.4 640.1,232.4 640.8,232.4 641.5,232.4 642.2,232.4 642.9,232.5 643.6,232.6 644.2,232.6 644.9,232.8 645.5,232.9 646.1,233.0 646.7,233.2 647.3,233.4 647.9,233.6 648.4,233.8 648.8,234.0 649.3,234.2 649.7,234.5 650.1,234.8 650.4,235.0 650.7,235.3 650.9,235.6 651.1,235.9" stroke="#000" stroke-width="0.9" fill="none" stroke-linejoin="round" stroke-linecap="round"/>
<polyline points="631.5,237.7 631.7,237.5 631.9,237.2 632.2,237.0 632.5,236.8 632.8,236.5 633.2,236.3 633.6,236.1 634.0,235.9 634.5,235.7 635.0,235.5 635.5,235.4 636.0,235.2 636.6,235.1 637.1,235.0 637.7,234.9 638.3,234.8 638.9,234.8 639.5,234.7 640.2,234.7 640.8,234.7 641.4,234.7 642.1,234.7 642.7,234.8 643.3,234.8 643.9,234.9 644.5,235.0 645.0,235.1 645.6,235.2 646.1,235.4 646.6,235.5 647.1,235.7 647.6,235.9 648.0,236.1 648.4,236.3 648.8,236.5 649.1,236.8 649.4,237.0 649.7,237.2 649.9,237.5 650.1,237.7" stroke="#000" stroke-width="0.9" fill="none" stroke-linejoin="round" stroke-linecap="round"/>
<path d="M780.05,413.12 C780.05,411.34 781.90,410.07 784.40,410.07 C786.99,410.07 788.65,411.43 788.65,413.38 C788.65,415.32 786.62,416.51 784.59,417.78 L779.77,421.93 L789.02,421.93" stroke="#000" stroke-width="1.75" fill="none" stroke-linecap="round" stroke-linejoin="round"/>
<path d="M802.83,418.54 L793.58,418.54 L800.51,410.07 L800.51,421.93" stroke="#000" stroke-width="1.75" fill="none" stroke-linecap="round" stroke-linejoin="round"/>
<line x1="662.2" y1="431.3" x2="778.0" y2="417.3" stroke="#000" stroke-width="1.3"/>
<ellipse cx="638.8" cy="346.6" rx="17.6" ry="10.3" stroke="#000" stroke-width="1.8" fill="none"/>
<line x1="621.2" y1="346.6" x2="621.2" y2="392.0" stroke="#000" stroke-width="1.9"/>
<line x1="656.4" y1="346.6" x2="656.4" y2="392.0" stroke="#000" stroke-width="1.9"/>
<polyline points="656.2,351.0 656.1,351.3 656.0,351.5 655.8,351.8 655.6,352.1 655.4,352.3 655.1,352.6 654.9,352.9 654.6,353.1 654.2,353.4 653.9,353.6 653.5,353.8 653.1,354.1 652.7,354.3 652.2,354.5 651.8,354.7 651.3,354.9 650.8,355.1 650.3,355.3 649.7,355.5 649.1,355.7 648.6,355.8 648.0,356.0 647.4,356.1 646.7,356.2 646.1,356.4 645.4,356.5 644.8,356.6 644.1,356.7 643.4,356.8 642.8,356.8 642.1,356.9 641.4,356.9 640.7,357.0 640.0,357.0 639.3,357.0 638.6,357.0 637.8,357.0 637.1,357.0 636.4,356.9 635.7,356.9" stroke="#000" stroke-width="1.2" fill="none" stroke-linejoin="round" stroke-linecap="round"/>
<polyline points="626.4,354.9 626.2,354.9 626.0,354.8 625.9,354.8 625.7,354.7 625.6,354.6 625.4,354.5 625.3,354.5 625.1,354.4 625.0,354.3 624.8,354.3 624.7,354.2 624.6,354.1 624.4,354.0 624.3,354.0 624.2,353.9 624.0,353.8 623.9,353.7 623.8,353.7 623.7,353.6 623.6,353.5 623.4,353.4 623.3,353.3 623.2,353.3 623.1,353.2 623.0,353.1 622.9,353.0 622.8,352.9 622.7,352.8 622.6,352.8 622.5,352.7 622.5,352.6 622.4,352.5 622.3,352.4 622.2,352.3 622.1,352.3 622.1,352.2 622.0,352.1 621.9,352.0 621.9,351.9 621.8,351.8" stroke="#000" stroke-width="1.0" fill="none" stroke-linejoin="round" stroke-linecap="round"/>
<polyline points="656.2,355.0 656.1,355.3 656.0,355.6 655.8,355.8 655.6,356.1 655.4,356.4 655.1,356.6 654.9,356.9 654.6,357.2 654.2,357.4 653.9,357.7 653.5,357.9 653.1,358.1 652.7,358.3 652.2,358.6 651.8,358.8 651.3,359.0 650.8,359.2 650.3,359.4 649.7,359.5 649.1,359.7 648.6,359.9 648.0,360.0 647.4,360.2 646.7,360.3 646.1,360.4 645.4,360.5 644.8,360.6 644.1,360.7 643.4,360.8 642.8,360.9 642.1,360.9 641.4,361.0 640.7,361.0 640.0,361.0 639.3,361.0 638.6,361.0 637.8,361.0 637.1,361.0 636.4,361.0 635.7,360.9" stroke="#000" stroke-width="1.2" fill="none" stroke-linejoin="round" stroke-linecap="round"/>
<polyline points="626.4,359.0 626.2,358.9 626.0,358.9 625.9,358.8 625.7,358.7 625.6,358.7 625.4,358.6 625.3,358.5 625.1,358.5 625.0,358.4 624.8,358.3 624.7,358.2 624.6,358.2 624.4,358.1 624.3,358.0 624.2,357.9 624.0,357.9 623.9,357.8 623.8,357.7 623.7,357.6 623.6,357.6 623.4,357.5 623.3,357.4 623.2,357.3 623.1,357.2 623.0,357.1 622.9,357.1 622.8,357.0 622.7,356.9 622.6,356.8 622.5,356.7 622.5,356.6 622.4,356.6 622.3,356.5 622.2,356.4 622.1,356.3 622.1,356.2 622.0,356.1 621.9,356.0 621.9,356.0 621.8,355.9" stroke="#000" stroke-width="1.0" fill="none" stroke-linejoin="round" stroke-linecap="round"/>
<polyline points="656.2,359.1 656.1,359.4 656.0,359.6 655.8,359.9 655.6,360.2 655.4,360.4 655.1,360.7 654.9,361.0 654.6,361.2 654.2,361.5 653.9,361.7 653.5,361.9 653.1,362.2 652.7,362.4 652.2,362.6 651.8,362.8 651.3,363.0 650.8,363.2 650.3,363.4 649.7,363.6 649.1,363.8 648.6,363.9 648.0,364.1 647.4,364.2 646.7,364.3 646.1,364.5 645.4,364.6 644.8,364.7 644.1,364.8 643.4,364.9 642.8,364.9 642.1,365.0 641.4,365.0 640.7,365.1 640.0,365.1 639.3,365.1 638.6,365.1 637.8,365.1 637.1,365.1 636.4,365.0 635.7,365.0" stroke="#000" stroke-width="1.2" fill="none" stroke-linejoin="round" stroke-linecap="round"/>
<polyline points="626.4,363.0 626.2,363.0 626.0,362.9 625.9,362.9 625.7,362.8 625.6,362.7 625.4,362.6 625.3,362.6 625.1,362.5 625.0,362.4 624.8,362.4 624.7,362.3 624.6,362.2 624.4,362.1 624.3,362.1 624.2,362.0 624.0,361.9 623.9,361.8 623.8,361.8 623.7,361.7 623.6,361.6 623.4,361.5 623.3,361.4 623.2,361.4 623.1,361.3 623.0,361.2 622.9,361.1 622.8,361.0 622.7,360.9 622.6,360.9 622.5,360.8 622.5,360.7 622.4,360.6 622.3,360.5 622.2,360.4 622.1,360.4 622.1,360.3 622.0,360.2 621.9,360.1 621.9,360.0 621.8,359.9" stroke="#000" stroke-width="1.0" fill="none" stroke-linejoin="round" stroke-linecap="round"/>
<polyline points="656.2,363.1 656.1,363.4 656.0,363.7 655.8,363.9 655.6,364.2 655.4,364.5 655.1,364.7 654.9,365.0 654.6,365.3 654.2,365.5 653.9,365.8 653.5,366.0 653.1,366.2 652.7,366.4 652.2,366.7 651.8,366.9 651.3,367.1 650.8,367.3 650.3,367.5 649.7,367.6 649.1,367.8 648.6,368.0 648.0,368.1 647.4,368.3 646.7,368.4 646.1,368.5 645.4,368.6 644.8,368.7 644.1,368.8 643.4,368.9 642.8,369.0 642.1,369.0 641.4,369.1 640.7,369.1 640.0,369.1 639.3,369.1 638.6,369.1 637.8,369.1 637.1,369.1 636.4,369.1 635.7,369.0" stroke="#000" stroke-width="1.2" fill="none" stroke-linejoin="round" stroke-linecap="round"/>
<polyline points="626.4,367.1 626.2,367.0 626.0,367.0 625.9,366.9 625.7,366.8 625.6,366.8 625.4,366.7 625.3,366.6 625.1,366.6 625.0,366.5 624.8,366.4 624.7,366.3 624.6,366.3 624.4,366.2 624.3,366.1 624.2,366.0 624.0,366.0 623.9,365.9 623.8,365.8 623.7,365.7 623.6,365.6 623.4,365.6 623.3,365.5 623.2,365.4 623.1,365.3 623.0,365.2 622.9,365.2 622.8,365.1 622.7,365.0 622.6,364.9 622.5,364.8 622.5,364.7 622.4,364.7 622.3,364.6 622.2,364.5 622.1,364.4 622.1,364.3 622.0,364.2 621.9,364.1 621.9,364.1 621.8,364.0" stroke="#000" stroke-width="1.0" fill="none" stroke-linejoin="round" stroke-linecap="round"/>
<polyline points="656.2,367.2 656.1,367.5 656.0,367.7 655.8,368.0 655.6,368.3 655.4,368.5 655.1,368.8 654.9,369.1 654.6,369.3 654.2,369.6 653.9,369.8 653.5,370.0 653.1,370.3 652.7,370.5 652.2,370.7 651.8,370.9 651.3,371.1 650.8,371.3 650.3,371.5 649.7,371.7 649.1,371.9 648.6,372.0 648.0,372.2 647.4,372.3 646.7,372.4 646.1,372.6 645.4,372.7 644.8,372.8 644.1,372.9 643.4,373.0 642.8,373.0 642.1,373.1 641.4,373.1 640.7,373.2 640.0,373.2 639.3,373.2 638.6,373.2 637.8,373.2 637.1,373.2 636.4,373.1 635.7,373.1" stroke="#000" stroke-width="1.2" fill="none" stroke-linejoin="round" stroke-linecap="round"/>
<polyline points="626.4,371.1 626.2,371.1 626.0,371.0 625.9,371.0 625.7,370.9 625.6,370.8 625.4,370.7 625.3,370.7 625.1,370.6 625.0,370.5 624.8,370.5 624.7,370.4 624.6,370.3 624.4,370.2 624.3,370.2 624.2,370.1 624.0,370.0 623.9,369.9 623.8,369.9 623.7,369.8 623.6,369.7 623.4,369.6 623.3,369.5 623.2,369.5 623.1,369.4 623.0,369.3 622.9,369.2 622.8,369.1 622.7,369.0 622.6,369.0 622.5,368.9 622.5,368.8 622.4,368.7 622.3,368.6 622.2,368.5 622.1,368.5 622.1,368.4 622.0,368.3 621.9,368.2 621.9,368.1 621.8,368.0" stroke="#000" stroke-width="1.0" fill="none" stroke-linejoin="round" stroke-linecap="round"/>
<polyline points="656.2,371.2 656.1,371.5 656.0,371.8 655.8,372.0 655.6,372.3 655.4,372.6 655.1,372.8 654.9,373.1 654.6,373.4 654.2,373.6 653.9,373.9 653.5,374.1 653.1,374.3 652.7,374.5 652.2,374.8 651.8,375.0 651.3,375.2 650.8,375.4 650.3,375.6 649.7,375.7 649.1,375.9 648.6,376.1 648.0,376.2 647.4,376.4 646.7,376.5 646.1,376.6 645.4,376.7 644.8,376.8 644.1,376.9 643.4,377.0 642.8,377.1 642.1,377.1 641.4,377.2 640.7,377.2 640.0,377.2 639.3,377.2 638.6,377.2 637.8,377.2 637.1,377.2 636.4,377.2 635.7,377.1" stroke="#000" stroke-width="1.2" fill="none" stroke-linejoin="round" stroke-linecap="round"/>
<polyline points="626.4,375.2 626.2,375.1 626.0,375.1 625.9,375.0 625.7,374.9 625.6,374.9 625.4,374.8 625.3,374.7 625.1,374.7 625.0,374.6 624.8,374.5 624.7,374.4 624.6,374.4 624.4,374.3 624.3,374.2 624.2,374.1 624.0,374.1 623.9,374.0 623.8,373.9 623.7,373.8 623.6,373.8 623.4,373.7 623.3,373.6 623.2,373.5 623.1,373.4 623.0,373.3 622.9,373.3 622.8,373.2 622.7,373.1 622.6,373.0 622.5,372.9 622.5,372.8 622.4,372.8 622.3,372.7 622.2,372.6 622.1,372.5 622.1,372.4 622.0,372.3 621.9,372.2 621.9,372.2 621.8,372.1" stroke="#000" stroke-width="1.0" fill="none" stroke-linejoin="round" stroke-linecap="round"/>
<polyline points="656.2,375.3 656.1,375.6 656.0,375.8 655.8,376.1 655.6,376.4 655.4,376.6 655.1,376.9 654.9,377.2 654.6,377.4 654.2,377.7 653.9,377.9 653.5,378.1 653.1,378.4 652.7,378.6 652.2,378.8 651.8,379.0 651.3,379.2 650.8,379.4 650.3,379.6 649.7,379.8 649.1,380.0 648.6,380.1 648.0,380.3 647.4,380.4 646.7,380.5 646.1,380.7 645.4,380.8 644.8,380.9 644.1,381.0 643.4,381.1 642.8,381.1 642.1,381.2 641.4,381.2 640.7,381.3 640.0,381.3 639.3,381.3 638.6,381.3 637.8,381.3 637.1,381.3 636.4,381.2 635.7,381.2" stroke="#000" stroke-width="1.2" fill="none" stroke-linejoin="round" stroke-linecap="round"/>
<polyline points="626.4,379.2 626.2,379.2 626.0,379.1 625.9,379.1 625.7,379.0 625.6,378.9 625.4,378.8 625.3,378.8 625.1,378.7 625.0,378.6 624.8,378.6 624.7,378.5 624.6,378.4 624.4,378.3 624.3,378.3 624.2,378.2 624.0,378.1 623.9,378.0 623.8,378.0 623.7,377.9 623.6,377.8 623.4,377.7 623.3,377.6 623.2,377.6 623.1,377.5 623.0,377.4 622.9,377.3 622.8,377.2 622.7,377.1 622.6,377.1 622.5,377.0 622.5,376.9 622.4,376.8 622.3,376.7 622.2,376.6 622.1,376.6 622.1,376.5 622.0,376.4 621.9,376.3 621.9,376.2 621.8,376.1" stroke="#000" stroke-width="1.0" fill="none" stroke-linejoin="round" stroke-linecap="round"/>
<polyline points="656.2,379.3 656.1,379.6 656.0,379.9 655.8,380.1 655.6,380.4 655.4,380.7 655.1,380.9 654.9,381.2 654.6,381.5 654.2,381.7 653.9,382.0 653.5,382.2 653.1,382.4 652.7,382.6 652.2,382.9 651.8,383.1 651.3,383.3 650.8,383.5 650.3,383.7 649.7,383.8 649.1,384.0 648.6,384.2 648.0,384.3 647.4,384.5 646.7,384.6 646.1,384.7 645.4,384.8 644.8,384.9 644.1,385.0 643.4,385.1 642.8,385.2 642.1,385.2 641.4,385.3 640.7,385.3 640.0,385.3 639.3,385.3 638.6,385.3 637.8,385.3 637.1,385.3 636.4,385.3 635.7,385.2" stroke="#000" stroke-width="1.2" fill="none" stroke-linejoin="round" stroke-linecap="round"/>
<polyline points="626.4,383.3 626.2,383.2 626.0,383.2 625.9,383.1 625.7,383.0 625.6,383.0 625.4,382.9 625.3,382.8 625.1,382.8 625.0,382.7 624.8,382.6 624.7,382.5 624.6,382.5 624.4,382.4 624.3,382.3 624.2,382.2 624.0,382.2 623.9,382.1 623.8,382.0 623.7,381.9 623.6,381.9 623.4,381.8 623.3,381.7 623.2,381.6 623.1,381.5 623.0,381.4 622.9,381.4 622.8,381.3 622.7,381.2 622.6,381.1 622.5,381.0 622.5,380.9 622.4,380.9 622.3,380.8 622.2,380.7 622.1,380.6 622.1,380.5 622.0,380.4 621.9,380.3 621.9,380.3 621.8,380.2" stroke="#000" stroke-width="1.0" fill="none" stroke-linejoin="round" stroke-linecap="round"/>
<polyline points="656.2,383.4 656.1,383.7 656.0,383.9 655.8,384.2 655.6,384.5 655.4,384.7 655.1,385.0 654.9,385.3 654.6,385.5 654.2,385.8 653.9,386.0 653.5,386.2 653.1,386.5 652.7,386.7 652.2,386.9 651.8,387.1 651.3,387.3 650.8,387.5 650.3,387.7 649.7,387.9 649.1,388.1 648.6,388.2 648.0,388.4 647.4,388.5 646.7,388.6 646.1,388.8 645.4,388.9 644.8,389.0 644.1,389.1 643.4,389.2 642.8,389.2 642.1,389.3 641.4,389.3 640.7,389.4 640.0,389.4 639.3,389.4 638.6,389.4 637.8,389.4 637.1,389.4 636.4,389.3 635.7,389.3" stroke="#000" stroke-width="1.2" fill="none" stroke-linejoin="round" stroke-linecap="round"/>
<polyline points="626.4,387.3 626.2,387.3 626.0,387.2 625.9,387.2 625.7,387.1 625.6,387.0 625.4,386.9 625.3,386.9 625.1,386.8 625.0,386.7 624.8,386.7 624.7,386.6 624.6,386.5 624.4,386.4 624.3,386.4 624.2,386.3 624.0,386.2 623.9,386.1 623.8,386.1 623.7,386.0 623.6,385.9 623.4,385.8 623.3,385.7 623.2,385.7 623.1,385.6 623.0,385.5 622.9,385.4 622.8,385.3 622.7,385.2 622.6,385.2 622.5,385.1 622.5,385.0 622.4,384.9 622.3,384.8 622.2,384.7 622.1,384.7 622.1,384.6 622.0,384.5 621.9,384.4 621.9,384.3 621.8,384.2" stroke="#000" stroke-width="1.0" fill="none" stroke-linejoin="round" stroke-linecap="round"/>
<path d="M617.5,398 C617.5,393 627,390.5 639,390.5 C651,390.5 661,393 661,398" stroke="#000" stroke-width="1.6" fill="none" stroke-linejoin="round" stroke-linecap="round"/>
<polyline points="660.2,397.7 659.9,398.0 659.4,398.2 658.9,398.5 658.3,398.8 657.6,399.0 656.8,399.2 655.9,399.5 654.9,399.7 653.9,399.9 652.7,400.1 651.6,400.2 650.3,400.4 649.0,400.5 647.6,400.7 646.2,400.8 644.8,400.8 643.3,400.9 641.8,401.0 640.3,401.0 638.8,401.0 637.3,401.0 635.8,401.0 634.3,400.9 632.8,400.8 631.4,400.8 630.0,400.7 628.6,400.5 627.3,400.4 626.0,400.2 624.9,400.1 623.7,399.9 622.7,399.7 621.7,399.5 620.8,399.2 620.0,399.0 619.3,398.8 618.7,398.5 618.2,398.2 617.7,398.0 617.4,397.7" stroke="#000" stroke-width="1.1" fill="none" stroke-linejoin="round" stroke-linecap="round"/>
<line x1="617.5" y1="398.0" x2="617.5" y2="426.0" stroke="#000" stroke-width="1.7"/>
<line x1="661.0" y1="398.0" x2="661.0" y2="471.0" stroke="#000" stroke-width="1.7"/>
<path d="M617.5,406.5 L643.9,408.5 L661,404" stroke="#000" stroke-width="1.2" fill="none" stroke-linejoin="round" stroke-linecap="round"/>
<line x1="643.9" y1="408.5" x2="643.9" y2="417.0" stroke="#000" stroke-width="1.1"/>
<path d="M643.9,417 L661,413" stroke="#000" stroke-width="1.0" fill="none" stroke-linejoin="round" stroke-linecap="round"/>
<ellipse cx="623.5" cy="416.5" rx="3.8" ry="4.8" stroke="#000" stroke-width="1.3" fill="none"/>
<path d="M617.5,426 C619,431 624,432.5 630,431.5 C634,431 637,433 639,436" stroke="#000" stroke-width="1.5" fill="none" stroke-linejoin="round" stroke-linecap="round"/>
<path d="M621,425 C630,427 645,426 661,421" stroke="#000" stroke-width="1.1" fill="none" stroke-linejoin="round" stroke-linecap="round"/>
<path d="M629,431.5 C622,431 616.4,434 616.4,440 L616.4,468" stroke="#000" stroke-width="1.7" fill="none" stroke-linejoin="round" stroke-linecap="round"/>
<path d="M629,431.5 C636,432 640,438 641,446 L642,456 C643,462 648,463 661,461" stroke="#000" stroke-width="1.3" fill="none" stroke-linejoin="round" stroke-linecap="round"/>
<path d="M636,433.5 C640,434 644,437 645,444 L646,453 C647,457 650,458 661,456" stroke="#000" stroke-width="1.0" fill="none" stroke-linejoin="round" stroke-linecap="round"/>
<ellipse cx="625.4" cy="443.5" rx="4.6" ry="6.2" stroke="#000" stroke-width="1.3" fill="none"/>
<ellipse cx="653.4" cy="445.4" rx="5.0" ry="6.2" stroke="#000" stroke-width="1.3" fill="none"/>
<path d="M616.4,461 C625,466 640,468 661,466" stroke="#000" stroke-width="1.2" fill="none" stroke-linejoin="round" stroke-linecap="round"/>
<path d="M616.4,468 L617.3,479 L632.7,487.4 L656,485.7 L662,480.5 L662,470" stroke="#000" stroke-width="1.6" fill="none" stroke-linejoin="round" stroke-linecap="round"/>
<line x1="632.7" y1="477.7" x2="632.7" y2="487.4" stroke="#000" stroke-width="1.1"/>
<path d="M617.3,471 L632.7,477.7 L656,476 L662,471" stroke="#000" stroke-width="1.0" fill="none" stroke-linejoin="round" stroke-linecap="round"/>
<ellipse cx="654.7" cy="474.9" rx="3.8" ry="4.8" stroke="#000" stroke-width="1.2" fill="none"/>
<line x1="621.5" y1="487.0" x2="621.5" y2="524.4" stroke="#000" stroke-width="1.9"/>
<line x1="656.0" y1="487.0" x2="656.0" y2="524.4" stroke="#000" stroke-width="1.9"/>
<polyline points="656.1,524.4 656.0,524.9 655.9,525.5 655.6,526.0 655.3,526.6 654.8,527.1 654.2,527.6 653.6,528.1 652.8,528.5 652.0,528.9 651.0,529.3 650.0,529.7 649.0,530.1 647.8,530.4 646.7,530.6 645.4,530.9 644.1,531.1 642.8,531.2 641.5,531.3 640.2,531.4 638.8,531.4 637.4,531.4 636.1,531.3 634.8,531.2 633.5,531.1 632.2,530.9 630.9,530.6 629.8,530.4 628.6,530.1 627.6,529.7 626.6,529.3 625.6,528.9 624.8,528.5 624.0,528.1 623.4,527.6 622.8,527.1 622.3,526.6 622.0,526.0 621.7,525.5 621.6,524.9 621.5,524.4" stroke="#000" stroke-width="1.8" fill="none" stroke-linejoin="round" stroke-linecap="round"/>
<polyline points="655.9,488.4 655.8,488.7 655.7,488.9 655.5,489.2 655.3,489.5 655.1,489.7 654.9,490.0 654.6,490.3 654.3,490.5 654.0,490.8 653.6,491.0 653.3,491.2 652.9,491.5 652.5,491.7 652.0,491.9 651.6,492.1 651.1,492.3 650.6,492.5 650.1,492.7 649.5,492.9 649.0,493.1 648.4,493.2 647.8,493.4 647.2,493.5 646.6,493.6 646.0,493.8 645.3,493.9 644.7,494.0 644.0,494.1 643.4,494.2 642.7,494.2 642.0,494.3 641.3,494.3 640.6,494.4 639.9,494.4 639.3,494.4 638.6,494.4 637.9,494.4 637.2,494.4 636.5,494.3 635.8,494.3" stroke="#000" stroke-width="1.2" fill="none" stroke-linejoin="round" stroke-linecap="round"/>
<polyline points="626.6,492.3 626.4,492.3 626.3,492.2 626.1,492.2 625.9,492.1 625.8,492.0 625.6,491.9 625.5,491.9 625.4,491.8 625.2,491.7 625.1,491.7 624.9,491.6 624.8,491.5 624.7,491.4 624.5,491.4 624.4,491.3 624.3,491.2 624.2,491.1 624.0,491.1 623.9,491.0 623.8,490.9 623.7,490.8 623.6,490.7 623.5,490.7 623.4,490.6 623.3,490.5 623.2,490.4 623.1,490.3 623.0,490.2 622.9,490.2 622.8,490.1 622.7,490.0 622.6,489.9 622.6,489.8 622.5,489.7 622.4,489.7 622.3,489.6 622.3,489.5 622.2,489.4 622.1,489.3 622.1,489.2" stroke="#000" stroke-width="1.0" fill="none" stroke-linejoin="round" stroke-linecap="round"/>
<polyline points="655.9,492.4 655.8,492.7 655.7,493.0 655.5,493.2 655.3,493.5 655.1,493.8 654.9,494.0 654.6,494.3 654.3,494.6 654.0,494.8 653.6,495.1 653.3,495.3 652.9,495.5 652.5,495.7 652.0,496.0 651.6,496.2 651.1,496.4 650.6,496.6 650.1,496.8 649.5,496.9 649.0,497.1 648.4,497.3 647.8,497.4 647.2,497.6 646.6,497.7 646.0,497.8 645.3,497.9 644.7,498.0 644.0,498.1 643.4,498.2 642.7,498.3 642.0,498.3 641.3,498.4 640.6,498.4 639.9,498.4 639.3,498.4 638.6,498.4 637.9,498.4 637.2,498.4 636.5,498.4 635.8,498.3" stroke="#000" stroke-width="1.2" fill="none" stroke-linejoin="round" stroke-linecap="round"/>
<polyline points="626.6,496.4 626.4,496.3 626.3,496.3 626.1,496.2 625.9,496.1 625.8,496.1 625.6,496.0 625.5,495.9 625.4,495.9 625.2,495.8 625.1,495.7 624.9,495.6 624.8,495.6 624.7,495.5 624.5,495.4 624.4,495.3 624.3,495.3 624.2,495.2 624.0,495.1 623.9,495.0 623.8,494.9 623.7,494.9 623.6,494.8 623.5,494.7 623.4,494.6 623.3,494.5 623.2,494.5 623.1,494.4 623.0,494.3 622.9,494.2 622.8,494.1 622.7,494.0 622.6,494.0 622.6,493.9 622.5,493.8 622.4,493.7 622.3,493.6 622.3,493.5 622.2,493.4 622.1,493.4 622.1,493.3" stroke="#000" stroke-width="1.0" fill="none" stroke-linejoin="round" stroke-linecap="round"/>
<polyline points="655.9,496.5 655.8,496.8 655.7,497.0 655.5,497.3 655.3,497.6 655.1,497.8 654.9,498.1 654.6,498.4 654.3,498.6 654.0,498.9 653.6,499.1 653.3,499.3 652.9,499.6 652.5,499.8 652.0,500.0 651.6,500.2 651.1,500.4 650.6,500.6 650.1,500.8 649.5,501.0 649.0,501.2 648.4,501.3 647.8,501.5 647.2,501.6 646.6,501.7 646.0,501.9 645.3,502.0 644.7,502.1 644.0,502.2 643.4,502.3 642.7,502.3 642.0,502.4 641.3,502.4 640.6,502.5 639.9,502.5 639.3,502.5 638.6,502.5 637.9,502.5 637.2,502.5 636.5,502.4 635.8,502.4" stroke="#000" stroke-width="1.2" fill="none" stroke-linejoin="round" stroke-linecap="round"/>
<polyline points="626.6,500.4 626.4,500.4 626.3,500.3 626.1,500.3 625.9,500.2 625.8,500.1 625.6,500.0 625.5,500.0 625.4,499.9 625.2,499.8 625.1,499.8 624.9,499.7 624.8,499.6 624.7,499.5 624.5,499.5 624.4,499.4 624.3,499.3 624.2,499.2 624.0,499.2 623.9,499.1 623.8,499.0 623.7,498.9 623.6,498.8 623.5,498.8 623.4,498.7 623.3,498.6 623.2,498.5 623.1,498.4 623.0,498.3 622.9,498.3 622.8,498.2 622.7,498.1 622.6,498.0 622.6,497.9 622.5,497.8 622.4,497.8 622.3,497.7 622.3,497.6 622.2,497.5 622.1,497.4 622.1,497.3" stroke="#000" stroke-width="1.0" fill="none" stroke-linejoin="round" stroke-linecap="round"/>
<polyline points="655.9,500.5 655.8,500.8 655.7,501.1 655.5,501.3 655.3,501.6 655.1,501.9 654.9,502.1 654.6,502.4 654.3,502.7 654.0,502.9 653.6,503.2 653.3,503.4 652.9,503.6 652.5,503.8 652.0,504.1 651.6,504.3 651.1,504.5 650.6,504.7 650.1,504.9 649.5,505.0 649.0,505.2 648.4,505.4 647.8,505.5 647.2,505.7 646.6,505.8 646.0,505.9 645.3,506.0 644.7,506.1 644.0,506.2 643.4,506.3 642.7,506.4 642.0,506.4 641.3,506.5 640.6,506.5 639.9,506.5 639.3,506.5 638.6,506.5 637.9,506.5 637.2,506.5 636.5,506.5 635.8,506.4" stroke="#000" stroke-width="1.2" fill="none" stroke-linejoin="round" stroke-linecap="round"/>
<polyline points="626.6,504.5 626.4,504.4 626.3,504.4 626.1,504.3 625.9,504.2 625.8,504.2 625.6,504.1 625.5,504.0 625.4,504.0 625.2,503.9 625.1,503.8 624.9,503.7 624.8,503.7 624.7,503.6 624.5,503.5 624.4,503.4 624.3,503.4 624.2,503.3 624.0,503.2 623.9,503.1 623.8,503.0 623.7,503.0 623.6,502.9 623.5,502.8 623.4,502.7 623.3,502.6 623.2,502.6 623.1,502.5 623.0,502.4 622.9,502.3 622.8,502.2 622.7,502.1 622.6,502.1 622.6,502.0 622.5,501.9 622.4,501.8 622.3,501.7 622.3,501.6 622.2,501.5 622.1,501.5 622.1,501.4" stroke="#000" stroke-width="1.0" fill="none" stroke-linejoin="round" stroke-linecap="round"/>
<polyline points="655.9,504.6 655.8,504.9 655.7,505.1 655.5,505.4 655.3,505.7 655.1,505.9 654.9,506.2 654.6,506.5 654.3,506.7 654.0,507.0 653.6,507.2 653.3,507.4 652.9,507.7 652.5,507.9 652.0,508.1 651.6,508.3 651.1,508.5 650.6,508.7 650.1,508.9 649.5,509.1 649.0,509.3 648.4,509.4 647.8,509.6 647.2,509.7 646.6,509.8 646.0,510.0 645.3,510.1 644.7,510.2 644.0,510.3 643.4,510.4 642.7,510.4 642.0,510.5 641.3,510.5 640.6,510.6 639.9,510.6 639.3,510.6 638.6,510.6 637.9,510.6 637.2,510.6 636.5,510.5 635.8,510.5" stroke="#000" stroke-width="1.2" fill="none" stroke-linejoin="round" stroke-linecap="round"/>
<polyline points="626.6,508.5 626.4,508.5 626.3,508.4 626.1,508.4 625.9,508.3 625.8,508.2 625.6,508.1 625.5,508.1 625.4,508.0 625.2,507.9 625.1,507.9 624.9,507.8 624.8,507.7 624.7,507.6 624.5,507.6 624.4,507.5 624.3,507.4 624.2,507.3 624.0,507.3 623.9,507.2 623.8,507.1 623.7,507.0 623.6,506.9 623.5,506.9 623.4,506.8 623.3,506.7 623.2,506.6 623.1,506.5 623.0,506.4 622.9,506.4 622.8,506.3 622.7,506.2 622.6,506.1 622.6,506.0 622.5,505.9 622.4,505.9 622.3,505.8 622.3,505.7 622.2,505.6 622.1,505.5 622.1,505.4" stroke="#000" stroke-width="1.0" fill="none" stroke-linejoin="round" stroke-linecap="round"/>
<polyline points="655.9,508.6 655.8,508.9 655.7,509.2 655.5,509.4 655.3,509.7 655.1,510.0 654.9,510.2 654.6,510.5 654.3,510.8 654.0,511.0 653.6,511.3 653.3,511.5 652.9,511.7 652.5,511.9 652.0,512.2 651.6,512.4 651.1,512.6 650.6,512.8 650.1,513.0 649.5,513.1 649.0,513.3 648.4,513.5 647.8,513.6 647.2,513.8 646.6,513.9 646.0,514.0 645.3,514.1 644.7,514.2 644.0,514.3 643.4,514.4 642.7,514.5 642.0,514.5 641.3,514.6 640.6,514.6 639.9,514.6 639.3,514.6 638.6,514.6 637.9,514.6 637.2,514.6 636.5,514.6 635.8,514.5" stroke="#000" stroke-width="1.2" fill="none" stroke-linejoin="round" stroke-linecap="round"/>
<polyline points="626.6,512.6 626.4,512.5 626.3,512.5 626.1,512.4 625.9,512.3 625.8,512.3 625.6,512.2 625.5,512.1 625.4,512.1 625.2,512.0 625.1,511.9 624.9,511.8 624.8,511.8 624.7,511.7 624.5,511.6 624.4,511.5 624.3,511.5 624.2,511.4 624.0,511.3 623.9,511.2 623.8,511.1 623.7,511.1 623.6,511.0 623.5,510.9 623.4,510.8 623.3,510.7 623.2,510.7 623.1,510.6 623.0,510.5 622.9,510.4 622.8,510.3 622.7,510.2 622.6,510.2 622.6,510.1 622.5,510.0 622.4,509.9 622.3,509.8 622.3,509.7 622.2,509.6 622.1,509.6 622.1,509.5" stroke="#000" stroke-width="1.0" fill="none" stroke-linejoin="round" stroke-linecap="round"/>
<polyline points="655.9,512.7 655.8,513.0 655.7,513.2 655.5,513.5 655.3,513.8 655.1,514.0 654.9,514.3 654.6,514.6 654.3,514.8 654.0,515.1 653.6,515.3 653.3,515.5 652.9,515.8 652.5,516.0 652.0,516.2 651.6,516.4 651.1,516.6 650.6,516.8 650.1,517.0 649.5,517.2 649.0,517.4 648.4,517.5 647.8,517.7 647.2,517.8 646.6,517.9 646.0,518.1 645.3,518.2 644.7,518.3 644.0,518.4 643.4,518.5 642.7,518.5 642.0,518.6 641.3,518.6 640.6,518.7 639.9,518.7 639.3,518.7 638.6,518.7 637.9,518.7 637.2,518.7 636.5,518.6 635.8,518.6" stroke="#000" stroke-width="1.2" fill="none" stroke-linejoin="round" stroke-linecap="round"/>
<polyline points="626.6,516.6 626.4,516.6 626.3,516.5 626.1,516.5 625.9,516.4 625.8,516.3 625.6,516.2 625.5,516.2 625.4,516.1 625.2,516.0 625.1,516.0 624.9,515.9 624.8,515.8 624.7,515.7 624.5,515.7 624.4,515.6 624.3,515.5 624.2,515.4 624.0,515.4 623.9,515.3 623.8,515.2 623.7,515.1 623.6,515.0 623.5,515.0 623.4,514.9 623.3,514.8 623.2,514.7 623.1,514.6 623.0,514.5 622.9,514.5 622.8,514.4 622.7,514.3 622.6,514.2 622.6,514.1 622.5,514.0 622.4,514.0 622.3,513.9 622.3,513.8 622.2,513.7 622.1,513.6 622.1,513.5" stroke="#000" stroke-width="1.0" fill="none" stroke-linejoin="round" stroke-linecap="round"/>
<polyline points="655.9,516.7 655.8,517.0 655.7,517.3 655.5,517.5 655.3,517.8 655.1,518.1 654.9,518.3 654.6,518.6 654.3,518.9 654.0,519.1 653.6,519.4 653.3,519.6 652.9,519.8 652.5,520.0 652.0,520.3 651.6,520.5 651.1,520.7 650.6,520.9 650.1,521.1 649.5,521.2 649.0,521.4 648.4,521.6 647.8,521.7 647.2,521.9 646.6,522.0 646.0,522.1 645.3,522.2 644.7,522.3 644.0,522.4 643.4,522.5 642.7,522.6 642.0,522.6 641.3,522.7 640.6,522.7 639.9,522.7 639.3,522.7 638.6,522.7 637.9,522.7 637.2,522.7 636.5,522.7 635.8,522.6" stroke="#000" stroke-width="1.2" fill="none" stroke-linejoin="round" stroke-linecap="round"/>
<polyline points="626.6,520.7 626.4,520.6 626.3,520.6 626.1,520.5 625.9,520.4 625.8,520.4 625.6,520.3 625.5,520.2 625.4,520.2 625.2,520.1 625.1,520.0 624.9,519.9 624.8,519.9 624.7,519.8 624.5,519.7 624.4,519.6 624.3,519.6 624.2,519.5 624.0,519.4 623.9,519.3 623.8,519.2 623.7,519.2 623.6,519.1 623.5,519.0 623.4,518.9 623.3,518.8 623.2,518.8 623.1,518.7 623.0,518.6 622.9,518.5 622.8,518.4 622.7,518.3 622.6,518.3 622.6,518.2 622.5,518.1 622.4,518.0 622.3,517.9 622.3,517.8 622.2,517.7 622.1,517.7 622.1,517.6" stroke="#000" stroke-width="1.0" fill="none" stroke-linejoin="round" stroke-linecap="round"/>
<polyline points="655.9,520.8 655.8,521.1 655.7,521.3 655.5,521.6 655.3,521.9 655.1,522.1 654.9,522.4 654.6,522.7 654.3,522.9 654.0,523.2 653.6,523.4 653.3,523.6 652.9,523.9 652.5,524.1 652.0,524.3 651.6,524.5 651.1,524.7 650.6,524.9 650.1,525.1 649.5,525.3 649.0,525.5 648.4,525.6 647.8,525.8 647.2,525.9 646.6,526.0 646.0,526.2 645.3,526.3 644.7,526.4 644.0,526.5 643.4,526.6 642.7,526.6 642.0,526.7 641.3,526.7 640.6,526.8 639.9,526.8 639.3,526.8 638.6,526.8 637.9,526.8 637.2,526.8 636.5,526.7 635.8,526.7" stroke="#000" stroke-width="1.2" fill="none" stroke-linejoin="round" stroke-linecap="round"/>
<polyline points="626.6,524.7 626.4,524.7 626.3,524.6 626.1,524.6 625.9,524.5 625.8,524.4 625.6,524.3 625.5,524.3 625.4,524.2 625.2,524.1 625.1,524.1 624.9,524.0 624.8,523.9 624.7,523.8 624.5,523.8 624.4,523.7 624.3,523.6 624.2,523.5 624.0,523.5 623.9,523.4 623.8,523.3 623.7,523.2 623.6,523.1 623.5,523.1 623.4,523.0 623.3,522.9 623.2,522.8 623.1,522.7 623.0,522.6 622.9,522.6 622.8,522.5 622.7,522.4 622.6,522.3 622.6,522.2 622.5,522.1 622.4,522.1 622.3,522.0 622.3,521.9 622.2,521.8 622.1,521.7 622.1,521.6" stroke="#000" stroke-width="1.0" fill="none" stroke-linejoin="round" stroke-linecap="round"/>
<line x1="638.6" y1="536.0" x2="638.6" y2="625.0" stroke="#000" stroke-width="1.1"/>
<path d="M485.88,493.47 L485.88,505.32" stroke="#000" stroke-width="1.75" fill="none" stroke-linecap="round" stroke-linejoin="round"/>
<path d="M503.02,501.94 L494.57,501.94 L500.91,493.47 L500.91,505.32" stroke="#000" stroke-width="1.75" fill="none" stroke-linecap="round" stroke-linejoin="round"/>
<line x1="508.7" y1="500.8" x2="538.8" y2="502.5" stroke="#000" stroke-width="1.3"/>
<ellipse cx="553.9" cy="474.2" rx="17.4" ry="9.6" stroke="#000" stroke-width="1.6" fill="none"/>
<path d="M543.5,474.8 L548.8,469.3 L559.9,469.3 L564.9,474.8 L559.9,480.3 L548.8,480.3 Z" stroke="#000" stroke-width="1.3" fill="none" stroke-linejoin="round" stroke-linecap="round"/>
<line x1="548.8" y1="469.3" x2="548.8" y2="480.3" stroke="#000" stroke-width="1.0"/>
<line x1="559.9" y1="469.3" x2="559.9" y2="480.3" stroke="#000" stroke-width="1.0"/>
<line x1="536.5" y1="474.2" x2="536.5" y2="493.0" stroke="#000" stroke-width="1.7"/>
<line x1="571.3" y1="474.2" x2="571.3" y2="493.0" stroke="#000" stroke-width="1.7"/>
<polyline points="571.3,493.0 571.2,493.4 571.1,493.8 570.8,494.2 570.4,494.5 570.0,494.9 569.4,495.3 568.7,495.6 568.0,495.9 567.1,496.2 566.2,496.5 565.2,496.8 564.1,497.0 563.0,497.3 561.8,497.5 560.6,497.6 559.3,497.8 558.0,497.9 556.6,497.9 555.3,498.0 553.9,498.0 552.5,498.0 551.2,497.9 549.8,497.9 548.5,497.8 547.2,497.6 546.0,497.5 544.8,497.3 543.7,497.0 542.6,496.8 541.6,496.5 540.7,496.2 539.8,495.9 539.1,495.6 538.4,495.3 537.8,494.9 537.4,494.5 537.0,494.2 536.7,493.8 536.6,493.4 536.5,493.0" stroke="#000" stroke-width="1.6" fill="none" stroke-linejoin="round" stroke-linecap="round"/>
<polyline points="570.0,481.2 569.9,481.4 569.7,481.5 569.5,481.7 569.3,481.8 569.1,481.9 568.9,482.1 568.6,482.2 568.4,482.3 568.1,482.4 567.9,482.6 567.6,482.7 567.3,482.8 567.1,482.9 566.8,483.0 566.5,483.1 566.2,483.3 565.8,483.4 565.5,483.5 565.2,483.6 564.9,483.7 564.5,483.8 564.2,483.8 563.8,483.9 563.4,484.0 563.1,484.1 562.7,484.2 562.3,484.3 561.9,484.3 561.5,484.4 561.1,484.5 560.7,484.5 560.3,484.6 559.9,484.6 559.5,484.7 559.1,484.7 558.6,484.8 558.2,484.8 557.8,484.8 557.4,484.9 556.9,484.9" stroke="#000" stroke-width="1.3" fill="none" stroke-linejoin="round" stroke-linecap="round"/>
<polyline points="550.9,484.9 550.4,484.9 550.0,484.8 549.6,484.8 549.2,484.8 548.7,484.7 548.3,484.7 547.9,484.6 547.5,484.6 547.1,484.5 546.7,484.5 546.3,484.4 545.9,484.3 545.5,484.3 545.1,484.2 544.7,484.1 544.4,484.0 544.0,483.9 543.6,483.8 543.3,483.8 542.9,483.7 542.6,483.6 542.3,483.5 542.0,483.4 541.6,483.3 541.3,483.1 541.0,483.0 540.7,482.9 540.5,482.8 540.2,482.7 539.9,482.6 539.7,482.4 539.4,482.3 539.2,482.2 538.9,482.1 538.7,481.9 538.5,481.8 538.3,481.7 538.1,481.5 537.9,481.4 537.8,481.2" stroke="#000" stroke-width="1.3" fill="none" stroke-linejoin="round" stroke-linecap="round"/>
<polyline points="570.0,484.2 569.9,484.4 569.7,484.5 569.5,484.7 569.3,484.8 569.1,484.9 568.9,485.1 568.6,485.2 568.4,485.3 568.1,485.4 567.9,485.6 567.6,485.7 567.3,485.8 567.1,485.9 566.8,486.0 566.5,486.1 566.2,486.3 565.8,486.4 565.5,486.5 565.2,486.6 564.9,486.7 564.5,486.8 564.2,486.8 563.8,486.9 563.4,487.0 563.1,487.1 562.7,487.2 562.3,487.3 561.9,487.3 561.5,487.4 561.1,487.5 560.7,487.5 560.3,487.6 559.9,487.6 559.5,487.7 559.1,487.7 558.6,487.8 558.2,487.8 557.8,487.8 557.4,487.9 556.9,487.9" stroke="#000" stroke-width="1.3" fill="none" stroke-linejoin="round" stroke-linecap="round"/>
<polyline points="550.9,487.9 550.4,487.9 550.0,487.8 549.6,487.8 549.2,487.8 548.7,487.7 548.3,487.7 547.9,487.6 547.5,487.6 547.1,487.5 546.7,487.5 546.3,487.4 545.9,487.3 545.5,487.3 545.1,487.2 544.7,487.1 544.4,487.0 544.0,486.9 543.6,486.8 543.3,486.8 542.9,486.7 542.6,486.6 542.3,486.5 542.0,486.4 541.6,486.3 541.3,486.1 541.0,486.0 540.7,485.9 540.5,485.8 540.2,485.7 539.9,485.6 539.7,485.4 539.4,485.3 539.2,485.2 538.9,485.1 538.7,484.9 538.5,484.8 538.3,484.7 538.1,484.5 537.9,484.4 537.8,484.2" stroke="#000" stroke-width="1.3" fill="none" stroke-linejoin="round" stroke-linecap="round"/>
<polyline points="570.0,487.2 569.9,487.4 569.7,487.5 569.5,487.7 569.3,487.8 569.1,487.9 568.9,488.1 568.6,488.2 568.4,488.3 568.1,488.4 567.9,488.6 567.6,488.7 567.3,488.8 567.1,488.9 566.8,489.0 566.5,489.1 566.2,489.3 565.8,489.4 565.5,489.5 565.2,489.6 564.9,489.7 564.5,489.8 564.2,489.8 563.8,489.9 563.4,490.0 563.1,490.1 562.7,490.2 562.3,490.3 561.9,490.3 561.5,490.4 561.1,490.5 560.7,490.5 560.3,490.6 559.9,490.6 559.5,490.7 559.1,490.7 558.6,490.8 558.2,490.8 557.8,490.8 557.4,490.9 556.9,490.9" stroke="#000" stroke-width="1.3" fill="none" stroke-linejoin="round" stroke-linecap="round"/>
<polyline points="550.9,490.9 550.4,490.9 550.0,490.8 549.6,490.8 549.2,490.8 548.7,490.7 548.3,490.7 547.9,490.6 547.5,490.6 547.1,490.5 546.7,490.5 546.3,490.4 545.9,490.3 545.5,490.3 545.1,490.2 544.7,490.1 544.4,490.0 544.0,489.9 543.6,489.8 543.3,489.8 542.9,489.7 542.6,489.6 542.3,489.5 542.0,489.4 541.6,489.3 541.3,489.1 541.0,489.0 540.7,488.9 540.5,488.8 540.2,488.7 539.9,488.6 539.7,488.4 539.4,488.3 539.2,488.2 538.9,488.1 538.7,487.9 538.5,487.8 538.3,487.7 538.1,487.5 537.9,487.4 537.8,487.2" stroke="#000" stroke-width="1.3" fill="none" stroke-linejoin="round" stroke-linecap="round"/>
<polyline points="570.0,490.2 569.9,490.4 569.7,490.5 569.5,490.7 569.3,490.8 569.1,490.9 568.9,491.1 568.6,491.2 568.4,491.3 568.1,491.4 567.9,491.6 567.6,491.7 567.3,491.8 567.1,491.9 566.8,492.0 566.5,492.1 566.2,492.3 565.8,492.4 565.5,492.5 565.2,492.6 564.9,492.7 564.5,492.8 564.2,492.8 563.8,492.9 563.4,493.0 563.1,493.1 562.7,493.2 562.3,493.3 561.9,493.3 561.5,493.4 561.1,493.5 560.7,493.5 560.3,493.6 559.9,493.6 559.5,493.7 559.1,493.7 558.6,493.8 558.2,493.8 557.8,493.8 557.4,493.9 556.9,493.9" stroke="#000" stroke-width="1.3" fill="none" stroke-linejoin="round" stroke-linecap="round"/>
<polyline points="550.9,493.9 550.4,493.9 550.0,493.8 549.6,493.8 549.2,493.8 548.7,493.7 548.3,493.7 547.9,493.6 547.5,493.6 547.1,493.5 546.7,493.5 546.3,493.4 545.9,493.3 545.5,493.3 545.1,493.2 544.7,493.1 544.4,493.0 544.0,492.9 543.6,492.8 543.3,492.8 542.9,492.7 542.6,492.6 542.3,492.5 542.0,492.4 541.6,492.3 541.3,492.1 541.0,492.0 540.7,491.9 540.5,491.8 540.2,491.7 539.9,491.6 539.7,491.4 539.4,491.3 539.2,491.2 538.9,491.1 538.7,490.9 538.5,490.8 538.3,490.7 538.1,490.5 537.9,490.4 537.8,490.2" stroke="#000" stroke-width="1.3" fill="none" stroke-linejoin="round" stroke-linecap="round"/>
<path d="M537.5,485.0 L547,486.5 M561,486.5 L570.3,485.0" stroke="#fafcfa" stroke-width="1" stroke-dasharray="1.2,1.6" fill="none"/>
<path d="M537.5,488.0 L547,489.5 M561,489.5 L570.3,488.0" stroke="#fafcfa" stroke-width="1" stroke-dasharray="1.2,1.6" fill="none"/>
<path d="M537.5,491.0 L547,492.5 M561,492.5 L570.3,491.0" stroke="#fafcfa" stroke-width="1" stroke-dasharray="1.2,1.6" fill="none"/>
<path d="M537.5,494.0 L547,495.5 M561,495.5 L570.3,494.0" stroke="#fafcfa" stroke-width="1" stroke-dasharray="1.2,1.6" fill="none"/>
<line x1="543.1" y1="497.0" x2="543.1" y2="537.0" stroke="#000" stroke-width="1.6"/>
<line x1="564.1" y1="497.0" x2="564.1" y2="537.0" stroke="#000" stroke-width="1.6"/>
<polyline points="564.1,537.0 564.1,537.4 564.0,537.9 563.8,538.3 563.6,538.7 563.3,539.1 563.0,539.5 562.6,539.9 562.1,540.2 561.6,540.6 561.0,540.9 560.4,541.2 559.8,541.4 559.1,541.7 558.4,541.9 557.6,542.1 556.8,542.2 556.1,542.3 555.2,542.4 554.4,542.5 553.6,542.5 552.8,542.5 552.0,542.4 551.1,542.3 550.4,542.2 549.6,542.1 548.8,541.9 548.1,541.7 547.4,541.4 546.8,541.2 546.2,540.9 545.6,540.6 545.1,540.2 544.6,539.9 544.2,539.5 543.9,539.1 543.6,538.7 543.4,538.3 543.2,537.9 543.1,537.4 543.1,537.0" stroke="#000" stroke-width="1.6" fill="none" stroke-linejoin="round" stroke-linecap="round"/>
<polyline points="564.0,498.6 563.9,498.7 563.8,498.9 563.7,499.0 563.6,499.2 563.5,499.3 563.3,499.5 563.2,499.6 563.0,499.8 562.8,499.9 562.6,500.1 562.4,500.2 562.1,500.3 561.9,500.5 561.6,500.6 561.3,500.7 561.1,500.8 560.7,500.9 560.4,501.0 560.1,501.1 559.8,501.2 559.4,501.3 559.1,501.4 558.7,501.5 558.3,501.6 558.0,501.6 557.6,501.7 557.2,501.8 556.8,501.8 556.4,501.9 556.0,501.9 555.5,501.9 555.1,502.0 554.7,502.0 554.3,502.0 553.9,502.0 553.5,502.0 553.0,502.0 552.6,502.0 552.2,502.0 551.8,501.9" stroke="#000" stroke-width="1.2" fill="none" stroke-linejoin="round" stroke-linecap="round"/>
<polyline points="546.2,500.8 546.1,500.8 546.0,500.8 545.9,500.7 545.8,500.7 545.7,500.6 545.6,500.6 545.5,500.6 545.4,500.5 545.4,500.5 545.3,500.4 545.2,500.4 545.1,500.4 545.0,500.3 544.9,500.3 544.9,500.2 544.8,500.2 544.7,500.1 544.6,500.1 544.6,500.0 544.5,500.0 544.4,500.0 544.4,499.9 544.3,499.9 544.2,499.8 544.2,499.8 544.1,499.7 544.1,499.7 544.0,499.6 544.0,499.6 543.9,499.5 543.8,499.5 543.8,499.4 543.7,499.4 543.7,499.3 543.7,499.3 543.6,499.2 543.6,499.2 543.5,499.1 543.5,499.1 543.5,499.0" stroke="#000" stroke-width="1.0" fill="none" stroke-linejoin="round" stroke-linecap="round"/>
<polyline points="564.0,502.9 563.9,503.0 563.8,503.2 563.7,503.3 563.6,503.5 563.5,503.6 563.3,503.8 563.2,503.9 563.0,504.1 562.8,504.2 562.6,504.4 562.4,504.5 562.1,504.6 561.9,504.8 561.6,504.9 561.3,505.0 561.1,505.1 560.7,505.2 560.4,505.3 560.1,505.4 559.8,505.5 559.4,505.6 559.1,505.7 558.7,505.8 558.3,505.9 558.0,505.9 557.6,506.0 557.2,506.1 556.8,506.1 556.4,506.2 556.0,506.2 555.5,506.2 555.1,506.3 554.7,506.3 554.3,506.3 553.9,506.3 553.5,506.3 553.0,506.3 552.6,506.3 552.2,506.3 551.8,506.2" stroke="#000" stroke-width="1.2" fill="none" stroke-linejoin="round" stroke-linecap="round"/>
<polyline points="546.2,505.1 546.1,505.1 546.0,505.1 545.9,505.0 545.8,505.0 545.7,504.9 545.6,504.9 545.5,504.9 545.4,504.8 545.4,504.8 545.3,504.7 545.2,504.7 545.1,504.7 545.0,504.6 544.9,504.6 544.9,504.5 544.8,504.5 544.7,504.4 544.6,504.4 544.6,504.3 544.5,504.3 544.4,504.3 544.4,504.2 544.3,504.2 544.2,504.1 544.2,504.1 544.1,504.0 544.1,504.0 544.0,503.9 544.0,503.9 543.9,503.8 543.8,503.8 543.8,503.7 543.7,503.7 543.7,503.6 543.7,503.6 543.6,503.5 543.6,503.5 543.5,503.4 543.5,503.4 543.5,503.3" stroke="#000" stroke-width="1.0" fill="none" stroke-linejoin="round" stroke-linecap="round"/>
<polyline points="564.0,507.2 563.9,507.3 563.8,507.5 563.7,507.6 563.6,507.8 563.5,507.9 563.3,508.1 563.2,508.2 563.0,508.4 562.8,508.5 562.6,508.7 562.4,508.8 562.1,508.9 561.9,509.1 561.6,509.2 561.3,509.3 561.1,509.4 560.7,509.5 560.4,509.6 560.1,509.7 559.8,509.8 559.4,509.9 559.1,510.0 558.7,510.1 558.3,510.2 558.0,510.2 557.6,510.3 557.2,510.4 556.8,510.4 556.4,510.5 556.0,510.5 555.5,510.5 555.1,510.6 554.7,510.6 554.3,510.6 553.9,510.6 553.5,510.6 553.0,510.6 552.6,510.6 552.2,510.6 551.8,510.5" stroke="#000" stroke-width="1.2" fill="none" stroke-linejoin="round" stroke-linecap="round"/>
<polyline points="546.2,509.4 546.1,509.4 546.0,509.4 545.9,509.3 545.8,509.3 545.7,509.2 545.6,509.2 545.5,509.2 545.4,509.1 545.4,509.1 545.3,509.0 545.2,509.0 545.1,509.0 545.0,508.9 544.9,508.9 544.9,508.8 544.8,508.8 544.7,508.7 544.6,508.7 544.6,508.6 544.5,508.6 544.4,508.6 544.4,508.5 544.3,508.5 544.2,508.4 544.2,508.4 544.1,508.3 544.1,508.3 544.0,508.2 544.0,508.2 543.9,508.1 543.8,508.1 543.8,508.0 543.7,508.0 543.7,507.9 543.7,507.9 543.6,507.8 543.6,507.8 543.5,507.7 543.5,507.7 543.5,507.6" stroke="#000" stroke-width="1.0" fill="none" stroke-linejoin="round" stroke-linecap="round"/>
<polyline points="564.0,511.5 563.9,511.6 563.8,511.8 563.7,511.9 563.6,512.1 563.5,512.2 563.3,512.4 563.2,512.5 563.0,512.7 562.8,512.8 562.6,513.0 562.4,513.1 562.1,513.2 561.9,513.4 561.6,513.5 561.3,513.6 561.1,513.7 560.7,513.8 560.4,513.9 560.1,514.0 559.8,514.1 559.4,514.2 559.1,514.3 558.7,514.4 558.3,514.5 558.0,514.5 557.6,514.6 557.2,514.7 556.8,514.7 556.4,514.8 556.0,514.8 555.5,514.8 555.1,514.9 554.7,514.9 554.3,514.9 553.9,514.9 553.5,514.9 553.0,514.9 552.6,514.9 552.2,514.9 551.8,514.8" stroke="#000" stroke-width="1.2" fill="none" stroke-linejoin="round" stroke-linecap="round"/>
<polyline points="546.2,513.7 546.1,513.7 546.0,513.7 545.9,513.6 545.8,513.6 545.7,513.5 545.6,513.5 545.5,513.5 545.4,513.4 545.4,513.4 545.3,513.3 545.2,513.3 545.1,513.3 545.0,513.2 544.9,513.2 544.9,513.1 544.8,513.1 544.7,513.0 544.6,513.0 544.6,512.9 544.5,512.9 544.4,512.9 544.4,512.8 544.3,512.8 544.2,512.7 544.2,512.7 544.1,512.6 544.1,512.6 544.0,512.5 544.0,512.5 543.9,512.4 543.8,512.4 543.8,512.3 543.7,512.3 543.7,512.2 543.7,512.2 543.6,512.1 543.6,512.1 543.5,512.0 543.5,512.0 543.5,511.9" stroke="#000" stroke-width="1.0" fill="none" stroke-linejoin="round" stroke-linecap="round"/>
<polyline points="564.0,515.8 563.9,515.9 563.8,516.1 563.7,516.2 563.6,516.4 563.5,516.5 563.3,516.7 563.2,516.8 563.0,517.0 562.8,517.1 562.6,517.3 562.4,517.4 562.1,517.5 561.9,517.7 561.6,517.8 561.3,517.9 561.1,518.0 560.7,518.1 560.4,518.2 560.1,518.3 559.8,518.4 559.4,518.5 559.1,518.6 558.7,518.7 558.3,518.8 558.0,518.8 557.6,518.9 557.2,519.0 556.8,519.0 556.4,519.1 556.0,519.1 555.5,519.1 555.1,519.2 554.7,519.2 554.3,519.2 553.9,519.2 553.5,519.2 553.0,519.2 552.6,519.2 552.2,519.2 551.8,519.1" stroke="#000" stroke-width="1.2" fill="none" stroke-linejoin="round" stroke-linecap="round"/>
<polyline points="546.2,518.0 546.1,518.0 546.0,518.0 545.9,517.9 545.8,517.9 545.7,517.8 545.6,517.8 545.5,517.8 545.4,517.7 545.4,517.7 545.3,517.6 545.2,517.6 545.1,517.6 545.0,517.5 544.9,517.5 544.9,517.4 544.8,517.4 544.7,517.3 544.6,517.3 544.6,517.2 544.5,517.2 544.4,517.2 544.4,517.1 544.3,517.1 544.2,517.0 544.2,517.0 544.1,516.9 544.1,516.9 544.0,516.8 544.0,516.8 543.9,516.7 543.8,516.7 543.8,516.6 543.7,516.6 543.7,516.5 543.7,516.5 543.6,516.4 543.6,516.4 543.5,516.3 543.5,516.3 543.5,516.2" stroke="#000" stroke-width="1.0" fill="none" stroke-linejoin="round" stroke-linecap="round"/>
<polyline points="564.0,520.1 563.9,520.2 563.8,520.4 563.7,520.5 563.6,520.7 563.5,520.8 563.3,521.0 563.2,521.1 563.0,521.3 562.8,521.4 562.6,521.6 562.4,521.7 562.1,521.8 561.9,522.0 561.6,522.1 561.3,522.2 561.1,522.3 560.7,522.4 560.4,522.5 560.1,522.6 559.8,522.7 559.4,522.8 559.1,522.9 558.7,523.0 558.3,523.1 558.0,523.1 557.6,523.2 557.2,523.3 556.8,523.3 556.4,523.4 556.0,523.4 555.5,523.4 555.1,523.5 554.7,523.5 554.3,523.5 553.9,523.5 553.5,523.5 553.0,523.5 552.6,523.5 552.2,523.5 551.8,523.4" stroke="#000" stroke-width="1.2" fill="none" stroke-linejoin="round" stroke-linecap="round"/>
<polyline points="546.2,522.3 546.1,522.3 546.0,522.3 545.9,522.2 545.8,522.2 545.7,522.1 545.6,522.1 545.5,522.1 545.4,522.0 545.4,522.0 545.3,521.9 545.2,521.9 545.1,521.9 545.0,521.8 544.9,521.8 544.9,521.7 544.8,521.7 544.7,521.6 544.6,521.6 544.6,521.5 544.5,521.5 544.4,521.5 544.4,521.4 544.3,521.4 544.2,521.3 544.2,521.3 544.1,521.2 544.1,521.2 544.0,521.1 544.0,521.1 543.9,521.0 543.8,521.0 543.8,520.9 543.7,520.9 543.7,520.8 543.7,520.8 543.6,520.7 543.6,520.7 543.5,520.6 543.5,520.6 543.5,520.5" stroke="#000" stroke-width="1.0" fill="none" stroke-linejoin="round" stroke-linecap="round"/>
<polyline points="564.0,524.4 563.9,524.5 563.8,524.7 563.7,524.8 563.6,525.0 563.5,525.1 563.3,525.3 563.2,525.4 563.0,525.6 562.8,525.7 562.6,525.9 562.4,526.0 562.1,526.1 561.9,526.3 561.6,526.4 561.3,526.5 561.1,526.6 560.7,526.7 560.4,526.8 560.1,526.9 559.8,527.0 559.4,527.1 559.1,527.2 558.7,527.3 558.3,527.4 558.0,527.4 557.6,527.5 557.2,527.6 556.8,527.6 556.4,527.7 556.0,527.7 555.5,527.7 555.1,527.8 554.7,527.8 554.3,527.8 553.9,527.8 553.5,527.8 553.0,527.8 552.6,527.8 552.2,527.8 551.8,527.7" stroke="#000" stroke-width="1.2" fill="none" stroke-linejoin="round" stroke-linecap="round"/>
<polyline points="546.2,526.6 546.1,526.6 546.0,526.6 545.9,526.5 545.8,526.5 545.7,526.4 545.6,526.4 545.5,526.4 545.4,526.3 545.4,526.3 545.3,526.2 545.2,526.2 545.1,526.2 545.0,526.1 544.9,526.1 544.9,526.0 544.8,526.0 544.7,525.9 544.6,525.9 544.6,525.8 544.5,525.8 544.4,525.8 544.4,525.7 544.3,525.7 544.2,525.6 544.2,525.6 544.1,525.5 544.1,525.5 544.0,525.4 544.0,525.4 543.9,525.3 543.8,525.3 543.8,525.2 543.7,525.2 543.7,525.1 543.7,525.1 543.6,525.0 543.6,525.0 543.5,524.9 543.5,524.9 543.5,524.8" stroke="#000" stroke-width="1.0" fill="none" stroke-linejoin="round" stroke-linecap="round"/>
<polyline points="564.0,528.7 563.9,528.8 563.8,529.0 563.7,529.1 563.6,529.3 563.5,529.4 563.3,529.6 563.2,529.7 563.0,529.9 562.8,530.0 562.6,530.2 562.4,530.3 562.1,530.4 561.9,530.6 561.6,530.7 561.3,530.8 561.1,530.9 560.7,531.0 560.4,531.1 560.1,531.2 559.8,531.3 559.4,531.4 559.1,531.5 558.7,531.6 558.3,531.7 558.0,531.7 557.6,531.8 557.2,531.9 556.8,531.9 556.4,532.0 556.0,532.0 555.5,532.0 555.1,532.1 554.7,532.1 554.3,532.1 553.9,532.1 553.5,532.1 553.0,532.1 552.6,532.1 552.2,532.1 551.8,532.0" stroke="#000" stroke-width="1.2" fill="none" stroke-linejoin="round" stroke-linecap="round"/>
<polyline points="546.2,530.9 546.1,530.9 546.0,530.9 545.9,530.8 545.8,530.8 545.7,530.7 545.6,530.7 545.5,530.7 545.4,530.6 545.4,530.6 545.3,530.5 545.2,530.5 545.1,530.5 545.0,530.4 544.9,530.4 544.9,530.3 544.8,530.3 544.7,530.2 544.6,530.2 544.6,530.1 544.5,530.1 544.4,530.1 544.4,530.0 544.3,530.0 544.2,529.9 544.2,529.9 544.1,529.8 544.1,529.8 544.0,529.7 544.0,529.7 543.9,529.6 543.8,529.6 543.8,529.5 543.7,529.5 543.7,529.4 543.7,529.4 543.6,529.3 543.6,529.3 543.5,529.2 543.5,529.2 543.5,529.1" stroke="#000" stroke-width="1.0" fill="none" stroke-linejoin="round" stroke-linecap="round"/>
<polyline points="564.0,533.0 563.9,533.1 563.8,533.3 563.7,533.4 563.6,533.6 563.5,533.7 563.3,533.9 563.2,534.0 563.0,534.2 562.8,534.3 562.6,534.5 562.4,534.6 562.1,534.7 561.9,534.9 561.6,535.0 561.3,535.1 561.1,535.2 560.7,535.3 560.4,535.4 560.1,535.5 559.8,535.6 559.4,535.7 559.1,535.8 558.7,535.9 558.3,536.0 558.0,536.0 557.6,536.1 557.2,536.2 556.8,536.2 556.4,536.3 556.0,536.3 555.5,536.3 555.1,536.4 554.7,536.4 554.3,536.4 553.9,536.4 553.5,536.4 553.0,536.4 552.6,536.4 552.2,536.4 551.8,536.3" stroke="#000" stroke-width="1.2" fill="none" stroke-linejoin="round" stroke-linecap="round"/>
<polyline points="546.2,535.2 546.1,535.2 546.0,535.2 545.9,535.1 545.8,535.1 545.7,535.0 545.6,535.0 545.5,535.0 545.4,534.9 545.4,534.9 545.3,534.8 545.2,534.8 545.1,534.8 545.0,534.7 544.9,534.7 544.9,534.6 544.8,534.6 544.7,534.5 544.6,534.5 544.6,534.4 544.5,534.4 544.4,534.4 544.4,534.3 544.3,534.3 544.2,534.2 544.2,534.2 544.1,534.1 544.1,534.1 544.0,534.0 544.0,534.0 543.9,533.9 543.8,533.9 543.8,533.8 543.7,533.8 543.7,533.7 543.7,533.7 543.6,533.6 543.6,533.6 543.5,533.5 543.5,533.5 543.5,533.4" stroke="#000" stroke-width="1.0" fill="none" stroke-linejoin="round" stroke-linecap="round"/>
<line x1="554.5" y1="549.0" x2="554.5" y2="602.0" stroke="#000" stroke-width="1.1"/>
<path d="M815.08,554.08 L815.08,565.93" stroke="#000" stroke-width="1.75" fill="none" stroke-linecap="round" stroke-linejoin="round"/>
<path d="M820.58,555.94 C821.43,554.75 822.78,554.08 824.30,554.08 C826.50,554.08 827.85,555.34 827.85,557.04 C827.85,558.73 826.41,559.75 823.96,559.75 C826.67,559.75 828.52,560.93 828.52,562.79 C828.52,564.74 826.67,565.93 824.30,565.93 C822.44,565.93 820.92,565.16 820.07,563.89" stroke="#000" stroke-width="1.75" fill="none" stroke-linecap="round" stroke-linejoin="round"/>
<line x1="741.0" y1="592.0" x2="807.7" y2="562.7" stroke="#000" stroke-width="1.3"/>
<path d="M500.9,589.3 L549.8,577.3 M557.9,575.2 L633.5,553.3 M642.8,551 L666,545.1 C680,541 694,544 702.3,552.8 L777.2,634.2 C784,642 784,652 776,657 L601.4,708.8 C590,711 580,707 571.6,699.5 L495.1,604.4 C492,599 495,591 500.9,589.3" stroke="#000" stroke-width="1.5" fill="none" stroke-linejoin="round" stroke-linecap="round"/>
<path d="M492.8,598 L492.8,607 L573.5,714.4 C580,721 592,723 601.4,721.5 L770.7,673.3 C778,671 783.7,667 783.7,660.2 L783.7,650" stroke="#000" stroke-width="1.8" fill="none" stroke-linejoin="round" stroke-linecap="round"/>
<ellipse cx="507.9" cy="597.9" rx="7.8" ry="4.4" stroke="#000" stroke-width="1.3" fill="none"/>
<ellipse cx="677.8" cy="554.5" rx="7.8" ry="4.4" stroke="#000" stroke-width="1.3" fill="none"/>
<ellipse cx="768.2" cy="650.5" rx="7.8" ry="4.4" stroke="#000" stroke-width="1.3" fill="none"/>
<ellipse cx="592.6" cy="699.5" rx="7.8" ry="4.4" stroke="#000" stroke-width="1.3" fill="none"/>
<ellipse cx="554.0" cy="606.3" rx="12.2" ry="6.4" stroke="#000" stroke-width="1.3" fill="none"/>
<ellipse cx="554.0" cy="611.0" rx="5.0" ry="2.5" stroke="#000" stroke-width="1.5" fill="none"/>
<ellipse cx="611.4" cy="595.8" rx="24.4" ry="14.8" stroke="#000" stroke-width="1.6" fill="none"/>
<path d="M589.4,603.9 A22.4,11.1 0 0 1 633.4,603.9" stroke="#000" stroke-width="1.3" fill="none" stroke-linejoin="round" stroke-linecap="round"/>
<ellipse cx="585.8" cy="639.3" rx="27.0" ry="16.3" stroke="#000" stroke-width="1.6" fill="none"/>
<path d="M561.5,648.3 A24.8,12.2 0 0 1 610.1,648.3" stroke="#000" stroke-width="1.3" fill="none" stroke-linejoin="round" stroke-linecap="round"/>
<ellipse cx="691.6" cy="610.5" rx="27.1" ry="15.5" stroke="#000" stroke-width="1.6" fill="none"/>
<path d="M667.2,619.0 A24.9,11.6 0 0 1 716.0,619.0" stroke="#000" stroke-width="1.3" fill="none" stroke-linejoin="round" stroke-linecap="round"/>
<ellipse cx="663.6" cy="656.5" rx="27.3" ry="15.0" stroke="#000" stroke-width="1.6" fill="none"/>
<path d="M639.0,664.8 A25.1,11.2 0 0 1 688.2,664.8" stroke="#000" stroke-width="1.3" fill="none" stroke-linejoin="round" stroke-linecap="round"/>
<ellipse cx="639.3" cy="625.3" rx="24.4" ry="14.0" stroke="#000" stroke-width="1.4" fill="none"/>
<ellipse cx="638.1" cy="631.2" rx="17.4" ry="9.3" stroke="#000" stroke-width="1.5" fill="none"/>
<polyline points="618.3,626.3 618.6,625.6 619.0,624.9 619.5,624.3 620.1,623.6 620.8,623.0 621.6,622.4 622.5,621.8 623.4,621.3 624.4,620.8 625.5,620.3 626.7,619.9 627.9,619.5 629.1,619.2 630.5,618.9 631.8,618.6 633.2,618.4 634.6,618.2 636.1,618.1 637.5,618.0 639.0,618.0 640.5,618.0 641.9,618.1 643.4,618.2 644.8,618.4 646.2,618.6 647.5,618.9 648.9,619.2 650.1,619.5 651.3,619.9 652.5,620.3 653.6,620.8 654.6,621.3 655.5,621.8 656.4,622.4 657.2,623.0 657.9,623.6 658.5,624.3 659.0,624.9 659.4,625.6 659.7,626.3" stroke="#000" stroke-width="1.0" fill="none" stroke-linejoin="round" stroke-linecap="round"/>
<ellipse cx="723.8" cy="642.3" rx="12.5" ry="7.3" stroke="#000" stroke-width="1.3" fill="none"/>
<polyline points="732.9,645.7 732.7,646.0 732.6,646.2 732.3,646.5 732.1,646.8 731.8,647.0 731.5,647.2 731.1,647.5 730.7,647.7 730.3,647.9 729.8,648.1 729.3,648.2 728.8,648.4 728.2,648.5 727.7,648.7 727.1,648.8 726.5,648.8 725.9,648.9 725.3,649.0 724.6,649.0 724.0,649.0 723.4,649.0 722.7,649.0 722.1,648.9 721.5,648.8 720.9,648.8 720.3,648.7 719.8,648.5 719.2,648.4 718.7,648.2 718.2,648.1 717.7,647.9 717.3,647.7 716.9,647.5 716.5,647.2 716.2,647.0 715.9,646.8 715.7,646.5 715.4,646.2 715.3,646.0 715.1,645.7" stroke="#000" stroke-width="2.2" fill="none" stroke-linejoin="round" stroke-linecap="round"/>
<line x1="612.0" y1="725.4" x2="612.0" y2="752.0" stroke="#000" stroke-width="1.2"/>
<line x1="691.6" y1="706.0" x2="691.6" y2="746.0" stroke="#000" stroke-width="1.2"/>
<ellipse cx="613.2" cy="771.6" rx="22.0" ry="12.8" stroke="#000" stroke-width="1.5" fill="none"/>
<line x1="591.2" y1="771.6" x2="591.2" y2="778.9" stroke="#000" stroke-width="1.5"/>
<line x1="635.2" y1="771.6" x2="635.2" y2="778.9" stroke="#000" stroke-width="1.5"/>
<polyline points="635.2,778.9 635.1,779.9 634.9,780.9 634.6,781.9 634.1,782.9 633.5,783.8 632.8,784.7 632.0,785.6 631.0,786.4 629.9,787.2 628.8,788.0 627.5,788.6 626.1,789.3 624.7,789.8 623.2,790.3 621.6,790.7 620.0,791.1 618.3,791.3 616.6,791.5 614.9,791.7 613.2,791.7 611.5,791.7 609.8,791.5 608.1,791.3 606.4,791.1 604.8,790.7 603.2,790.3 601.7,789.8 600.3,789.3 598.9,788.6 597.6,788.0 596.5,787.2 595.4,786.4 594.4,785.6 593.6,784.7 592.9,783.8 592.3,782.9 591.8,781.9 591.5,780.9 591.3,779.9 591.2,778.9" stroke="#000" stroke-width="1.6" fill="none" stroke-linejoin="round" stroke-linecap="round"/>
<ellipse cx="613.2" cy="771.1" rx="15.8" ry="8.7" stroke="#000" stroke-width="1.2" fill="none"/>
<polyline points="599.6,774.6 599.6,774.1 599.7,773.7 599.9,773.3 600.2,772.8 600.6,772.4 601.0,772.0 601.6,771.6 602.2,771.2 602.8,770.9 603.6,770.5 604.3,770.2 605.2,769.9 606.1,769.7 607.0,769.5 608.0,769.3 609.0,769.1 610.0,769.0 611.1,768.9 612.1,768.9 613.2,768.8 614.3,768.9 615.3,768.9 616.4,769.0 617.4,769.1 618.4,769.3 619.4,769.5 620.3,769.7 621.2,769.9 622.1,770.2 622.8,770.5 623.6,770.9 624.2,771.2 624.8,771.6 625.4,772.0 625.8,772.4 626.2,772.8 626.5,773.3 626.7,773.7 626.8,774.1 626.8,774.6" stroke="#000" stroke-width="1.0" fill="none" stroke-linejoin="round" stroke-linecap="round"/>
<ellipse cx="691.9" cy="765.0" rx="22.0" ry="12.8" stroke="#000" stroke-width="1.5" fill="none"/>
<line x1="669.9" y1="765.0" x2="669.9" y2="772.3" stroke="#000" stroke-width="1.5"/>
<line x1="713.9" y1="765.0" x2="713.9" y2="772.3" stroke="#000" stroke-width="1.5"/>
<polyline points="713.9,772.3 713.8,773.3 713.6,774.3 713.3,775.3 712.8,776.3 712.2,777.2 711.5,778.1 710.7,779.0 709.7,779.8 708.6,780.6 707.5,781.4 706.2,782.0 704.8,782.7 703.4,783.2 701.9,783.7 700.3,784.1 698.7,784.5 697.0,784.7 695.3,784.9 693.6,785.1 691.9,785.1 690.2,785.1 688.5,784.9 686.8,784.7 685.1,784.5 683.5,784.1 681.9,783.7 680.4,783.2 679.0,782.7 677.6,782.0 676.3,781.4 675.2,780.6 674.1,779.8 673.1,779.0 672.3,778.1 671.6,777.2 671.0,776.3 670.5,775.3 670.2,774.3 670.0,773.3 669.9,772.3" stroke="#000" stroke-width="1.6" fill="none" stroke-linejoin="round" stroke-linecap="round"/>
<ellipse cx="691.9" cy="764.5" rx="15.8" ry="8.7" stroke="#000" stroke-width="1.2" fill="none"/>
<polyline points="678.3,768.0 678.3,767.5 678.4,767.1 678.6,766.7 678.9,766.2 679.3,765.8 679.7,765.4 680.3,765.0 680.9,764.6 681.5,764.3 682.3,763.9 683.0,763.6 683.9,763.3 684.8,763.1 685.7,762.9 686.7,762.7 687.7,762.5 688.7,762.4 689.8,762.3 690.8,762.3 691.9,762.2 693.0,762.3 694.0,762.3 695.1,762.4 696.1,762.5 697.1,762.7 698.1,762.9 699.0,763.1 699.9,763.3 700.8,763.6 701.5,763.9 702.3,764.3 702.9,764.6 703.5,765.0 704.1,765.4 704.5,765.8 704.9,766.2 705.2,766.7 705.4,767.1 705.5,767.5 705.5,768.0" stroke="#000" stroke-width="1.0" fill="none" stroke-linejoin="round" stroke-linecap="round"/>
<ellipse cx="614.2" cy="819.0" rx="33.3" ry="18.8" stroke="#000" stroke-width="2.6" fill="none"/>
<ellipse cx="691.5" cy="811.2" rx="33.1" ry="18.8" stroke="#000" stroke-width="2.6" fill="none"/>
<ellipse cx="613.0" cy="861.4" rx="24.6" ry="13.7" stroke="#000" stroke-width="1.5" fill="none"/>
<ellipse cx="613.0" cy="861.7" rx="21.9" ry="11.9" stroke="#000" stroke-width="1.1" fill="none"/>
<polyline points="596.5,866.7 596.6,866.0 596.7,865.3 597.0,864.6 597.3,864.0 597.8,863.3 598.3,862.7 598.9,862.1 599.7,861.5 600.5,861.0 601.3,860.5 602.3,860.0 603.3,859.6 604.4,859.2 605.5,858.9 606.7,858.6 607.9,858.3 609.1,858.1 610.4,858.0 611.7,857.9 613.0,857.9 614.3,857.9 615.6,858.0 616.9,858.1 618.1,858.3 619.3,858.6 620.5,858.9 621.6,859.2 622.7,859.6 623.7,860.0 624.7,860.5 625.5,861.0 626.3,861.5 627.1,862.1 627.7,862.7 628.2,863.3 628.7,864.0 629.0,864.6 629.3,865.3 629.4,866.0 629.5,866.7" stroke="#000" stroke-width="1.0" fill="none" stroke-linejoin="round" stroke-linecap="round"/>
<polyline points="598.5,869.2 598.5,868.7 598.7,868.1 598.9,867.6 599.2,867.0 599.6,866.5 600.1,866.0 600.6,865.5 601.3,865.1 602.0,864.7 602.7,864.3 603.6,863.9 604.5,863.5 605.4,863.2 606.4,863.0 607.5,862.7 608.5,862.5 609.6,862.4 610.7,862.3 611.9,862.2 613.0,862.2 614.1,862.2 615.3,862.3 616.4,862.4 617.5,862.5 618.5,862.7 619.6,863.0 620.6,863.2 621.5,863.5 622.4,863.9 623.3,864.3 624.0,864.7 624.7,865.1 625.4,865.5 625.9,866.0 626.4,866.5 626.8,867.0 627.1,867.6 627.3,868.1 627.5,868.7 627.5,869.2" stroke="#000" stroke-width="1.0" fill="none" stroke-linejoin="round" stroke-linecap="round"/>
<polyline points="627.5,869.2 627.5,869.5 627.3,869.8 627.1,870.1 626.8,870.4 626.4,870.7 625.9,871.0 625.4,871.3 624.7,871.6 624.0,871.8 623.3,872.0 622.4,872.2 621.5,872.4 620.6,872.6 619.6,872.8 618.5,872.9 617.5,873.0 616.4,873.1 615.3,873.2 614.1,873.2 613.0,873.2 611.9,873.2 610.7,873.2 609.6,873.1 608.5,873.0 607.5,872.9 606.4,872.8 605.4,872.6 604.5,872.4 603.6,872.2 602.7,872.0 602.0,871.8 601.3,871.6 600.6,871.3 600.1,871.0 599.6,870.7 599.2,870.4 598.9,870.1 598.7,869.8 598.5,869.5 598.5,869.2" stroke="#000" stroke-width="1.1" fill="none" stroke-linejoin="round" stroke-linecap="round"/>
<line x1="588.4" y1="861.4" x2="588.4" y2="884.4" stroke="#000" stroke-width="1.5"/>
<line x1="637.6" y1="861.4" x2="637.6" y2="884.4" stroke="#000" stroke-width="1.5"/>
<polyline points="637.6,884.4 637.6,885.2 637.3,886.0 637.0,886.8 636.4,887.6 635.8,888.3 635.0,889.1 634.0,889.8 632.9,890.5 631.7,891.1 630.4,891.7 629.0,892.2 627.5,892.7 625.9,893.2 624.2,893.6 622.4,893.9 620.6,894.2 618.8,894.4 616.9,894.6 614.9,894.7 613.0,894.7 611.1,894.7 609.1,894.6 607.2,894.4 605.4,894.2 603.6,893.9 601.8,893.6 600.1,893.2 598.5,892.7 597.0,892.2 595.6,891.7 594.3,891.1 593.1,890.5 592.0,889.8 591.0,889.1 590.2,888.3 589.6,887.6 589.0,886.8 588.7,886.0 588.4,885.2 588.4,884.4" stroke="#000" stroke-width="1.2" fill="none" stroke-linejoin="round" stroke-linecap="round"/>
<polyline points="579.0,880.7 579.0,880.3 579.0,879.9 579.1,879.5 579.1,879.2 579.2,878.8 579.3,878.4 579.4,878.0 579.6,877.6 579.7,877.3 579.9,876.9 580.1,876.5 580.3,876.1 580.5,875.8 580.7,875.4 581.0,875.0 581.2,874.7 581.5,874.3 581.8,873.9 582.1,873.6 582.4,873.2 582.8,872.9 583.1,872.6 583.5,872.2 583.9,871.9 584.3,871.6 584.7,871.2 585.2,870.9 585.6,870.6 586.1,870.3 586.6,870.0 587.1,869.7 587.6,869.4 588.1,869.1 588.6,868.8 589.2,868.6 589.7,868.3 590.3,868.0 590.9,867.8 591.5,867.5 592.1,867.3" stroke="#000" stroke-width="1.5" fill="none" stroke-linejoin="round" stroke-linecap="round"/>
<polyline points="633.9,867.3 634.5,867.5 635.1,867.8 635.7,868.0 636.3,868.3 636.8,868.6 637.4,868.8 637.9,869.1 638.4,869.4 638.9,869.7 639.4,870.0 639.9,870.3 640.4,870.6 640.8,870.9 641.3,871.2 641.7,871.6 642.1,871.9 642.5,872.2 642.9,872.6 643.2,872.9 643.6,873.2 643.9,873.6 644.2,873.9 644.5,874.3 644.8,874.7 645.0,875.0 645.3,875.4 645.5,875.8 645.7,876.1 645.9,876.5 646.1,876.9 646.3,877.3 646.4,877.6 646.6,878.0 646.7,878.4 646.8,878.8 646.9,879.2 646.9,879.5 647.0,879.9 647.0,880.3 647.0,880.7" stroke="#000" stroke-width="1.5" fill="none" stroke-linejoin="round" stroke-linecap="round"/>
<polyline points="647.0,880.7 646.9,882.0 646.6,883.4 646.1,884.7 645.3,886.0 644.4,887.2 643.3,888.4 642.0,889.6 640.5,890.7 638.9,891.7 637.0,892.7 635.1,893.6 633.0,894.5 630.8,895.2 628.4,895.8 626.0,896.4 623.5,896.9 620.9,897.2 618.3,897.5 615.7,897.6 613.0,897.7 610.3,897.6 607.7,897.5 605.1,897.2 602.5,896.9 600.0,896.4 597.6,895.8 595.2,895.2 593.0,894.5 590.9,893.6 589.0,892.7 587.1,891.7 585.5,890.7 584.0,889.6 582.7,888.4 581.6,887.2 580.7,886.0 579.9,884.7 579.4,883.4 579.1,882.0 579.0,880.7" stroke="#000" stroke-width="1.2" fill="none" stroke-linejoin="round" stroke-linecap="round"/>
<line x1="579.0" y1="880.7" x2="579.0" y2="903.7" stroke="#000" stroke-width="1.6"/>
<line x1="647.0" y1="880.7" x2="647.0" y2="903.7" stroke="#000" stroke-width="1.6"/>
<polyline points="647.0,889.2 646.9,890.5 646.6,891.8 646.1,893.1 645.3,894.3 644.4,895.6 643.3,896.7 642.0,897.9 640.5,899.0 638.9,900.0 637.0,900.9 635.1,901.8 633.0,902.6 630.8,903.4 628.4,904.0 626.0,904.5 623.5,905.0 620.9,905.3 618.3,905.6 615.7,905.7 613.0,905.8 610.3,905.7 607.7,905.6 605.1,905.3 602.5,905.0 600.0,904.5 597.6,904.0 595.2,903.4 593.0,902.6 590.9,901.8 589.0,900.9 587.1,900.0 585.5,899.0 584.0,897.9 582.7,896.7 581.6,895.6 580.7,894.3 579.9,893.1 579.4,891.8 579.1,890.5 579.0,889.2" stroke="#000" stroke-width="1.6" fill="none" stroke-linejoin="round" stroke-linecap="round"/>
<polyline points="647.0,892.9 646.9,894.2 646.6,895.5 646.1,896.8 645.3,898.0 644.4,899.3 643.3,900.4 642.0,901.6 640.5,902.7 638.9,903.7 637.0,904.6 635.1,905.5 633.0,906.3 630.8,907.1 628.4,907.7 626.0,908.2 623.5,908.7 620.9,909.0 618.3,909.3 615.7,909.4 613.0,909.5 610.3,909.4 607.7,909.3 605.1,909.0 602.5,908.7 600.0,908.2 597.6,907.7 595.2,907.1 593.0,906.3 590.9,905.5 589.0,904.6 587.1,903.7 585.5,902.7 584.0,901.6 582.7,900.4 581.6,899.3 580.7,898.0 579.9,896.8 579.4,895.5 579.1,894.2 579.0,892.9" stroke="#000" stroke-width="1.1" fill="none" stroke-linejoin="round" stroke-linecap="round"/>
<polyline points="647.0,903.7 646.9,904.8 646.6,905.9 646.1,907.0 645.3,908.1 644.4,909.1 643.3,910.1 642.0,911.1 640.5,912.0 638.9,912.9 637.0,913.7 635.1,914.5 633.0,915.2 630.8,915.8 628.4,916.4 626.0,916.8 623.5,917.2 620.9,917.5 618.3,917.7 615.7,917.9 613.0,917.9 610.3,917.9 607.7,917.7 605.1,917.5 602.5,917.2 600.0,916.8 597.6,916.4 595.2,915.8 593.0,915.2 590.9,914.5 589.0,913.7 587.1,912.9 585.5,912.0 584.0,911.1 582.7,910.1 581.6,909.1 580.7,908.1 579.9,907.0 579.4,905.9 579.1,904.8 579.0,903.7" stroke="#000" stroke-width="1.8" fill="none" stroke-linejoin="round" stroke-linecap="round"/>
<ellipse cx="692.0" cy="853.5" rx="24.6" ry="13.7" stroke="#000" stroke-width="1.5" fill="none"/>
<ellipse cx="692.0" cy="853.8" rx="21.9" ry="11.9" stroke="#000" stroke-width="1.1" fill="none"/>
<polyline points="675.5,858.8 675.6,858.1 675.7,857.4 676.0,856.7 676.3,856.1 676.8,855.4 677.3,854.8 677.9,854.2 678.7,853.6 679.5,853.1 680.3,852.6 681.3,852.1 682.3,851.7 683.4,851.3 684.5,851.0 685.7,850.7 686.9,850.4 688.1,850.2 689.4,850.1 690.7,850.0 692.0,850.0 693.3,850.0 694.6,850.1 695.9,850.2 697.1,850.4 698.3,850.7 699.5,851.0 700.6,851.3 701.7,851.7 702.7,852.1 703.7,852.6 704.5,853.1 705.3,853.6 706.1,854.2 706.7,854.8 707.2,855.4 707.7,856.1 708.0,856.7 708.3,857.4 708.4,858.1 708.5,858.8" stroke="#000" stroke-width="1.0" fill="none" stroke-linejoin="round" stroke-linecap="round"/>
<polyline points="677.5,861.3 677.5,860.8 677.7,860.2 677.9,859.7 678.2,859.1 678.6,858.6 679.1,858.1 679.6,857.6 680.3,857.2 681.0,856.8 681.7,856.4 682.6,856.0 683.5,855.6 684.4,855.3 685.4,855.1 686.5,854.8 687.5,854.6 688.6,854.5 689.7,854.4 690.9,854.3 692.0,854.3 693.1,854.3 694.3,854.4 695.4,854.5 696.5,854.6 697.5,854.8 698.6,855.1 699.6,855.3 700.5,855.6 701.4,856.0 702.3,856.4 703.0,856.8 703.7,857.2 704.4,857.6 704.9,858.1 705.4,858.6 705.8,859.1 706.1,859.7 706.3,860.2 706.5,860.8 706.5,861.3" stroke="#000" stroke-width="1.0" fill="none" stroke-linejoin="round" stroke-linecap="round"/>
<polyline points="706.5,861.3 706.5,861.6 706.3,861.9 706.1,862.2 705.8,862.5 705.4,862.8 704.9,863.1 704.4,863.4 703.7,863.7 703.0,863.9 702.3,864.1 701.4,864.3 700.5,864.5 699.6,864.7 698.6,864.9 697.5,865.0 696.5,865.1 695.4,865.2 694.3,865.3 693.1,865.3 692.0,865.3 690.9,865.3 689.7,865.3 688.6,865.2 687.5,865.1 686.5,865.0 685.4,864.9 684.4,864.7 683.5,864.5 682.6,864.3 681.7,864.1 681.0,863.9 680.3,863.7 679.6,863.4 679.1,863.1 678.6,862.8 678.2,862.5 677.9,862.2 677.7,861.9 677.5,861.6 677.5,861.3" stroke="#000" stroke-width="1.1" fill="none" stroke-linejoin="round" stroke-linecap="round"/>
<line x1="667.4" y1="853.5" x2="667.4" y2="876.5" stroke="#000" stroke-width="1.5"/>
<line x1="716.6" y1="853.5" x2="716.6" y2="876.5" stroke="#000" stroke-width="1.5"/>
<polyline points="716.6,876.5 716.6,877.3 716.3,878.1 716.0,878.9 715.4,879.7 714.8,880.4 714.0,881.2 713.0,881.9 711.9,882.6 710.7,883.2 709.4,883.8 708.0,884.3 706.5,884.8 704.9,885.3 703.2,885.7 701.4,886.0 699.6,886.3 697.8,886.5 695.9,886.7 693.9,886.8 692.0,886.8 690.1,886.8 688.1,886.7 686.2,886.5 684.4,886.3 682.6,886.0 680.8,885.7 679.1,885.3 677.5,884.8 676.0,884.3 674.6,883.8 673.3,883.2 672.1,882.6 671.0,881.9 670.0,881.2 669.2,880.4 668.6,879.7 668.0,878.9 667.7,878.1 667.4,877.3 667.4,876.5" stroke="#000" stroke-width="1.2" fill="none" stroke-linejoin="round" stroke-linecap="round"/>
<polyline points="658.0,872.8 658.0,872.4 658.0,872.0 658.1,871.6 658.1,871.3 658.2,870.9 658.3,870.5 658.4,870.1 658.6,869.7 658.7,869.4 658.9,869.0 659.1,868.6 659.3,868.2 659.5,867.9 659.7,867.5 660.0,867.1 660.2,866.8 660.5,866.4 660.8,866.0 661.1,865.7 661.4,865.3 661.8,865.0 662.1,864.7 662.5,864.3 662.9,864.0 663.3,863.7 663.7,863.3 664.2,863.0 664.6,862.7 665.1,862.4 665.6,862.1 666.1,861.8 666.6,861.5 667.1,861.2 667.6,860.9 668.2,860.7 668.7,860.4 669.3,860.1 669.9,859.9 670.5,859.6 671.1,859.4" stroke="#000" stroke-width="1.5" fill="none" stroke-linejoin="round" stroke-linecap="round"/>
<polyline points="712.9,859.4 713.5,859.6 714.1,859.9 714.7,860.1 715.3,860.4 715.8,860.7 716.4,860.9 716.9,861.2 717.4,861.5 717.9,861.8 718.4,862.1 718.9,862.4 719.4,862.7 719.8,863.0 720.3,863.3 720.7,863.7 721.1,864.0 721.5,864.3 721.9,864.7 722.2,865.0 722.6,865.3 722.9,865.7 723.2,866.0 723.5,866.4 723.8,866.8 724.0,867.1 724.3,867.5 724.5,867.9 724.7,868.2 724.9,868.6 725.1,869.0 725.3,869.4 725.4,869.7 725.6,870.1 725.7,870.5 725.8,870.9 725.9,871.3 725.9,871.6 726.0,872.0 726.0,872.4 726.0,872.8" stroke="#000" stroke-width="1.5" fill="none" stroke-linejoin="round" stroke-linecap="round"/>
<polyline points="726.0,872.8 725.9,874.1 725.6,875.5 725.1,876.8 724.3,878.1 723.4,879.3 722.3,880.5 721.0,881.7 719.5,882.8 717.9,883.8 716.0,884.8 714.1,885.7 712.0,886.6 709.8,887.3 707.4,887.9 705.0,888.5 702.5,889.0 699.9,889.3 697.3,889.6 694.7,889.7 692.0,889.8 689.3,889.7 686.7,889.6 684.1,889.3 681.5,889.0 679.0,888.5 676.6,887.9 674.2,887.3 672.0,886.6 669.9,885.7 668.0,884.8 666.1,883.8 664.5,882.8 663.0,881.7 661.7,880.5 660.6,879.3 659.7,878.1 658.9,876.8 658.4,875.5 658.1,874.1 658.0,872.8" stroke="#000" stroke-width="1.2" fill="none" stroke-linejoin="round" stroke-linecap="round"/>
<line x1="658.0" y1="872.8" x2="658.0" y2="895.8" stroke="#000" stroke-width="1.6"/>
<line x1="726.0" y1="872.8" x2="726.0" y2="895.8" stroke="#000" stroke-width="1.6"/>
<polyline points="726.0,881.3 725.9,882.6 725.6,883.9 725.1,885.2 724.3,886.4 723.4,887.7 722.3,888.8 721.0,890.0 719.5,891.1 717.9,892.1 716.0,893.0 714.1,893.9 712.0,894.7 709.8,895.5 707.4,896.1 705.0,896.6 702.5,897.1 699.9,897.4 697.3,897.7 694.7,897.8 692.0,897.9 689.3,897.8 686.7,897.7 684.1,897.4 681.5,897.1 679.0,896.6 676.6,896.1 674.2,895.5 672.0,894.7 669.9,893.9 668.0,893.0 666.1,892.1 664.5,891.1 663.0,890.0 661.7,888.8 660.6,887.7 659.7,886.4 658.9,885.2 658.4,883.9 658.1,882.6 658.0,881.3" stroke="#000" stroke-width="1.6" fill="none" stroke-linejoin="round" stroke-linecap="round"/>
<polyline points="726.0,885.0 725.9,886.3 725.6,887.6 725.1,888.9 724.3,890.1 723.4,891.4 722.3,892.5 721.0,893.7 719.5,894.8 717.9,895.8 716.0,896.7 714.1,897.6 712.0,898.4 709.8,899.2 707.4,899.8 705.0,900.3 702.5,900.8 699.9,901.1 697.3,901.4 694.7,901.5 692.0,901.6 689.3,901.5 686.7,901.4 684.1,901.1 681.5,900.8 679.0,900.3 676.6,899.8 674.2,899.2 672.0,898.4 669.9,897.6 668.0,896.7 666.1,895.8 664.5,894.8 663.0,893.7 661.7,892.5 660.6,891.4 659.7,890.1 658.9,888.9 658.4,887.6 658.1,886.3 658.0,885.0" stroke="#000" stroke-width="1.1" fill="none" stroke-linejoin="round" stroke-linecap="round"/>
<polyline points="726.0,895.8 725.9,896.9 725.6,898.0 725.1,899.1 724.3,900.2 723.4,901.2 722.3,902.2 721.0,903.2 719.5,904.1 717.9,905.0 716.0,905.8 714.1,906.6 712.0,907.3 709.8,907.9 707.4,908.5 705.0,908.9 702.5,909.3 699.9,909.6 697.3,909.8 694.7,910.0 692.0,910.0 689.3,910.0 686.7,909.8 684.1,909.6 681.5,909.3 679.0,908.9 676.6,908.5 674.2,907.9 672.0,907.3 669.9,906.6 668.0,905.8 666.1,905.0 664.5,904.1 663.0,903.2 661.7,902.2 660.6,901.2 659.7,900.2 658.9,899.1 658.4,898.0 658.1,896.9 658.0,895.8" stroke="#000" stroke-width="1.8" fill="none" stroke-linejoin="round" stroke-linecap="round"/>
<ellipse cx="613.2" cy="938.0" rx="22.3" ry="11.8" stroke="#000" stroke-width="1.5" fill="none"/>
<line x1="590.9" y1="938.0" x2="590.9" y2="945.5" stroke="#000" stroke-width="1.5"/>
<line x1="635.5" y1="938.0" x2="635.5" y2="945.5" stroke="#000" stroke-width="1.5"/>
<polyline points="635.5,945.5 635.4,946.4 635.2,947.3 634.9,948.3 634.4,949.1 633.8,950.0 633.1,950.9 632.2,951.7 631.2,952.4 630.2,953.2 629.0,953.8 627.7,954.5 626.3,955.0 624.9,955.6 623.3,956.0 621.7,956.4 620.1,956.7 618.4,957.0 616.7,957.2 614.9,957.3 613.2,957.3 611.5,957.3 609.7,957.2 608.0,957.0 606.3,956.7 604.7,956.4 603.1,956.0 601.5,955.6 600.1,955.0 598.7,954.5 597.4,953.8 596.2,953.2 595.2,952.4 594.2,951.7 593.3,950.9 592.6,950.0 592.0,949.1 591.5,948.3 591.2,947.3 591.0,946.4 590.9,945.5" stroke="#000" stroke-width="1.6" fill="none" stroke-linejoin="round" stroke-linecap="round"/>
<ellipse cx="613.2" cy="937.5" rx="16.1" ry="8.0" stroke="#000" stroke-width="1.2" fill="none"/>
<polyline points="599.4,941.0 599.4,940.6 599.5,940.2 599.8,939.8 600.1,939.4 600.4,939.0 600.9,938.6 601.4,938.2 602.0,937.9 602.7,937.6 603.4,937.2 604.2,937.0 605.1,936.7 606.0,936.5 606.9,936.3 607.9,936.1 608.9,935.9 610.0,935.8 611.0,935.8 612.1,935.7 613.2,935.7 614.3,935.7 615.4,935.8 616.4,935.8 617.5,935.9 618.5,936.1 619.5,936.3 620.4,936.5 621.3,936.7 622.2,937.0 623.0,937.2 623.7,937.6 624.4,937.9 625.0,938.2 625.5,938.6 626.0,939.0 626.3,939.4 626.6,939.8 626.9,940.2 627.0,940.6 627.0,941.0" stroke="#000" stroke-width="1.0" fill="none" stroke-linejoin="round" stroke-linecap="round"/>
<ellipse cx="692.6" cy="929.5" rx="21.6" ry="11.5" stroke="#000" stroke-width="1.5" fill="none"/>
<line x1="671.0" y1="929.5" x2="671.0" y2="936.5" stroke="#000" stroke-width="1.5"/>
<line x1="714.2" y1="929.5" x2="714.2" y2="936.5" stroke="#000" stroke-width="1.5"/>
<polyline points="714.2,936.5 714.1,937.4 713.9,938.3 713.6,939.2 713.1,940.1 712.6,940.9 711.8,941.7 711.0,942.5 710.1,943.3 709.0,944.0 707.9,944.6 706.6,945.2 705.3,945.8 703.9,946.3 702.4,946.7 700.9,947.1 699.3,947.4 697.6,947.7 696.0,947.9 694.3,948.0 692.6,948.0 690.9,948.0 689.2,947.9 687.6,947.7 685.9,947.4 684.3,947.1 682.8,946.7 681.3,946.3 679.9,945.8 678.6,945.2 677.3,944.6 676.2,944.0 675.1,943.3 674.2,942.5 673.4,941.7 672.6,940.9 672.1,940.1 671.6,939.2 671.3,938.3 671.1,937.4 671.0,936.5" stroke="#000" stroke-width="1.6" fill="none" stroke-linejoin="round" stroke-linecap="round"/>
<ellipse cx="692.6" cy="929.0" rx="15.6" ry="7.8" stroke="#000" stroke-width="1.2" fill="none"/>
<polyline points="679.2,932.5 679.2,932.1 679.4,931.7 679.6,931.3 679.9,930.9 680.2,930.5 680.7,930.2 681.2,929.8 681.8,929.5 682.4,929.1 683.1,928.8 683.9,928.6 684.7,928.3 685.6,928.1 686.5,927.9 687.5,927.7 688.5,927.6 689.5,927.5 690.5,927.4 691.5,927.3 692.6,927.3 693.7,927.3 694.7,927.4 695.7,927.5 696.7,927.6 697.7,927.7 698.7,927.9 699.6,928.1 700.5,928.3 701.3,928.6 702.1,928.8 702.8,929.1 703.4,929.5 704.0,929.8 704.5,930.2 705.0,930.5 705.3,930.9 705.6,931.3 705.8,931.7 706.0,932.1 706.0,932.5" stroke="#000" stroke-width="1.0" fill="none" stroke-linejoin="round" stroke-linecap="round"/>
<path d="M597.0,1036.0 L597.0,985.9 A15.8,15 0 0 1 628.6,985.9 L628.6,1036.0" stroke="#000" stroke-width="1.6" fill="none" stroke-linejoin="round" stroke-linecap="round"/>
<polyline points="590.8,1036.0 590.8,1035.9 590.8,1035.8 590.8,1035.6 590.9,1035.5 590.9,1035.4 590.9,1035.3 591.0,1035.1 591.1,1035.0 591.1,1034.9 591.2,1034.8 591.3,1034.6 591.4,1034.5 591.5,1034.4 591.6,1034.3 591.7,1034.2 591.8,1034.0 592.0,1033.9 592.1,1033.8 592.2,1033.7 592.4,1033.6 592.6,1033.4 592.7,1033.3 592.9,1033.2 593.1,1033.1 593.3,1033.0 593.5,1032.9 593.7,1032.8 593.9,1032.7 594.1,1032.6 594.3,1032.5 594.6,1032.4 594.8,1032.3 595.1,1032.2 595.3,1032.1 595.6,1032.0 595.8,1031.9 596.1,1031.8 596.4,1031.7 596.7,1031.6 597.0,1031.5" stroke="#000" stroke-width="1.4" fill="none" stroke-linejoin="round" stroke-linecap="round"/>
<polyline points="628.6,1031.5 628.9,1031.6 629.2,1031.7 629.5,1031.8 629.8,1031.9 630.0,1032.0 630.3,1032.1 630.5,1032.2 630.8,1032.3 631.0,1032.4 631.3,1032.5 631.5,1032.6 631.7,1032.7 631.9,1032.8 632.1,1032.9 632.3,1033.0 632.5,1033.1 632.7,1033.2 632.9,1033.3 633.0,1033.4 633.2,1033.6 633.4,1033.7 633.5,1033.8 633.6,1033.9 633.8,1034.0 633.9,1034.2 634.0,1034.3 634.1,1034.4 634.2,1034.5 634.3,1034.6 634.4,1034.8 634.5,1034.9 634.5,1035.0 634.6,1035.1 634.7,1035.3 634.7,1035.4 634.7,1035.5 634.8,1035.6 634.8,1035.8 634.8,1035.9 634.8,1036.0" stroke="#000" stroke-width="1.4" fill="none" stroke-linejoin="round" stroke-linecap="round"/>
<polyline points="634.8,1036.0 634.7,1036.5 634.5,1037.0 634.2,1037.5 633.7,1038.0 633.1,1038.5 632.4,1039.0 631.6,1039.4 630.6,1039.8 629.5,1040.2 628.4,1040.6 627.1,1040.9 625.7,1041.3 624.3,1041.5 622.8,1041.8 621.2,1042.0 619.6,1042.2 617.9,1042.3 616.2,1042.4 614.5,1042.5 612.8,1042.5 611.1,1042.5 609.4,1042.4 607.7,1042.3 606.0,1042.2 604.4,1042.0 602.8,1041.8 601.3,1041.5 599.9,1041.3 598.5,1040.9 597.2,1040.6 596.1,1040.2 595.0,1039.8 594.0,1039.4 593.2,1039.0 592.5,1038.5 591.9,1038.0 591.4,1037.5 591.1,1037.0 590.9,1036.5 590.8,1036.0" stroke="#000" stroke-width="1.0" fill="none" stroke-linejoin="round" stroke-linecap="round"/>
<line x1="590.8" y1="1036.0" x2="590.8" y2="1050.0" stroke="#000" stroke-width="1.5"/>
<line x1="634.8" y1="1036.0" x2="634.8" y2="1050.0" stroke="#000" stroke-width="1.5"/>
<polyline points="634.8,1050.0 634.7,1050.5 634.5,1050.9 634.2,1051.4 633.7,1051.9 633.1,1052.3 632.4,1052.7 631.6,1053.1 630.6,1053.5 629.5,1053.9 628.4,1054.2 627.1,1054.6 625.7,1054.9 624.3,1055.1 622.8,1055.3 621.2,1055.5 619.6,1055.7 617.9,1055.8 616.2,1055.9 614.5,1056.0 612.8,1056.0 611.1,1056.0 609.4,1055.9 607.7,1055.8 606.0,1055.7 604.4,1055.5 602.8,1055.3 601.3,1055.1 599.9,1054.9 598.5,1054.6 597.2,1054.2 596.1,1053.9 595.0,1053.5 594.0,1053.1 593.2,1052.7 592.5,1052.3 591.9,1051.9 591.4,1051.4 591.1,1050.9 590.9,1050.5 590.8,1050.0" stroke="#000" stroke-width="1.6" fill="none" stroke-linejoin="round" stroke-linecap="round"/>
<polyline points="628.6,1035.0 628.6,1035.4 628.4,1035.7 628.2,1036.1 627.8,1036.4 627.4,1036.7 626.9,1037.0 626.3,1037.4 625.6,1037.6 624.8,1037.9 624.0,1038.2 623.1,1038.4 622.1,1038.6 621.1,1038.8 620.0,1039.0 618.8,1039.2 617.7,1039.3 616.5,1039.4 615.3,1039.4 614.0,1039.5 612.8,1039.5 611.6,1039.5 610.3,1039.4 609.1,1039.4 607.9,1039.3 606.8,1039.2 605.6,1039.0 604.5,1038.8 603.5,1038.6 602.5,1038.4 601.6,1038.2 600.8,1037.9 600.0,1037.6 599.3,1037.4 598.7,1037.0 598.2,1036.7 597.8,1036.4 597.4,1036.1 597.2,1035.7 597.0,1035.4 597.0,1035.0" stroke="#000" stroke-width="1.3" fill="none" stroke-linejoin="round" stroke-linecap="round"/>
<path d="M676.3,1027.7 L676.3,978.0 A15.8,15 0 0 1 707.9,978.0 L707.9,1027.7" stroke="#000" stroke-width="1.6" fill="none" stroke-linejoin="round" stroke-linecap="round"/>
<polyline points="670.1,1027.7 670.1,1027.6 670.1,1027.5 670.1,1027.3 670.2,1027.2 670.2,1027.1 670.2,1027.0 670.3,1026.8 670.4,1026.7 670.4,1026.6 670.5,1026.5 670.6,1026.3 670.7,1026.2 670.8,1026.1 670.9,1026.0 671.0,1025.9 671.1,1025.7 671.3,1025.6 671.4,1025.5 671.5,1025.4 671.7,1025.3 671.9,1025.1 672.0,1025.0 672.2,1024.9 672.4,1024.8 672.6,1024.7 672.8,1024.6 673.0,1024.5 673.2,1024.4 673.4,1024.3 673.6,1024.2 673.9,1024.1 674.1,1024.0 674.4,1023.9 674.6,1023.8 674.9,1023.7 675.1,1023.6 675.4,1023.5 675.7,1023.4 676.0,1023.3 676.3,1023.2" stroke="#000" stroke-width="1.4" fill="none" stroke-linejoin="round" stroke-linecap="round"/>
<polyline points="707.9,1023.2 708.2,1023.3 708.5,1023.4 708.8,1023.5 709.1,1023.6 709.3,1023.7 709.6,1023.8 709.8,1023.9 710.1,1024.0 710.3,1024.1 710.6,1024.2 710.8,1024.3 711.0,1024.4 711.2,1024.5 711.4,1024.6 711.6,1024.7 711.8,1024.8 712.0,1024.9 712.2,1025.0 712.3,1025.1 712.5,1025.3 712.7,1025.4 712.8,1025.5 712.9,1025.6 713.1,1025.7 713.2,1025.9 713.3,1026.0 713.4,1026.1 713.5,1026.2 713.6,1026.3 713.7,1026.5 713.8,1026.6 713.8,1026.7 713.9,1026.8 714.0,1027.0 714.0,1027.1 714.0,1027.2 714.1,1027.3 714.1,1027.5 714.1,1027.6 714.1,1027.7" stroke="#000" stroke-width="1.4" fill="none" stroke-linejoin="round" stroke-linecap="round"/>
<polyline points="714.1,1027.7 714.0,1028.2 713.8,1028.7 713.5,1029.2 713.0,1029.7 712.4,1030.2 711.7,1030.7 710.9,1031.1 709.9,1031.5 708.8,1031.9 707.7,1032.3 706.4,1032.6 705.0,1033.0 703.6,1033.2 702.1,1033.5 700.5,1033.7 698.9,1033.9 697.2,1034.0 695.5,1034.1 693.8,1034.2 692.1,1034.2 690.4,1034.2 688.7,1034.1 687.0,1034.0 685.3,1033.9 683.7,1033.7 682.1,1033.5 680.6,1033.2 679.2,1033.0 677.8,1032.6 676.5,1032.3 675.4,1031.9 674.3,1031.5 673.3,1031.1 672.5,1030.7 671.8,1030.2 671.2,1029.7 670.7,1029.2 670.4,1028.7 670.2,1028.2 670.1,1027.7" stroke="#000" stroke-width="1.0" fill="none" stroke-linejoin="round" stroke-linecap="round"/>
<line x1="670.1" y1="1027.7" x2="670.1" y2="1041.7" stroke="#000" stroke-width="1.5"/>
<line x1="714.1" y1="1027.7" x2="714.1" y2="1041.7" stroke="#000" stroke-width="1.5"/>
<polyline points="714.1,1041.7 714.0,1042.2 713.8,1042.6 713.5,1043.1 713.0,1043.6 712.4,1044.0 711.7,1044.4 710.9,1044.8 709.9,1045.2 708.8,1045.6 707.7,1045.9 706.4,1046.3 705.0,1046.6 703.6,1046.8 702.1,1047.0 700.5,1047.2 698.9,1047.4 697.2,1047.5 695.5,1047.6 693.8,1047.7 692.1,1047.7 690.4,1047.7 688.7,1047.6 687.0,1047.5 685.3,1047.4 683.7,1047.2 682.1,1047.0 680.6,1046.8 679.2,1046.6 677.8,1046.3 676.5,1045.9 675.4,1045.6 674.3,1045.2 673.3,1044.8 672.5,1044.4 671.8,1044.0 671.2,1043.6 670.7,1043.1 670.4,1042.6 670.2,1042.2 670.1,1041.7" stroke="#000" stroke-width="1.6" fill="none" stroke-linejoin="round" stroke-linecap="round"/>
<polyline points="707.9,1026.7 707.9,1027.1 707.7,1027.4 707.5,1027.8 707.1,1028.1 706.7,1028.4 706.2,1028.7 705.6,1029.1 704.9,1029.3 704.1,1029.6 703.3,1029.9 702.4,1030.1 701.4,1030.3 700.4,1030.5 699.3,1030.7 698.1,1030.9 697.0,1031.0 695.8,1031.1 694.6,1031.1 693.3,1031.2 692.1,1031.2 690.9,1031.2 689.6,1031.1 688.4,1031.1 687.2,1031.0 686.1,1030.9 684.9,1030.7 683.8,1030.5 682.8,1030.3 681.8,1030.1 680.9,1029.9 680.1,1029.6 679.3,1029.3 678.6,1029.1 678.0,1028.7 677.5,1028.4 677.1,1028.1 676.7,1027.8 676.5,1027.4 676.3,1027.1 676.3,1026.7" stroke="#000" stroke-width="1.3" fill="none" stroke-linejoin="round" stroke-linecap="round"/>
<ellipse cx="612.3" cy="1080.8" rx="31.0" ry="14.5" stroke="#000" stroke-width="1.5" fill="none"/>
<ellipse cx="612.3" cy="1080.8" rx="23.0" ry="12.5" stroke="#000" stroke-width="1.3" fill="none"/>
<ellipse cx="612.3" cy="1082.8" rx="17.0" ry="8.5" stroke="#000" stroke-width="1.3" fill="none"/>
<polyline points="626.4,1087.2 626.1,1087.6 625.7,1088.0 625.2,1088.4 624.7,1088.7 624.2,1089.1 623.6,1089.4 623.0,1089.7 622.3,1090.0 621.6,1090.3 620.9,1090.5 620.1,1090.8 619.3,1091.0 618.5,1091.2 617.7,1091.3 616.8,1091.5 615.9,1091.6 615.0,1091.7 614.1,1091.7 613.2,1091.8 612.3,1091.8 611.4,1091.8 610.5,1091.7 609.6,1091.7 608.7,1091.6 607.8,1091.5 606.9,1091.3 606.1,1091.2 605.3,1091.0 604.5,1090.8 603.7,1090.5 603.0,1090.3 602.3,1090.0 601.6,1089.7 601.0,1089.4 600.4,1089.1 599.9,1088.7 599.4,1088.4 598.9,1088.0 598.5,1087.6 598.2,1087.2" stroke="#000" stroke-width="1.0" fill="none" stroke-linejoin="round" stroke-linecap="round"/>
<polyline points="624.1,1089.1 623.8,1089.4 623.4,1089.7 623.0,1089.9 622.5,1090.2 622.1,1090.4 621.6,1090.7 621.0,1090.9 620.5,1091.1 619.9,1091.3 619.3,1091.4 618.7,1091.6 618.0,1091.7 617.3,1091.9 616.6,1092.0 615.9,1092.1 615.2,1092.2 614.5,1092.2 613.8,1092.3 613.0,1092.3 612.3,1092.3 611.6,1092.3 610.8,1092.3 610.1,1092.2 609.4,1092.2 608.7,1092.1 608.0,1092.0 607.3,1091.9 606.6,1091.7 605.9,1091.6 605.3,1091.4 604.7,1091.3 604.1,1091.1 603.6,1090.9 603.0,1090.7 602.5,1090.4 602.1,1090.2 601.6,1089.9 601.2,1089.7 600.8,1089.4 600.5,1089.1" stroke="#000" stroke-width="1.0" fill="none" stroke-linejoin="round" stroke-linecap="round"/>
<polyline points="581.3,1080.8 581.3,1091.8 601.8,1110.5 633.3,1107.5 643.3,1092.8 643.3,1080.8" stroke="#000" stroke-width="1.6" fill="none" stroke-linejoin="round" stroke-linecap="round"/>
<line x1="601.8" y1="1101.0" x2="601.8" y2="1110.5" stroke="#000" stroke-width="1.1"/>
<polyline points="640.4,1088.9 639.6,1089.7 638.7,1090.4 637.8,1091.1 636.7,1091.7 635.6,1092.4 634.4,1093.0 633.1,1093.5 631.8,1094.1 630.4,1094.6 629.0,1095.0 627.4,1095.5 625.9,1095.8 624.3,1096.2 622.6,1096.5 621.0,1096.7 619.3,1096.9 617.5,1097.1 615.8,1097.2 614.1,1097.3 612.3,1097.3 610.5,1097.3 608.8,1097.2 607.1,1097.1 605.3,1096.9 603.6,1096.7 602.0,1096.5 600.3,1096.2 598.7,1095.8 597.2,1095.5 595.6,1095.0 594.2,1094.6 592.8,1094.1 591.5,1093.5 590.2,1093.0 589.0,1092.4 587.9,1091.7 586.8,1091.1 585.9,1090.4 585.0,1089.7 584.2,1088.9" stroke="#000" stroke-width="1.0" fill="none" stroke-linejoin="round" stroke-linecap="round"/>
<ellipse cx="692.1" cy="1082.2" rx="31.0" ry="14.5" stroke="#000" stroke-width="1.5" fill="none"/>
<ellipse cx="692.1" cy="1082.2" rx="23.0" ry="12.5" stroke="#000" stroke-width="1.3" fill="none"/>
<ellipse cx="692.1" cy="1084.2" rx="17.0" ry="8.5" stroke="#000" stroke-width="1.3" fill="none"/>
<polyline points="706.2,1088.6 705.9,1089.0 705.5,1089.4 705.0,1089.8 704.5,1090.1 704.0,1090.5 703.4,1090.8 702.8,1091.1 702.1,1091.4 701.4,1091.7 700.7,1091.9 699.9,1092.2 699.1,1092.4 698.3,1092.6 697.5,1092.7 696.6,1092.9 695.7,1093.0 694.8,1093.1 693.9,1093.1 693.0,1093.2 692.1,1093.2 691.2,1093.2 690.3,1093.1 689.4,1093.1 688.5,1093.0 687.6,1092.9 686.7,1092.7 685.9,1092.6 685.1,1092.4 684.3,1092.2 683.5,1091.9 682.8,1091.7 682.1,1091.4 681.4,1091.1 680.8,1090.8 680.2,1090.5 679.7,1090.1 679.2,1089.8 678.7,1089.4 678.3,1089.0 678.0,1088.6" stroke="#000" stroke-width="1.0" fill="none" stroke-linejoin="round" stroke-linecap="round"/>
<polyline points="703.9,1090.5 703.6,1090.8 703.2,1091.1 702.8,1091.3 702.3,1091.6 701.9,1091.8 701.4,1092.1 700.8,1092.3 700.3,1092.5 699.7,1092.7 699.1,1092.8 698.5,1093.0 697.8,1093.1 697.1,1093.3 696.4,1093.4 695.7,1093.5 695.0,1093.6 694.3,1093.6 693.6,1093.7 692.8,1093.7 692.1,1093.7 691.4,1093.7 690.6,1093.7 689.9,1093.6 689.2,1093.6 688.5,1093.5 687.8,1093.4 687.1,1093.3 686.4,1093.1 685.7,1093.0 685.1,1092.8 684.5,1092.7 683.9,1092.5 683.4,1092.3 682.8,1092.1 682.3,1091.8 681.9,1091.6 681.4,1091.3 681.0,1091.1 680.6,1090.8 680.3,1090.5" stroke="#000" stroke-width="1.0" fill="none" stroke-linejoin="round" stroke-linecap="round"/>
<polyline points="661.1,1082.2 661.1,1093.2 681.6,1112.8 713.1,1109.8 723.1,1094.2 723.1,1082.2" stroke="#000" stroke-width="1.6" fill="none" stroke-linejoin="round" stroke-linecap="round"/>
<line x1="681.6" y1="1103.3" x2="681.6" y2="1112.8" stroke="#000" stroke-width="1.1"/>
<polyline points="720.2,1090.3 719.4,1091.1 718.5,1091.8 717.6,1092.5 716.5,1093.1 715.4,1093.8 714.2,1094.4 712.9,1094.9 711.6,1095.5 710.2,1096.0 708.8,1096.4 707.2,1096.9 705.7,1097.2 704.1,1097.6 702.4,1097.9 700.8,1098.1 699.1,1098.3 697.3,1098.5 695.6,1098.6 693.9,1098.7 692.1,1098.7 690.3,1098.7 688.6,1098.6 686.9,1098.5 685.1,1098.3 683.4,1098.1 681.8,1097.9 680.1,1097.6 678.5,1097.2 677.0,1096.9 675.4,1096.4 674.0,1096.0 672.6,1095.5 671.3,1094.9 670.0,1094.4 668.8,1093.8 667.7,1093.1 666.6,1092.5 665.7,1091.8 664.8,1091.1 664.0,1090.3" stroke="#000" stroke-width="1.0" fill="none" stroke-linejoin="round" stroke-linecap="round"/>
<path d="M508.25,1070.38 C510.78,1070.38 512.83,1073.02 512.83,1076.30 C512.83,1079.58 510.78,1082.22 508.25,1082.22 C505.72,1082.22 503.68,1079.58 503.68,1076.30 C503.68,1073.02 505.72,1070.38 508.25,1070.38 Z" stroke="#000" stroke-width="1.75" fill="none" stroke-linecap="round" stroke-linejoin="round"/>
<path d="M521.95,1070.38 C523.96,1070.38 525.43,1071.64 525.43,1073.34 C525.43,1075.03 523.96,1076.13 521.95,1076.13 C519.94,1076.13 518.47,1075.03 518.47,1073.34 C518.47,1071.64 519.94,1070.38 521.95,1070.38 Z M521.95,1076.13 C524.60,1076.13 526.52,1077.40 526.52,1079.18 C526.52,1080.96 524.60,1082.22 521.95,1082.22 C519.30,1082.22 517.38,1080.96 517.38,1079.18 C517.38,1077.40 519.30,1076.13 521.95,1076.13 Z" stroke="#000" stroke-width="1.75" fill="none" stroke-linecap="round" stroke-linejoin="round"/>
<line x1="529.8" y1="1076.5" x2="581.9" y2="1082.6" stroke="#000" stroke-width="1.3"/>
<path d="M817.12,1059.67 C819.91,1059.67 822.18,1062.32 822.18,1065.60 C822.18,1068.88 819.91,1071.52 817.12,1071.52 C814.34,1071.52 812.08,1068.88 812.08,1065.60 C812.08,1062.32 814.34,1059.67 817.12,1059.67 Z" stroke="#000" stroke-width="1.75" fill="none" stroke-linecap="round" stroke-linejoin="round"/>
<path d="M826.73,1059.67 L836.83,1059.67 L830.36,1071.52" stroke="#000" stroke-width="1.75" fill="none" stroke-linecap="round" stroke-linejoin="round"/>
<line x1="722.8" y1="1085.8" x2="807.9" y2="1067.2" stroke="#000" stroke-width="1.3"/>
<path d="M539.58,761.38 L539.58,772.52 L543.81,772.52 C546.00,772.52 547.52,771.41 547.52,769.58 C547.52,767.75 546.00,766.63 543.64,766.63 L539.58,766.63 M543.64,766.63 C545.50,766.63 546.85,765.60 546.85,764.00 C546.85,762.41 545.50,761.38 543.47,761.38 L539.58,761.38" stroke="#000" stroke-width="1.75" fill="none" stroke-linecap="round" stroke-linejoin="round"/>
<line x1="560.0" y1="770.7" x2="591.6" y2="775.3" stroke="#000" stroke-width="1.3"/>
<path d="M546.45,818.05 C545.58,816.77 544.17,815.97 542.42,815.97 C539.80,815.97 537.88,818.44 537.88,821.55 C537.88,824.66 539.80,827.12 542.42,827.12 C544.17,827.12 545.58,826.33 546.45,825.05" stroke="#000" stroke-width="1.75" fill="none" stroke-linecap="round" stroke-linejoin="round"/>
<line x1="558.6" y1="821.9" x2="581.0" y2="821.9" stroke="#000" stroke-width="1.3"/>
<path d="M467.07,876.53 L467.07,888.38" stroke="#000" stroke-width="1.75" fill="none" stroke-linecap="round" stroke-linejoin="round"/>
<path d="M474.73,879.57 C474.73,877.79 476.42,876.53 478.70,876.53 C481.07,876.53 482.59,877.88 482.59,879.83 C482.59,881.77 480.73,882.96 478.87,884.23 L474.48,888.38 L482.93,888.38" stroke="#000" stroke-width="1.75" fill="none" stroke-linecap="round" stroke-linejoin="round"/>
<line x1="487.9" y1="883.7" x2="527.4" y2="883.7" stroke="#000" stroke-width="1.3"/>
<path d="M535.27,889.83 L540.90,878.58 L546.52,889.83 M537.30,885.97 L544.50,885.97" stroke="#000" stroke-width="1.75" fill="none" stroke-linecap="round" stroke-linejoin="round"/>
<line x1="555.3" y1="883.7" x2="578.6" y2="882.3" stroke="#000" stroke-width="1.3"/>
<path d="M546.71,940.38 L537.30,940.38 L537.30,952.62 L546.71,952.62 M537.30,946.33 L545.66,946.33" stroke="#000" stroke-width="1.75" fill="none" stroke-linecap="round" stroke-linejoin="round"/>
<line x1="556.7" y1="945.6" x2="591.6" y2="941.9" stroke="#000" stroke-width="1.3"/>
<path d="M537.30,1002.27 L537.30,1014.02 L541.27,1014.02 C545.03,1014.02 547.12,1011.67 547.12,1008.15 C547.12,1004.62 545.03,1002.27 541.27,1002.27 Z" stroke="#000" stroke-width="1.75" fill="none" stroke-linecap="round" stroke-linejoin="round"/>
<line x1="556.7" y1="1007.0" x2="597.2" y2="1004.7" stroke="#000" stroke-width="1.3"/>
<polyline points="530.0,766.5 505.6,766.5 505.6,1007.9 528.0,1007.9" stroke="#000" stroke-width="1.3" fill="none" stroke-linejoin="round" stroke-linecap="round"/>
<line x1="505.6" y1="821.9" x2="522.8" y2="821.9" stroke="#000" stroke-width="1.3"/>
<line x1="505.6" y1="945.6" x2="525.0" y2="945.6" stroke="#000" stroke-width="1.3"/>
<path d="M773.07,749.52 L773.07,760.67 L778.05,760.67 C780.63,760.67 782.42,759.56 782.42,757.73 C782.42,755.90 780.63,754.78 777.85,754.78 L773.07,754.78 M777.85,754.78 C780.04,754.78 781.63,753.75 781.63,752.15 C781.63,750.56 780.04,749.52 777.65,749.52 L773.07,749.52" stroke="#000" stroke-width="1.75" fill="none" stroke-linecap="round" stroke-linejoin="round"/>
<line x1="714.9" y1="765.1" x2="767.0" y2="756.7" stroke="#000" stroke-width="1.3"/>
<path d="M782.23,811.05 C781.23,809.65 779.64,808.77 777.65,808.77 C774.66,808.77 772.48,811.49 772.48,814.90 C772.48,818.31 774.66,821.02 777.65,821.02 C779.64,821.02 781.23,820.15 782.23,818.75" stroke="#000" stroke-width="1.75" fill="none" stroke-linecap="round" stroke-linejoin="round"/>
<line x1="724.2" y1="815.3" x2="764.7" y2="815.3" stroke="#000" stroke-width="1.3"/>
<path d="M772.48,882.83 L777.45,871.58 L782.42,882.83 M774.27,878.97 L780.63,878.97" stroke="#000" stroke-width="1.75" fill="none" stroke-linecap="round" stroke-linejoin="round"/>
<line x1="726.5" y1="876.7" x2="764.7" y2="876.7" stroke="#000" stroke-width="1.3"/>
<path d="M832.77,871.08 L832.77,882.93" stroke="#000" stroke-width="1.75" fill="none" stroke-linecap="round" stroke-linejoin="round"/>
<path d="M843.62,871.08 L843.62,882.93" stroke="#000" stroke-width="1.75" fill="none" stroke-linecap="round" stroke-linejoin="round"/>
<path d="M782.03,933.47 L773.07,933.47 L773.07,945.62 L782.03,945.62 M773.07,939.38 L781.03,939.38" stroke="#000" stroke-width="1.75" fill="none" stroke-linecap="round" stroke-linejoin="round"/>
<line x1="714.9" y1="933.5" x2="764.7" y2="938.1" stroke="#000" stroke-width="1.3"/>
<path d="M773.07,996.17 L773.07,1008.42 L776.85,1008.42 C780.43,1008.42 782.42,1005.97 782.42,1002.30 C782.42,998.62 780.43,996.17 776.85,996.17 Z" stroke="#000" stroke-width="1.75" fill="none" stroke-linecap="round" stroke-linejoin="round"/>
<line x1="707.9" y1="1002.3" x2="764.7" y2="1002.3" stroke="#000" stroke-width="1.3"/>
<polyline points="794.9,754.4 807.9,754.4 807.9,1003.3 797.2,1003.3" stroke="#000" stroke-width="1.3" fill="none" stroke-linejoin="round" stroke-linecap="round"/>
<line x1="797.2" y1="815.3" x2="807.9" y2="815.3" stroke="#000" stroke-width="1.3"/>
<line x1="797.2" y1="876.7" x2="827.4" y2="876.7" stroke="#000" stroke-width="1.3"/>
<line x1="797.2" y1="940.0" x2="807.9" y2="940.0" stroke="#000" stroke-width="1.3"/>
<line x1="422.0" y1="633.7" x2="428.0" y2="633.5" stroke="#000" stroke-width="1.0"/>
<line x1="433.0" y1="633.0" x2="440.0" y2="632.5" stroke="#000" stroke-width="1.0"/>
</svg>
</body></html>
